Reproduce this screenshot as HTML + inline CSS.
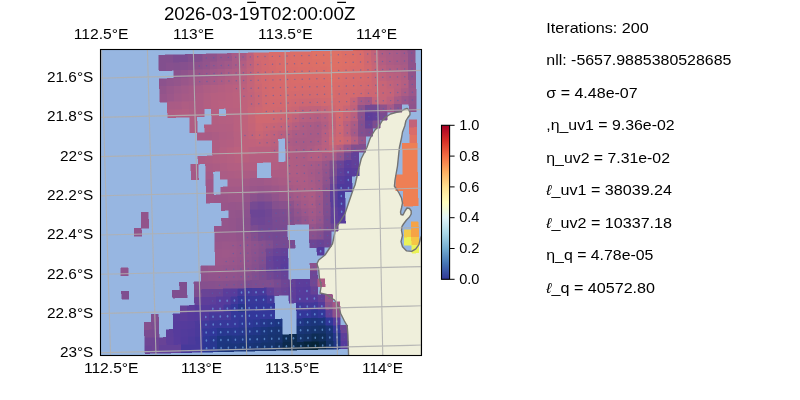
<!DOCTYPE html><html><head><meta charset="utf-8"><style>html,body{margin:0;padding:0;background:#fff;overflow:hidden}svg{display:block}</style></head><body><svg width="800" height="400" viewBox="0 0 800 400">
<defs>
<clipPath id="ax"><rect x="100.5" y="49.5" width="321" height="306"/></clipPath>
<linearGradient id="cb" x1="0" y1="1" x2="0" y2="0"><stop offset="0" stop-color="#313695"/><stop offset="0.05" stop-color="#3a54a4"/><stop offset="0.1" stop-color="#4574b3"/><stop offset="0.15" stop-color="#5c90c2"/><stop offset="0.2" stop-color="#74add1"/><stop offset="0.25" stop-color="#90c3dd"/><stop offset="0.3" stop-color="#aad8e9"/><stop offset="0.35" stop-color="#c5e6f0"/><stop offset="0.4" stop-color="#e0f3f8"/><stop offset="0.45" stop-color="#f0f9db"/><stop offset="0.5" stop-color="#fffebe"/><stop offset="0.55" stop-color="#fff0a8"/><stop offset="0.6" stop-color="#fee090"/><stop offset="0.65" stop-color="#fdc778"/><stop offset="0.7" stop-color="#fdad60"/><stop offset="0.75" stop-color="#f88c51"/><stop offset="0.8" stop-color="#f46d43"/><stop offset="0.85" stop-color="#e54e35"/><stop offset="0.9" stop-color="#d62f27"/><stop offset="0.95" stop-color="#bd1726"/><stop offset="1" stop-color="#a50026"/></linearGradient>
</defs>
<rect width="800" height="400" fill="#fff"/>
<g clip-path="url(#ax)">
<rect x="100" y="49" width="322" height="307" fill="#97b6e1"/>
<path d="M407,108.4 408.5,109.5 410,112.5 410,114.75 407.75,117.75 405.9,120.75 404.75,126 402.5,132 401.5,138 399.4,147.5 397.5,166 395,180 394.4,186.25 396.5,189 399,193 401.5,198 402.5,203 401.5,208 400.5,212 401,214.5 403,215 405,211 407,208 409.5,208.5 411.2,211 411.2,214 409.5,217 406.5,220 403.5,224 402,226.3 401.5,230.4 402.5,235.5 401,241.6 402.5,246.8 406.6,250.9 411.7,251.4 415.8,248.8 418.9,244.7 420.4,238.6 421.5,236 421.5,356 348.6,356 347.9,335 347.2,325.9 344.4,321 340.9,314 338.1,305.6 334.6,300 332.5,298.75 326.25,294.4 320,293 321.25,286 319.4,278 318.75,270 318.1,267.5 316.9,263.75 318.75,260 325,255 332.5,243.75 335,232 337,226 338.75,223.75 345,213.75 348.75,202.5 353,190 355,185 358.75,168.75 361.25,158.75 366.9,147.5 370,138.75 371.9,135 375,130 379,126 380,124.5 382.25,120.75 386,117 390.5,114 395.75,112.5 401.75,111 404,109.5Z" fill="#efefdb"/>
<g shape-rendering="crispEdges"><path d="M158.6,55.15 165.93,54.97 166.15,62.81 158.81,62.99Z" fill="#824f8e" stroke="#824f8e" stroke-width="0.5"/><path d="M165.93,54.97 173.27,54.8 173.48,62.64 166.15,62.81Z" fill="#824f8e" stroke="#824f8e" stroke-width="0.5"/><path d="M173.27,54.8 180.6,54.62 180.81,62.46 173.48,62.64Z" fill="#7b4c90" stroke="#7b4c90" stroke-width="0.5"/><path d="M180.6,54.62 187.93,54.45 188.14,62.29 180.81,62.46Z" fill="#7b4c90" stroke="#7b4c90" stroke-width="0.5"/><path d="M187.93,54.45 195.27,54.27 195.47,62.11 188.14,62.29Z" fill="#824f8e" stroke="#824f8e" stroke-width="0.5"/><path d="M195.27,54.27 202.6,54.1 202.8,61.94 195.47,62.11Z" fill="#824f8e" stroke="#824f8e" stroke-width="0.5"/><path d="M202.6,54.1 209.94,53.92 210.14,61.76 202.8,61.94Z" fill="#8f538c" stroke="#8f538c" stroke-width="0.5"/><path d="M209.94,53.92 217.27,53.75 217.47,61.59 210.14,61.76Z" fill="#8f538c" stroke="#8f538c" stroke-width="0.5"/><path d="M217.27,53.75 224.6,53.57 224.8,61.41 217.47,61.59Z" fill="#99568a" stroke="#99568a" stroke-width="0.5"/><path d="M224.6,53.57 231.94,53.4 232.13,61.24 224.8,61.41Z" fill="#99568a" stroke="#99568a" stroke-width="0.5"/><path d="M231.94,53.4 239.27,53.22 239.46,61.06 232.13,61.24Z" fill="#a85b86" stroke="#a85b86" stroke-width="0.5"/><path d="M239.27,53.22 246.6,53.04 246.79,60.89 239.46,61.06Z" fill="#a85b86" stroke="#a85b86" stroke-width="0.5"/><path d="M246.6,53.04 253.94,52.87 254.13,60.71 246.79,60.89Z" fill="#bc617e" stroke="#bc617e" stroke-width="0.5"/><path d="M253.94,52.87 261.27,52.69 261.46,60.54 254.13,60.71Z" fill="#d16970" stroke="#d16970" stroke-width="0.5"/><path d="M261.27,52.69 268.6,52.52 268.79,60.36 261.46,60.54Z" fill="#d16970" stroke="#d16970" stroke-width="0.5"/><path d="M268.6,52.52 275.94,52.34 276.12,60.19 268.79,60.36Z" fill="#da6c6a" stroke="#da6c6a" stroke-width="0.5"/><path d="M275.94,52.34 283.27,52.17 283.45,60.01 276.12,60.19Z" fill="#da6c6a" stroke="#da6c6a" stroke-width="0.5"/><path d="M283.27,52.17 290.61,51.99 290.78,59.83 283.45,60.01Z" fill="#da6c6a" stroke="#da6c6a" stroke-width="0.5"/><path d="M290.61,51.99 297.94,51.82 298.12,59.66 290.78,59.83Z" fill="#dc6e67" stroke="#dc6e67" stroke-width="0.5"/><path d="M297.94,51.82 305.27,51.64 305.45,59.48 298.12,59.66Z" fill="#dc6e67" stroke="#dc6e67" stroke-width="0.5"/><path d="M305.27,51.64 312.61,51.47 312.78,59.31 305.45,59.48Z" fill="#dc6e67" stroke="#dc6e67" stroke-width="0.5"/><path d="M312.61,51.47 319.94,51.29 320.11,59.13 312.78,59.31Z" fill="#df7165" stroke="#df7165" stroke-width="0.5"/><path d="M319.94,51.29 327.27,51.12 327.44,58.96 320.11,59.13Z" fill="#df7165" stroke="#df7165" stroke-width="0.5"/><path d="M327.27,51.12 334.61,50.94 334.77,58.78 327.44,58.96Z" fill="#df7165" stroke="#df7165" stroke-width="0.5"/><path d="M334.61,50.94 341.94,50.77 342.1,58.61 334.77,58.78Z" fill="#df7165" stroke="#df7165" stroke-width="0.5"/><path d="M341.94,50.77 349.27,50.59 349.44,58.43 342.1,58.61Z" fill="#dc6e67" stroke="#dc6e67" stroke-width="0.5"/><path d="M349.27,50.59 356.61,50.41 356.77,58.26 349.44,58.43Z" fill="#dc6e67" stroke="#dc6e67" stroke-width="0.5"/><path d="M356.61,50.41 363.94,50.24 364.1,58.08 356.77,58.26Z" fill="#da6c6a" stroke="#da6c6a" stroke-width="0.5"/><path d="M363.94,50.24 371.28,50.06 371.43,57.91 364.1,58.08Z" fill="#ce6872" stroke="#ce6872" stroke-width="0.5"/><path d="M371.28,50.06 378.61,49.89 378.76,57.73 371.43,57.91Z" fill="#c2637a" stroke="#c2637a" stroke-width="0.5"/><path d="M378.61,49.89 385.94,49.71 386.09,57.56 378.76,57.73Z" fill="#b05d82" stroke="#b05d82" stroke-width="0.5"/><path d="M385.94,49.71 393.28,49.54 393.43,57.38 386.09,57.56Z" fill="#ab5c85" stroke="#ab5c85" stroke-width="0.5"/><path d="M393.28,49.54 400.61,49.36 400.76,57.21 393.43,57.38Z" fill="#a85b86" stroke="#a85b86" stroke-width="0.5"/><path d="M400.61,49.36 407.94,49.19 408.09,57.03 400.76,57.21Z" fill="#a25988" stroke="#a25988" stroke-width="0.5"/><path d="M407.94,49.19 415.28,49.01 415.42,56.85 408.09,57.03Z" fill="#8f538c" stroke="#8f538c" stroke-width="0.5"/><path d="M158.81,62.99 166.15,62.81 166.36,70.66 159.03,70.83Z" fill="#824f8e" stroke="#824f8e" stroke-width="0.5"/><path d="M166.15,62.81 173.48,62.64 173.69,70.48 166.36,70.66Z" fill="#86508e" stroke="#86508e" stroke-width="0.5"/><path d="M173.48,62.64 180.81,62.46 181.02,70.31 173.69,70.48Z" fill="#84508e" stroke="#84508e" stroke-width="0.5"/><path d="M180.81,62.46 188.14,62.29 188.35,70.13 181.02,70.31Z" fill="#86508e" stroke="#86508e" stroke-width="0.5"/><path d="M188.14,62.29 195.47,62.11 195.68,69.96 188.35,70.13Z" fill="#8a518d" stroke="#8a518d" stroke-width="0.5"/><path d="M195.47,62.11 202.8,61.94 203.01,69.78 195.68,69.96Z" fill="#8d528c" stroke="#8d528c" stroke-width="0.5"/><path d="M202.8,61.94 210.14,61.76 210.34,69.6 203.01,69.78Z" fill="#92548b" stroke="#92548b" stroke-width="0.5"/><path d="M210.14,61.76 217.47,61.59 217.67,69.43 210.34,69.6Z" fill="#98568a" stroke="#98568a" stroke-width="0.5"/><path d="M217.47,61.59 224.8,61.41 225,69.25 217.67,69.43Z" fill="#9d5789" stroke="#9d5789" stroke-width="0.5"/><path d="M224.8,61.41 232.13,61.24 232.33,69.08 225,69.25Z" fill="#a15988" stroke="#a15988" stroke-width="0.5"/><path d="M232.13,61.24 239.46,61.06 239.66,68.9 232.33,69.08Z" fill="#a85b86" stroke="#a85b86" stroke-width="0.5"/><path d="M239.46,61.06 246.79,60.89 246.98,68.73 239.66,68.9Z" fill="#b25e82" stroke="#b25e82" stroke-width="0.5"/><path d="M246.79,60.89 254.13,60.71 254.31,68.55 246.98,68.73Z" fill="#be627c" stroke="#be627c" stroke-width="0.5"/><path d="M254.13,60.71 261.46,60.54 261.64,68.38 254.31,68.55Z" fill="#cd6773" stroke="#cd6773" stroke-width="0.5"/><path d="M261.46,60.54 268.79,60.36 268.97,68.2 261.64,68.38Z" fill="#d3696f" stroke="#d3696f" stroke-width="0.5"/><path d="M268.79,60.36 276.12,60.19 276.3,68.03 268.97,68.2Z" fill="#d66a6d" stroke="#d66a6d" stroke-width="0.5"/><path d="M276.12,60.19 283.45,60.01 283.63,67.85 276.3,68.03Z" fill="#d96c6b" stroke="#d96c6b" stroke-width="0.5"/><path d="M283.45,60.01 290.78,59.83 290.96,67.68 283.63,67.85Z" fill="#da6c6a" stroke="#da6c6a" stroke-width="0.5"/><path d="M290.78,59.83 298.12,59.66 298.29,67.5 290.96,67.68Z" fill="#db6d69" stroke="#db6d69" stroke-width="0.5"/><path d="M298.12,59.66 305.45,59.48 305.62,67.33 298.29,67.5Z" fill="#dc6e68" stroke="#dc6e68" stroke-width="0.5"/><path d="M305.45,59.48 312.78,59.31 312.95,67.15 305.62,67.33Z" fill="#dc6e67" stroke="#dc6e67" stroke-width="0.5"/><path d="M312.78,59.31 320.11,59.13 320.28,66.98 312.95,67.15Z" fill="#dd6f66" stroke="#dd6f66" stroke-width="0.5"/><path d="M320.11,59.13 327.44,58.96 327.61,66.8 320.28,66.98Z" fill="#de7066" stroke="#de7066" stroke-width="0.5"/><path d="M327.44,58.96 334.77,58.78 334.94,66.63 327.61,66.8Z" fill="#de7066" stroke="#de7066" stroke-width="0.5"/><path d="M334.77,58.78 342.1,58.61 342.27,66.45 334.94,66.63Z" fill="#de7066" stroke="#de7066" stroke-width="0.5"/><path d="M342.1,58.61 349.44,58.43 349.6,66.28 342.27,66.45Z" fill="#dd6f67" stroke="#dd6f67" stroke-width="0.5"/><path d="M349.44,58.43 356.77,58.26 356.93,66.1 349.6,66.28Z" fill="#dc6e67" stroke="#dc6e67" stroke-width="0.5"/><path d="M356.77,58.26 364.1,58.08 364.26,65.92 356.93,66.1Z" fill="#da6c6a" stroke="#da6c6a" stroke-width="0.5"/><path d="M364.1,58.08 371.43,57.91 371.59,65.75 364.26,65.92Z" fill="#d06870" stroke="#d06870" stroke-width="0.5"/><path d="M371.43,57.91 378.76,57.73 378.92,65.57 371.59,65.75Z" fill="#c46479" stroke="#c46479" stroke-width="0.5"/><path d="M378.76,57.73 386.09,57.56 386.25,65.4 378.92,65.57Z" fill="#b45e81" stroke="#b45e81" stroke-width="0.5"/><path d="M386.09,57.56 393.43,57.38 393.58,65.22 386.25,65.4Z" fill="#ad5c84" stroke="#ad5c84" stroke-width="0.5"/><path d="M393.43,57.38 400.76,57.21 400.91,65.05 393.58,65.22Z" fill="#a95b85" stroke="#a95b85" stroke-width="0.5"/><path d="M400.76,57.21 408.09,57.03 408.23,64.87 400.91,65.05Z" fill="#a45a87" stroke="#a45a87" stroke-width="0.5"/><path d="M408.09,57.03 415.42,56.85 415.56,64.7 408.23,64.87Z" fill="#8f538c" stroke="#8f538c" stroke-width="0.5"/><path d="M173.69,70.48 181.02,70.31 181.23,78.15 173.9,78.32Z" fill="#8b528d" stroke="#8b528d" stroke-width="0.5"/><path d="M181.02,70.31 188.35,70.13 188.56,77.97 181.23,78.15Z" fill="#8f538c" stroke="#8f538c" stroke-width="0.5"/><path d="M188.35,70.13 195.68,69.96 195.88,77.8 188.56,77.97Z" fill="#95558b" stroke="#95558b" stroke-width="0.5"/><path d="M195.68,69.96 203.01,69.78 203.21,77.62 195.88,77.8Z" fill="#99568a" stroke="#99568a" stroke-width="0.5"/><path d="M203.01,69.78 210.34,69.6 210.54,77.45 203.21,77.62Z" fill="#9c578a" stroke="#9c578a" stroke-width="0.5"/><path d="M210.34,69.6 217.67,69.43 217.87,77.27 210.54,77.45Z" fill="#a15988" stroke="#a15988" stroke-width="0.5"/><path d="M217.67,69.43 225,69.25 225.19,77.1 217.87,77.27Z" fill="#a65a86" stroke="#a65a86" stroke-width="0.5"/><path d="M225,69.25 232.33,69.08 232.52,76.92 225.19,77.1Z" fill="#ab5c85" stroke="#ab5c85" stroke-width="0.5"/><path d="M232.33,69.08 239.66,68.9 239.85,76.75 232.52,76.92Z" fill="#af5d83" stroke="#af5d83" stroke-width="0.5"/><path d="M239.66,68.9 246.98,68.73 247.18,76.57 239.85,76.75Z" fill="#b76080" stroke="#b76080" stroke-width="0.5"/><path d="M246.98,68.73 254.31,68.55 254.5,76.4 247.18,76.57Z" fill="#c1637a" stroke="#c1637a" stroke-width="0.5"/><path d="M254.31,68.55 261.64,68.38 261.83,76.22 254.5,76.4Z" fill="#cd6773" stroke="#cd6773" stroke-width="0.5"/><path d="M261.64,68.38 268.97,68.2 269.16,76.04 261.83,76.22Z" fill="#d3696f" stroke="#d3696f" stroke-width="0.5"/><path d="M268.97,68.2 276.3,68.03 276.49,75.87 269.16,76.04Z" fill="#d56a6d" stroke="#d56a6d" stroke-width="0.5"/><path d="M276.3,68.03 283.63,67.85 283.81,75.69 276.49,75.87Z" fill="#d86b6b" stroke="#d86b6b" stroke-width="0.5"/><path d="M283.63,67.85 290.96,67.68 291.14,75.52 283.81,75.69Z" fill="#d96c6b" stroke="#d96c6b" stroke-width="0.5"/><path d="M290.96,67.68 298.29,67.5 298.47,75.34 291.14,75.52Z" fill="#da6c6a" stroke="#da6c6a" stroke-width="0.5"/><path d="M298.29,67.5 305.62,67.33 305.8,75.17 298.47,75.34Z" fill="#db6d69" stroke="#db6d69" stroke-width="0.5"/><path d="M305.62,67.33 312.95,67.15 313.12,74.99 305.8,75.17Z" fill="#db6d69" stroke="#db6d69" stroke-width="0.5"/><path d="M312.95,67.15 320.28,66.98 320.45,74.82 313.12,74.99Z" fill="#dc6e68" stroke="#dc6e68" stroke-width="0.5"/><path d="M320.28,66.98 327.61,66.8 327.78,74.64 320.45,74.82Z" fill="#dc6e67" stroke="#dc6e67" stroke-width="0.5"/><path d="M327.61,66.8 334.94,66.63 335.11,74.47 327.78,74.64Z" fill="#dd6f67" stroke="#dd6f67" stroke-width="0.5"/><path d="M334.94,66.63 342.27,66.45 342.43,74.29 335.11,74.47Z" fill="#dd6f67" stroke="#dd6f67" stroke-width="0.5"/><path d="M342.27,66.45 349.6,66.28 349.76,74.12 342.43,74.29Z" fill="#dc6e68" stroke="#dc6e68" stroke-width="0.5"/><path d="M349.6,66.28 356.93,66.1 357.09,73.94 349.76,74.12Z" fill="#da6c6a" stroke="#da6c6a" stroke-width="0.5"/><path d="M356.93,66.1 364.26,65.92 364.42,73.77 357.09,73.94Z" fill="#d96c6b" stroke="#d96c6b" stroke-width="0.5"/><path d="M364.26,65.92 371.59,65.75 371.74,73.59 364.42,73.77Z" fill="#d2696f" stroke="#d2696f" stroke-width="0.5"/><path d="M371.59,65.75 378.92,65.57 379.07,73.42 371.74,73.59Z" fill="#c76577" stroke="#c76577" stroke-width="0.5"/><path d="M378.92,65.57 386.25,65.4 386.4,73.24 379.07,73.42Z" fill="#ba607f" stroke="#ba607f" stroke-width="0.5"/><path d="M386.25,65.4 393.58,65.22 393.73,73.07 386.4,73.24Z" fill="#b25e82" stroke="#b25e82" stroke-width="0.5"/><path d="M393.58,65.22 400.91,65.05 401.05,72.89 393.73,73.07Z" fill="#af5d83" stroke="#af5d83" stroke-width="0.5"/><path d="M400.91,65.05 408.23,64.87 408.38,72.72 401.05,72.89Z" fill="#a95b85" stroke="#a95b85" stroke-width="0.5"/><path d="M408.23,64.87 415.56,64.7 415.71,72.54 408.38,72.72Z" fill="#90538c" stroke="#90538c" stroke-width="0.5"/><path d="M159.25,78.67 166.57,78.5 166.79,86.34 159.46,86.51Z" fill="#8c528d" stroke="#8c528d" stroke-width="0.5"/><path d="M166.57,78.5 173.9,78.32 174.11,86.16 166.79,86.34Z" fill="#91548c" stroke="#91548c" stroke-width="0.5"/><path d="M173.9,78.32 181.23,78.15 181.44,85.99 174.11,86.16Z" fill="#94558b" stroke="#94558b" stroke-width="0.5"/><path d="M181.23,78.15 188.56,77.97 188.76,85.81 181.44,85.99Z" fill="#99568a" stroke="#99568a" stroke-width="0.5"/><path d="M188.56,77.97 195.88,77.8 196.09,85.64 188.76,85.81Z" fill="#9e5889" stroke="#9e5889" stroke-width="0.5"/><path d="M195.88,77.8 203.21,77.62 203.41,85.46 196.09,85.64Z" fill="#a15988" stroke="#a15988" stroke-width="0.5"/><path d="M203.21,77.62 210.54,77.45 210.74,85.29 203.41,85.46Z" fill="#a55a87" stroke="#a55a87" stroke-width="0.5"/><path d="M210.54,77.45 217.87,77.27 218.06,85.11 210.74,85.29Z" fill="#a85b86" stroke="#a85b86" stroke-width="0.5"/><path d="M217.87,77.27 225.19,77.1 225.39,84.94 218.06,85.11Z" fill="#ad5c84" stroke="#ad5c84" stroke-width="0.5"/><path d="M225.19,77.1 232.52,76.92 232.72,84.76 225.39,84.94Z" fill="#b15e82" stroke="#b15e82" stroke-width="0.5"/><path d="M232.52,76.92 239.85,76.75 240.04,84.59 232.72,84.76Z" fill="#b55f81" stroke="#b55f81" stroke-width="0.5"/><path d="M239.85,76.75 247.18,76.57 247.37,84.41 240.04,84.59Z" fill="#b9607f" stroke="#b9607f" stroke-width="0.5"/><path d="M247.18,76.57 254.5,76.4 254.69,84.24 247.37,84.41Z" fill="#c36479" stroke="#c36479" stroke-width="0.5"/><path d="M254.5,76.4 261.83,76.22 262.02,84.06 254.69,84.24Z" fill="#ce6872" stroke="#ce6872" stroke-width="0.5"/><path d="M261.83,76.22 269.16,76.04 269.34,83.89 262.02,84.06Z" fill="#d3696f" stroke="#d3696f" stroke-width="0.5"/><path d="M269.16,76.04 276.49,75.87 276.67,83.71 269.34,83.89Z" fill="#d56a6d" stroke="#d56a6d" stroke-width="0.5"/><path d="M276.49,75.87 283.81,75.69 283.99,83.54 276.67,83.71Z" fill="#d76b6c" stroke="#d76b6c" stroke-width="0.5"/><path d="M283.81,75.69 291.14,75.52 291.32,83.36 283.99,83.54Z" fill="#d86b6b" stroke="#d86b6b" stroke-width="0.5"/><path d="M291.14,75.52 298.47,75.34 298.64,83.19 291.32,83.36Z" fill="#d96c6a" stroke="#d96c6a" stroke-width="0.5"/><path d="M298.47,75.34 305.8,75.17 305.97,83.01 298.64,83.19Z" fill="#da6c6a" stroke="#da6c6a" stroke-width="0.5"/><path d="M305.8,75.17 313.12,74.99 313.3,82.84 305.97,83.01Z" fill="#da6c6a" stroke="#da6c6a" stroke-width="0.5"/><path d="M313.12,74.99 320.45,74.82 320.62,82.66 313.3,82.84Z" fill="#da6c6a" stroke="#da6c6a" stroke-width="0.5"/><path d="M320.45,74.82 327.78,74.64 327.95,82.49 320.62,82.66Z" fill="#db6d69" stroke="#db6d69" stroke-width="0.5"/><path d="M327.78,74.64 335.11,74.47 335.27,82.31 327.95,82.49Z" fill="#dc6e68" stroke="#dc6e68" stroke-width="0.5"/><path d="M335.11,74.47 342.43,74.29 342.6,82.14 335.27,82.31Z" fill="#db6d69" stroke="#db6d69" stroke-width="0.5"/><path d="M342.43,74.29 349.76,74.12 349.92,81.96 342.6,82.14Z" fill="#d96c6b" stroke="#d96c6b" stroke-width="0.5"/><path d="M349.76,74.12 357.09,73.94 357.25,81.79 349.92,81.96Z" fill="#d76b6c" stroke="#d76b6c" stroke-width="0.5"/><path d="M357.09,73.94 364.42,73.77 364.57,81.61 357.25,81.79Z" fill="#d76b6c" stroke="#d76b6c" stroke-width="0.5"/><path d="M364.42,73.77 371.74,73.59 371.9,81.43 364.57,81.61Z" fill="#d46a6e" stroke="#d46a6e" stroke-width="0.5"/><path d="M371.74,73.59 379.07,73.42 379.22,81.26 371.9,81.43Z" fill="#ca6675" stroke="#ca6675" stroke-width="0.5"/><path d="M379.07,73.42 386.4,73.24 386.55,81.08 379.22,81.26Z" fill="#c1637b" stroke="#c1637b" stroke-width="0.5"/><path d="M386.4,73.24 393.73,73.07 393.88,80.91 386.55,81.08Z" fill="#bb617e" stroke="#bb617e" stroke-width="0.5"/><path d="M393.73,73.07 401.05,72.89 401.2,80.73 393.88,80.91Z" fill="#b86080" stroke="#b86080" stroke-width="0.5"/><path d="M401.05,72.89 408.38,72.72 408.53,80.56 401.2,80.73Z" fill="#b25e82" stroke="#b25e82" stroke-width="0.5"/><path d="M408.38,72.72 415.71,72.54 415.85,80.38 408.53,80.56Z" fill="#92548b" stroke="#92548b" stroke-width="0.5"/><path d="M159.46,86.51 166.79,86.34 167,94.18 159.68,94.36Z" fill="#92548b" stroke="#92548b" stroke-width="0.5"/><path d="M166.79,86.34 174.11,86.16 174.32,94 167,94.18Z" fill="#99568a" stroke="#99568a" stroke-width="0.5"/><path d="M174.11,86.16 181.44,85.99 181.65,93.83 174.32,94Z" fill="#9e5889" stroke="#9e5889" stroke-width="0.5"/><path d="M181.44,85.99 188.76,85.81 188.97,93.65 181.65,93.83Z" fill="#a25988" stroke="#a25988" stroke-width="0.5"/><path d="M188.76,85.81 196.09,85.64 196.29,93.48 188.97,93.65Z" fill="#a65a86" stroke="#a65a86" stroke-width="0.5"/><path d="M196.09,85.64 203.41,85.46 203.62,93.3 196.29,93.48Z" fill="#aa5b85" stroke="#aa5b85" stroke-width="0.5"/><path d="M203.41,85.46 210.74,85.29 210.94,93.13 203.62,93.3Z" fill="#ae5d83" stroke="#ae5d83" stroke-width="0.5"/><path d="M210.74,85.29 218.06,85.11 218.26,92.95 210.94,93.13Z" fill="#b15e82" stroke="#b15e82" stroke-width="0.5"/><path d="M218.06,85.11 225.39,84.94 225.59,92.78 218.26,92.95Z" fill="#b45e81" stroke="#b45e81" stroke-width="0.5"/><path d="M225.39,84.94 232.72,84.76 232.91,92.6 225.59,92.78Z" fill="#b75f80" stroke="#b75f80" stroke-width="0.5"/><path d="M232.72,84.76 240.04,84.59 240.23,92.43 232.91,92.6Z" fill="#ba607f" stroke="#ba607f" stroke-width="0.5"/><path d="M240.04,84.59 247.37,84.41 247.56,92.25 240.23,92.43Z" fill="#bd617d" stroke="#bd617d" stroke-width="0.5"/><path d="M247.37,84.41 254.69,84.24 254.88,92.08 247.56,92.25Z" fill="#c46479" stroke="#c46479" stroke-width="0.5"/><path d="M254.69,84.24 262.02,84.06 262.2,91.9 254.88,92.08Z" fill="#cc6773" stroke="#cc6773" stroke-width="0.5"/><path d="M262.02,84.06 269.34,83.89 269.53,91.73 262.2,91.9Z" fill="#d3696f" stroke="#d3696f" stroke-width="0.5"/><path d="M269.34,83.89 276.67,83.71 276.85,91.55 269.53,91.73Z" fill="#d56a6d" stroke="#d56a6d" stroke-width="0.5"/><path d="M276.67,83.71 283.99,83.54 284.17,91.38 276.85,91.55Z" fill="#d66a6d" stroke="#d66a6d" stroke-width="0.5"/><path d="M283.99,83.54 291.32,83.36 291.5,91.2 284.17,91.38Z" fill="#d76b6c" stroke="#d76b6c" stroke-width="0.5"/><path d="M291.32,83.36 298.64,83.19 298.82,91.03 291.5,91.2Z" fill="#d86b6c" stroke="#d86b6c" stroke-width="0.5"/><path d="M298.64,83.19 305.97,83.01 306.14,90.85 298.82,91.03Z" fill="#d76b6c" stroke="#d76b6c" stroke-width="0.5"/><path d="M305.97,83.01 313.3,82.84 313.47,90.68 306.14,90.85Z" fill="#d76b6c" stroke="#d76b6c" stroke-width="0.5"/><path d="M313.3,82.84 320.62,82.66 320.79,90.5 313.47,90.68Z" fill="#d76b6c" stroke="#d76b6c" stroke-width="0.5"/><path d="M320.62,82.66 327.95,82.49 328.11,90.33 320.79,90.5Z" fill="#d96c6b" stroke="#d96c6b" stroke-width="0.5"/><path d="M327.95,82.49 335.27,82.31 335.44,90.15 328.11,90.33Z" fill="#da6c6a" stroke="#da6c6a" stroke-width="0.5"/><path d="M335.27,82.31 342.6,82.14 342.76,89.98 335.44,90.15Z" fill="#d96c6a" stroke="#d96c6a" stroke-width="0.5"/><path d="M342.6,82.14 349.92,81.96 350.08,89.8 342.76,89.98Z" fill="#d76b6c" stroke="#d76b6c" stroke-width="0.5"/><path d="M349.92,81.96 357.25,81.79 357.41,89.63 350.08,89.8Z" fill="#d76b6c" stroke="#d76b6c" stroke-width="0.5"/><path d="M357.25,81.79 364.57,81.61 364.73,89.45 357.41,89.63Z" fill="#d46a6e" stroke="#d46a6e" stroke-width="0.5"/><path d="M364.57,81.61 371.9,81.43 372.05,89.28 364.73,89.45Z" fill="#d2696f" stroke="#d2696f" stroke-width="0.5"/><path d="M371.9,81.43 379.22,81.26 379.38,89.1 372.05,89.28Z" fill="#cb6774" stroke="#cb6774" stroke-width="0.5"/><path d="M379.22,81.26 386.55,81.08 386.7,88.93 379.38,89.1Z" fill="#c86576" stroke="#c86576" stroke-width="0.5"/><path d="M386.55,81.08 393.88,80.91 394.02,88.75 386.7,88.93Z" fill="#c1637a" stroke="#c1637a" stroke-width="0.5"/><path d="M393.88,80.91 401.2,80.73 401.35,88.58 394.02,88.75Z" fill="#bc617e" stroke="#bc617e" stroke-width="0.5"/><path d="M401.2,80.73 408.53,80.56 408.67,88.4 401.35,88.58Z" fill="#b55f81" stroke="#b55f81" stroke-width="0.5"/><path d="M408.53,80.56 415.85,80.38 415.99,88.23 408.67,88.4Z" fill="#99568a" stroke="#99568a" stroke-width="0.5"/><path d="M159.68,94.36 167,94.18 167.21,102.02 159.89,102.2Z" fill="#97558b" stroke="#97558b" stroke-width="0.5"/><path d="M167,94.18 174.32,94 174.53,101.85 167.21,102.02Z" fill="#9c578a" stroke="#9c578a" stroke-width="0.5"/><path d="M174.32,94 181.65,93.83 181.86,101.67 174.53,101.85Z" fill="#a25988" stroke="#a25988" stroke-width="0.5"/><path d="M181.65,93.83 188.97,93.65 189.18,101.5 181.86,101.67Z" fill="#a65a86" stroke="#a65a86" stroke-width="0.5"/><path d="M188.97,93.65 196.29,93.48 196.5,101.32 189.18,101.5Z" fill="#a75b86" stroke="#a75b86" stroke-width="0.5"/><path d="M196.29,93.48 203.62,93.3 203.82,101.15 196.5,101.32Z" fill="#ad5c84" stroke="#ad5c84" stroke-width="0.5"/><path d="M203.62,93.3 210.94,93.13 211.14,100.97 203.82,101.15Z" fill="#b25e82" stroke="#b25e82" stroke-width="0.5"/><path d="M210.94,93.13 218.26,92.95 218.46,100.8 211.14,100.97Z" fill="#b65f80" stroke="#b65f80" stroke-width="0.5"/><path d="M218.26,92.95 225.59,92.78 225.78,100.62 218.46,100.8Z" fill="#b75f80" stroke="#b75f80" stroke-width="0.5"/><path d="M225.59,92.78 232.91,92.6 233.11,100.45 225.78,100.62Z" fill="#b9607f" stroke="#b9607f" stroke-width="0.5"/><path d="M232.91,92.6 240.23,92.43 240.43,100.27 233.11,100.45Z" fill="#bb617e" stroke="#bb617e" stroke-width="0.5"/><path d="M240.23,92.43 247.56,92.25 247.75,100.1 240.43,100.27Z" fill="#be627d" stroke="#be627d" stroke-width="0.5"/><path d="M247.56,92.25 254.88,92.08 255.07,99.92 247.75,100.1Z" fill="#c2637a" stroke="#c2637a" stroke-width="0.5"/><path d="M254.88,92.08 262.2,91.9 262.39,99.75 255.07,99.92Z" fill="#c96675" stroke="#c96675" stroke-width="0.5"/><path d="M262.2,91.9 269.53,91.73 269.71,99.57 262.39,99.75Z" fill="#d16970" stroke="#d16970" stroke-width="0.5"/><path d="M269.53,91.73 276.85,91.55 277.03,99.4 269.71,99.57Z" fill="#d56a6e" stroke="#d56a6e" stroke-width="0.5"/><path d="M276.85,91.55 284.17,91.38 284.35,99.22 277.03,99.4Z" fill="#d56a6e" stroke="#d56a6e" stroke-width="0.5"/><path d="M284.17,91.38 291.5,91.2 291.68,99.05 284.35,99.22Z" fill="#d56a6d" stroke="#d56a6d" stroke-width="0.5"/><path d="M291.5,91.2 298.82,91.03 299,98.87 291.68,99.05Z" fill="#d46a6e" stroke="#d46a6e" stroke-width="0.5"/><path d="M298.82,91.03 306.14,90.85 306.32,98.7 299,98.87Z" fill="#d36a6e" stroke="#d36a6e" stroke-width="0.5"/><path d="M306.14,90.85 313.47,90.68 313.64,98.52 306.32,98.7Z" fill="#d36a6e" stroke="#d36a6e" stroke-width="0.5"/><path d="M313.47,90.68 320.79,90.5 320.96,98.35 313.64,98.52Z" fill="#d46a6e" stroke="#d46a6e" stroke-width="0.5"/><path d="M320.79,90.5 328.11,90.33 328.28,98.17 320.96,98.35Z" fill="#d66b6d" stroke="#d66b6d" stroke-width="0.5"/><path d="M328.11,90.33 335.44,90.15 335.6,98 328.28,98.17Z" fill="#d86b6b" stroke="#d86b6b" stroke-width="0.5"/><path d="M335.44,90.15 342.76,89.98 342.93,97.82 335.6,98Z" fill="#d56a6d" stroke="#d56a6d" stroke-width="0.5"/><path d="M342.76,89.98 350.08,89.8 350.25,97.65 342.93,97.82Z" fill="#d46a6e" stroke="#d46a6e" stroke-width="0.5"/><path d="M350.08,89.8 357.41,89.63 357.57,97.47 350.25,97.65Z" fill="#d46a6e" stroke="#d46a6e" stroke-width="0.5"/><path d="M357.41,89.63 364.73,89.45 364.89,97.3 357.57,97.47Z" fill="#d26970" stroke="#d26970" stroke-width="0.5"/><path d="M364.73,89.45 372.05,89.28 372.21,97.12 364.89,97.3Z" fill="#cc6773" stroke="#cc6773" stroke-width="0.5"/><path d="M372.05,89.28 379.38,89.1 379.53,96.95 372.21,97.12Z" fill="#cd6773" stroke="#cd6773" stroke-width="0.5"/><path d="M379.38,89.1 386.7,88.93 386.85,96.77 379.53,96.95Z" fill="#c86576" stroke="#c86576" stroke-width="0.5"/><path d="M386.7,88.93 394.02,88.75 394.17,96.6 386.85,96.77Z" fill="#c56478" stroke="#c56478" stroke-width="0.5"/><path d="M394.02,88.75 401.35,88.58 401.5,96.42 394.17,96.6Z" fill="#b9607f" stroke="#b9607f" stroke-width="0.5"/><path d="M401.35,88.58 408.67,88.4 408.82,96.25 401.5,96.42Z" fill="#ac5c84" stroke="#ac5c84" stroke-width="0.5"/><path d="M408.67,88.4 415.99,88.23 416.14,96.07 408.82,96.25Z" fill="#9c578a" stroke="#9c578a" stroke-width="0.5"/><path d="M167.21,102.02 174.53,101.85 174.75,109.69 167.43,109.86Z" fill="#a95b85" stroke="#a95b85" stroke-width="0.5"/><path d="M174.53,101.85 181.86,101.67 182.07,109.51 174.75,109.69Z" fill="#aa5b85" stroke="#aa5b85" stroke-width="0.5"/><path d="M181.86,101.67 189.18,101.5 189.38,109.34 182.07,109.51Z" fill="#ae5d83" stroke="#ae5d83" stroke-width="0.5"/><path d="M189.18,101.5 196.5,101.32 196.7,109.16 189.38,109.34Z" fill="#ac5c84" stroke="#ac5c84" stroke-width="0.5"/><path d="M196.5,101.32 203.82,101.15 204.02,108.99 196.7,109.16Z" fill="#ad5c84" stroke="#ad5c84" stroke-width="0.5"/><path d="M203.82,101.15 211.14,100.97 211.34,108.81 204.02,108.99Z" fill="#b35e81" stroke="#b35e81" stroke-width="0.5"/><path d="M211.14,100.97 218.46,100.8 218.66,108.64 211.34,108.81Z" fill="#b75f80" stroke="#b75f80" stroke-width="0.5"/><path d="M218.46,100.8 225.78,100.62 225.98,108.46 218.66,108.64Z" fill="#b9607f" stroke="#b9607f" stroke-width="0.5"/><path d="M225.78,100.62 233.11,100.45 233.3,108.29 225.98,108.46Z" fill="#ba607f" stroke="#ba607f" stroke-width="0.5"/><path d="M233.11,100.45 240.43,100.27 240.62,108.11 233.3,108.29Z" fill="#bb617e" stroke="#bb617e" stroke-width="0.5"/><path d="M240.43,100.27 247.75,100.1 247.94,107.94 240.62,108.11Z" fill="#bf627c" stroke="#bf627c" stroke-width="0.5"/><path d="M247.75,100.1 255.07,99.92 255.26,107.76 247.94,107.94Z" fill="#c46478" stroke="#c46478" stroke-width="0.5"/><path d="M255.07,99.92 262.39,99.75 262.58,107.59 255.26,107.76Z" fill="#ca6675" stroke="#ca6675" stroke-width="0.5"/><path d="M262.39,99.75 269.71,99.57 269.9,107.41 262.58,107.59Z" fill="#d16970" stroke="#d16970" stroke-width="0.5"/><path d="M269.71,99.57 277.03,99.4 277.22,107.24 269.9,107.41Z" fill="#d3696f" stroke="#d3696f" stroke-width="0.5"/><path d="M277.03,99.4 284.35,99.22 284.54,107.06 277.22,107.24Z" fill="#d3696f" stroke="#d3696f" stroke-width="0.5"/><path d="M284.35,99.22 291.68,99.05 291.85,106.89 284.54,107.06Z" fill="#d26970" stroke="#d26970" stroke-width="0.5"/><path d="M291.68,99.05 299,98.87 299.17,106.71 291.85,106.89Z" fill="#d06871" stroke="#d06871" stroke-width="0.5"/><path d="M299,98.87 306.32,98.7 306.49,106.54 299.17,106.71Z" fill="#cd6773" stroke="#cd6773" stroke-width="0.5"/><path d="M306.32,98.7 313.64,98.52 313.81,106.36 306.49,106.54Z" fill="#cd6772" stroke="#cd6772" stroke-width="0.5"/><path d="M313.64,98.52 320.96,98.35 321.13,106.19 313.81,106.36Z" fill="#ce6872" stroke="#ce6872" stroke-width="0.5"/><path d="M320.96,98.35 328.28,98.17 328.45,106.01 321.13,106.19Z" fill="#d2696f" stroke="#d2696f" stroke-width="0.5"/><path d="M328.28,98.17 335.6,98 335.77,105.84 328.45,106.01Z" fill="#d3696f" stroke="#d3696f" stroke-width="0.5"/><path d="M335.6,98 342.93,97.82 343.09,105.66 335.77,105.84Z" fill="#d46a6e" stroke="#d46a6e" stroke-width="0.5"/><path d="M342.93,97.82 350.25,97.65 350.41,105.49 343.09,105.66Z" fill="#d46a6e" stroke="#d46a6e" stroke-width="0.5"/><path d="M350.25,97.65 357.57,97.47 357.73,105.31 350.41,105.49Z" fill="#c56478" stroke="#c56478" stroke-width="0.5"/><path d="M357.57,97.47 364.89,97.3 365.05,105.14 357.73,105.31Z" fill="#a95b85" stroke="#a95b85" stroke-width="0.5"/><path d="M364.89,97.3 372.21,97.12 372.37,104.96 365.05,105.14Z" fill="#a35987" stroke="#a35987" stroke-width="0.5"/><path d="M372.21,97.12 379.53,96.95 379.69,104.79 372.37,104.96Z" fill="#c2637a" stroke="#c2637a" stroke-width="0.5"/><path d="M379.53,96.95 386.85,96.77 387,104.61 379.69,104.79Z" fill="#c66578" stroke="#c66578" stroke-width="0.5"/><path d="M386.85,96.77 394.17,96.6 394.32,104.44 387,104.61Z" fill="#bd617d" stroke="#bd617d" stroke-width="0.5"/><path d="M394.17,96.6 401.5,96.42 401.64,104.26 394.32,104.44Z" fill="#a95b85" stroke="#a95b85" stroke-width="0.5"/><path d="M401.5,96.42 408.82,96.25 408.96,104.09 401.64,104.26Z" fill="#9c578a" stroke="#9c578a" stroke-width="0.5"/><path d="M408.82,96.25 416.14,96.07 416.28,103.91 408.96,104.09Z" fill="#92548b" stroke="#92548b" stroke-width="0.5"/><path d="M167.43,109.86 174.75,109.69 174.96,117.53 167.64,117.7Z" fill="#b05d83" stroke="#b05d83" stroke-width="0.5"/><path d="M174.75,109.69 182.07,109.51 182.27,117.35 174.96,117.53Z" fill="#b15e82" stroke="#b15e82" stroke-width="0.5"/><path d="M182.07,109.51 189.38,109.34 189.59,117.18 182.27,117.35Z" fill="#b25e82" stroke="#b25e82" stroke-width="0.5"/><path d="M189.38,109.34 196.7,109.16 196.91,117 189.59,117.18Z" fill="#ae5d83" stroke="#ae5d83" stroke-width="0.5"/><path d="M196.7,109.16 204.02,108.99 204.23,116.83 196.91,117Z" fill="#ad5c84" stroke="#ad5c84" stroke-width="0.5"/><path d="M211.34,108.81 218.66,108.64 218.86,116.48 211.54,116.65Z" fill="#b55f81" stroke="#b55f81" stroke-width="0.5"/><path d="M225.98,108.46 233.3,108.29 233.5,116.13 226.18,116.3Z" fill="#b86080" stroke="#b86080" stroke-width="0.5"/><path d="M233.3,108.29 240.62,108.11 240.81,115.95 233.5,116.13Z" fill="#b9607f" stroke="#b9607f" stroke-width="0.5"/><path d="M240.62,108.11 247.94,107.94 248.13,115.78 240.81,115.95Z" fill="#bf627c" stroke="#bf627c" stroke-width="0.5"/><path d="M247.94,107.94 255.26,107.76 255.45,115.6 248.13,115.78Z" fill="#c76577" stroke="#c76577" stroke-width="0.5"/><path d="M255.26,107.76 262.58,107.59 262.76,115.43 255.45,115.6Z" fill="#cd6773" stroke="#cd6773" stroke-width="0.5"/><path d="M262.58,107.59 269.9,107.41 270.08,115.26 262.76,115.43Z" fill="#d2696f" stroke="#d2696f" stroke-width="0.5"/><path d="M269.9,107.41 277.22,107.24 277.4,115.08 270.08,115.26Z" fill="#d16970" stroke="#d16970" stroke-width="0.5"/><path d="M277.22,107.24 284.54,107.06 284.72,114.91 277.4,115.08Z" fill="#d06871" stroke="#d06871" stroke-width="0.5"/><path d="M284.54,107.06 291.85,106.89 292.03,114.73 284.72,114.91Z" fill="#cd6773" stroke="#cd6773" stroke-width="0.5"/><path d="M291.85,106.89 299.17,106.71 299.35,114.56 292.03,114.73Z" fill="#ca6675" stroke="#ca6675" stroke-width="0.5"/><path d="M299.17,106.71 306.49,106.54 306.67,114.38 299.35,114.56Z" fill="#c2637a" stroke="#c2637a" stroke-width="0.5"/><path d="M306.49,106.54 313.81,106.36 313.98,114.21 306.67,114.38Z" fill="#c2637a" stroke="#c2637a" stroke-width="0.5"/><path d="M313.81,106.36 321.13,106.19 321.3,114.03 313.98,114.21Z" fill="#c0637b" stroke="#c0637b" stroke-width="0.5"/><path d="M321.13,106.19 328.45,106.01 328.62,113.86 321.3,114.03Z" fill="#c66578" stroke="#c66578" stroke-width="0.5"/><path d="M328.45,106.01 335.77,105.84 335.94,113.68 328.62,113.86Z" fill="#cb6774" stroke="#cb6774" stroke-width="0.5"/><path d="M335.77,105.84 343.09,105.66 343.25,113.51 335.94,113.68Z" fill="#d3696f" stroke="#d3696f" stroke-width="0.5"/><path d="M343.09,105.66 350.41,105.49 350.57,113.33 343.25,113.51Z" fill="#ca6675" stroke="#ca6675" stroke-width="0.5"/><path d="M350.41,105.49 357.73,105.31 357.89,113.16 350.57,113.33Z" fill="#c0627b" stroke="#c0627b" stroke-width="0.5"/><path d="M357.73,105.31 365.05,105.14 365.2,112.98 357.89,113.16Z" fill="#8e538c" stroke="#8e538c" stroke-width="0.5"/><path d="M365.05,105.14 372.37,104.96 372.52,112.81 365.2,112.98Z" fill="#744993" stroke="#744993" stroke-width="0.5"/><path d="M372.37,104.96 379.69,104.79 379.84,112.63 372.52,112.81Z" fill="#754992" stroke="#754992" stroke-width="0.5"/><path d="M379.69,104.79 387,104.61 387.16,112.46 379.84,112.63Z" fill="#8f538c" stroke="#8f538c" stroke-width="0.5"/><path d="M387,104.61 394.32,104.44 394.47,112.28 387.16,112.46Z" fill="#a55a87" stroke="#a55a87" stroke-width="0.5"/><path d="M394.32,104.44 401.64,104.26 401.79,112.11 394.47,112.28Z" fill="#8a528d" stroke="#8a528d" stroke-width="0.5"/><path d="M408.96,104.09 416.28,103.91 416.43,111.76 409.11,111.93Z" fill="#8f538c" stroke="#8f538c" stroke-width="0.5"/><path d="M189.59,117.18 196.91,117 197.11,124.85 189.8,125.02Z" fill="#b05d83" stroke="#b05d83" stroke-width="0.5"/><path d="M211.54,116.65 218.86,116.48 219.06,124.32 211.74,124.5Z" fill="#b35e81" stroke="#b35e81" stroke-width="0.5"/><path d="M218.86,116.48 226.18,116.3 226.38,124.15 219.06,124.32Z" fill="#b45f81" stroke="#b45f81" stroke-width="0.5"/><path d="M226.18,116.3 233.5,116.13 233.69,123.97 226.38,124.15Z" fill="#b55f81" stroke="#b55f81" stroke-width="0.5"/><path d="M233.5,116.13 240.81,115.95 241.01,123.8 233.69,123.97Z" fill="#b9607f" stroke="#b9607f" stroke-width="0.5"/><path d="M240.81,115.95 248.13,115.78 248.32,123.62 241.01,123.8Z" fill="#bf627c" stroke="#bf627c" stroke-width="0.5"/><path d="M248.13,115.78 255.45,115.6 255.64,123.45 248.32,123.62Z" fill="#c76576" stroke="#c76576" stroke-width="0.5"/><path d="M255.45,115.6 262.76,115.43 262.95,123.27 255.64,123.45Z" fill="#d06871" stroke="#d06871" stroke-width="0.5"/><path d="M262.76,115.43 270.08,115.26 270.27,123.1 262.95,123.27Z" fill="#d06871" stroke="#d06871" stroke-width="0.5"/><path d="M270.08,115.26 277.4,115.08 277.58,122.92 270.27,123.1Z" fill="#ce6872" stroke="#ce6872" stroke-width="0.5"/><path d="M277.4,115.08 284.72,114.91 284.9,122.75 277.58,122.92Z" fill="#cc6774" stroke="#cc6774" stroke-width="0.5"/><path d="M284.72,114.91 292.03,114.73 292.21,122.57 284.9,122.75Z" fill="#c86576" stroke="#c86576" stroke-width="0.5"/><path d="M292.03,114.73 299.35,114.56 299.53,122.4 292.21,122.57Z" fill="#c0637b" stroke="#c0637b" stroke-width="0.5"/><path d="M299.35,114.56 306.67,114.38 306.84,122.22 299.53,122.4Z" fill="#b76080" stroke="#b76080" stroke-width="0.5"/><path d="M306.67,114.38 313.98,114.21 314.16,122.05 306.84,122.22Z" fill="#b65f80" stroke="#b65f80" stroke-width="0.5"/><path d="M313.98,114.21 321.3,114.03 321.47,121.87 314.16,122.05Z" fill="#b35e81" stroke="#b35e81" stroke-width="0.5"/><path d="M321.3,114.03 328.62,113.86 328.79,121.7 321.47,121.87Z" fill="#b86080" stroke="#b86080" stroke-width="0.5"/><path d="M328.62,113.86 335.94,113.68 336.1,121.52 328.79,121.7Z" fill="#c36379" stroke="#c36379" stroke-width="0.5"/><path d="M335.94,113.68 343.25,113.51 343.42,121.35 336.1,121.52Z" fill="#d3696f" stroke="#d3696f" stroke-width="0.5"/><path d="M343.25,113.51 350.57,113.33 350.73,121.17 343.42,121.35Z" fill="#c76576" stroke="#c76576" stroke-width="0.5"/><path d="M350.57,113.33 357.89,113.16 358.05,121 350.73,121.17Z" fill="#b9607f" stroke="#b9607f" stroke-width="0.5"/><path d="M357.89,113.16 365.2,112.98 365.36,120.82 358.05,121Z" fill="#8b528d" stroke="#8b528d" stroke-width="0.5"/><path d="M365.2,112.98 372.52,112.81 372.68,120.65 365.36,120.82Z" fill="#5d3e9a" stroke="#5d3e9a" stroke-width="0.5"/><path d="M372.52,112.81 379.84,112.63 379.99,120.47 372.68,120.65Z" fill="#624099" stroke="#624099" stroke-width="0.5"/><path d="M379.84,112.63 387.16,112.46 387.31,120.3 379.99,120.47Z" fill="#7b4c90" stroke="#7b4c90" stroke-width="0.5"/><path d="M189.8,125.02 197.11,124.85 197.32,132.69 190.01,132.86Z" fill="#af5d83" stroke="#af5d83" stroke-width="0.5"/><path d="M204.43,124.67 211.74,124.5 211.95,132.34 204.63,132.51Z" fill="#b05d82" stroke="#b05d82" stroke-width="0.5"/><path d="M211.74,124.5 219.06,124.32 219.26,132.16 211.95,132.34Z" fill="#b15e82" stroke="#b15e82" stroke-width="0.5"/><path d="M219.06,124.32 226.38,124.15 226.57,131.99 219.26,132.16Z" fill="#b25e82" stroke="#b25e82" stroke-width="0.5"/><path d="M226.38,124.15 233.69,123.97 233.89,131.81 226.57,131.99Z" fill="#b35e81" stroke="#b35e81" stroke-width="0.5"/><path d="M233.69,123.97 241.01,123.8 241.2,131.64 233.89,131.81Z" fill="#b9607f" stroke="#b9607f" stroke-width="0.5"/><path d="M241.01,123.8 248.32,123.62 248.51,131.46 241.2,131.64Z" fill="#bf627c" stroke="#bf627c" stroke-width="0.5"/><path d="M248.32,123.62 255.64,123.45 255.82,131.29 248.51,131.46Z" fill="#c56478" stroke="#c56478" stroke-width="0.5"/><path d="M255.64,123.45 262.95,123.27 263.14,131.11 255.82,131.29Z" fill="#cd6773" stroke="#cd6773" stroke-width="0.5"/><path d="M262.95,123.27 270.27,123.1 270.45,130.94 263.14,131.11Z" fill="#c96675" stroke="#c96675" stroke-width="0.5"/><path d="M270.27,123.1 277.58,122.92 277.76,130.76 270.45,130.94Z" fill="#c76576" stroke="#c76576" stroke-width="0.5"/><path d="M277.58,122.92 284.9,122.75 285.08,130.59 277.76,130.76Z" fill="#c46479" stroke="#c46479" stroke-width="0.5"/><path d="M284.9,122.75 292.21,122.57 292.39,130.41 285.08,130.59Z" fill="#be627d" stroke="#be627d" stroke-width="0.5"/><path d="M292.21,122.57 299.53,122.4 299.7,130.24 292.39,130.41Z" fill="#b65f80" stroke="#b65f80" stroke-width="0.5"/><path d="M299.53,122.4 306.84,122.22 307.02,130.07 299.7,130.24Z" fill="#ae5d83" stroke="#ae5d83" stroke-width="0.5"/><path d="M306.84,122.22 314.16,122.05 314.33,129.89 307.02,130.07Z" fill="#ab5c84" stroke="#ab5c84" stroke-width="0.5"/><path d="M314.16,122.05 321.47,121.87 321.64,129.72 314.33,129.89Z" fill="#a85b85" stroke="#a85b85" stroke-width="0.5"/><path d="M321.47,121.87 328.79,121.7 328.96,129.54 321.64,129.72Z" fill="#b15e82" stroke="#b15e82" stroke-width="0.5"/><path d="M328.79,121.7 336.1,121.52 336.27,129.37 328.96,129.54Z" fill="#c0627b" stroke="#c0627b" stroke-width="0.5"/><path d="M336.1,121.52 343.42,121.35 343.58,129.19 336.27,129.37Z" fill="#cf6872" stroke="#cf6872" stroke-width="0.5"/><path d="M343.42,121.35 350.73,121.17 350.89,129.02 343.58,129.19Z" fill="#bb617e" stroke="#bb617e" stroke-width="0.5"/><path d="M350.73,121.17 358.05,121 358.21,128.84 350.89,129.02Z" fill="#ab5c84" stroke="#ab5c84" stroke-width="0.5"/><path d="M358.05,121 365.36,120.82 365.52,128.67 358.21,128.84Z" fill="#85508e" stroke="#85508e" stroke-width="0.5"/><path d="M365.36,120.82 372.68,120.65 372.83,128.49 365.52,128.67Z" fill="#684396" stroke="#684396" stroke-width="0.5"/><path d="M372.68,120.65 379.99,120.47 380.15,128.32 372.83,128.49Z" fill="#7e4d8f" stroke="#7e4d8f" stroke-width="0.5"/><path d="M409.25,119.77 416.57,119.6 416.71,127.44 409.4,127.62Z" fill="#c2637a" stroke="#c2637a" stroke-width="0.5"/><path d="M197.32,132.69 204.63,132.51 204.84,140.35 197.52,140.53Z" fill="#aa5b85" stroke="#aa5b85" stroke-width="0.5"/><path d="M204.63,132.51 211.95,132.34 212.15,140.18 204.84,140.35Z" fill="#a95b85" stroke="#a95b85" stroke-width="0.5"/><path d="M211.95,132.34 219.26,132.16 219.46,140 212.15,140.18Z" fill="#ac5c84" stroke="#ac5c84" stroke-width="0.5"/><path d="M219.26,132.16 226.57,131.99 226.77,139.83 219.46,140Z" fill="#b05d83" stroke="#b05d83" stroke-width="0.5"/><path d="M226.57,131.99 233.89,131.81 234.08,139.66 226.77,139.83Z" fill="#b15e82" stroke="#b15e82" stroke-width="0.5"/><path d="M233.89,131.81 241.2,131.64 241.39,139.48 234.08,139.66Z" fill="#b76080" stroke="#b76080" stroke-width="0.5"/><path d="M241.2,131.64 248.51,131.46 248.7,139.31 241.39,139.48Z" fill="#be627d" stroke="#be627d" stroke-width="0.5"/><path d="M248.51,131.46 255.82,131.29 256.01,139.13 248.7,139.31Z" fill="#c36479" stroke="#c36479" stroke-width="0.5"/><path d="M255.82,131.29 263.14,131.11 263.32,138.96 256.01,139.13Z" fill="#c96675" stroke="#c96675" stroke-width="0.5"/><path d="M263.14,131.11 270.45,130.94 270.64,138.78 263.32,138.96Z" fill="#c56478" stroke="#c56478" stroke-width="0.5"/><path d="M270.45,130.94 277.76,130.76 277.95,138.61 270.64,138.78Z" fill="#c0627c" stroke="#c0627c" stroke-width="0.5"/><path d="M277.76,130.76 285.08,130.59 285.26,138.43 277.95,138.61Z" fill="#b9607f" stroke="#b9607f" stroke-width="0.5"/><path d="M285.08,130.59 292.39,130.41 292.57,138.26 285.26,138.43Z" fill="#b35e81" stroke="#b35e81" stroke-width="0.5"/><path d="M292.39,130.41 299.7,130.24 299.88,138.08 292.57,138.26Z" fill="#ac5c84" stroke="#ac5c84" stroke-width="0.5"/><path d="M299.7,130.24 307.02,130.07 307.19,137.91 299.88,138.08Z" fill="#ab5c85" stroke="#ab5c85" stroke-width="0.5"/><path d="M307.02,130.07 314.33,129.89 314.5,137.73 307.19,137.91Z" fill="#a95b85" stroke="#a95b85" stroke-width="0.5"/><path d="M314.33,129.89 321.64,129.72 321.81,137.56 314.5,137.73Z" fill="#a95b85" stroke="#a95b85" stroke-width="0.5"/><path d="M321.64,129.72 328.96,129.54 329.12,137.38 321.81,137.56Z" fill="#b75f80" stroke="#b75f80" stroke-width="0.5"/><path d="M328.96,129.54 336.27,129.37 336.43,137.21 329.12,137.38Z" fill="#c46479" stroke="#c46479" stroke-width="0.5"/><path d="M336.27,129.37 343.58,129.19 343.75,137.03 336.43,137.21Z" fill="#cd6773" stroke="#cd6773" stroke-width="0.5"/><path d="M343.58,129.19 350.89,129.02 351.06,136.86 343.75,137.03Z" fill="#bb617e" stroke="#bb617e" stroke-width="0.5"/><path d="M350.89,129.02 358.21,128.84 358.37,136.68 351.06,136.86Z" fill="#a55a87" stroke="#a55a87" stroke-width="0.5"/><path d="M358.21,128.84 365.52,128.67 365.68,136.51 358.37,136.68Z" fill="#85508e" stroke="#85508e" stroke-width="0.5"/><path d="M365.52,128.67 372.83,128.49 372.99,136.33 365.68,136.51Z" fill="#804e8f" stroke="#804e8f" stroke-width="0.5"/><path d="M409.4,127.62 416.71,127.44 416.86,135.29 409.54,135.46Z" fill="#da6c6a" stroke="#da6c6a" stroke-width="0.5"/><path d="M212.15,140.18 219.46,140 219.66,147.85 212.35,148.02Z" fill="#af5d83" stroke="#af5d83" stroke-width="0.5"/><path d="M219.46,140 226.77,139.83 226.97,147.67 219.66,147.85Z" fill="#b25e82" stroke="#b25e82" stroke-width="0.5"/><path d="M226.77,139.83 234.08,139.66 234.27,147.5 226.97,147.67Z" fill="#b45e81" stroke="#b45e81" stroke-width="0.5"/><path d="M234.08,139.66 241.39,139.48 241.58,147.32 234.27,147.5Z" fill="#b86080" stroke="#b86080" stroke-width="0.5"/><path d="M241.39,139.48 248.7,139.31 248.89,147.15 241.58,147.32Z" fill="#be627d" stroke="#be627d" stroke-width="0.5"/><path d="M248.7,139.31 256.01,139.13 256.2,146.97 248.89,147.15Z" fill="#c0627c" stroke="#c0627c" stroke-width="0.5"/><path d="M256.01,139.13 263.32,138.96 263.51,146.8 256.2,146.97Z" fill="#c2637a" stroke="#c2637a" stroke-width="0.5"/><path d="M263.32,138.96 270.64,138.78 270.82,146.62 263.51,146.8Z" fill="#c0627b" stroke="#c0627b" stroke-width="0.5"/><path d="M270.64,138.78 277.95,138.61 278.13,146.45 270.82,146.62Z" fill="#bb617e" stroke="#bb617e" stroke-width="0.5"/><path d="M285.26,138.43 292.57,138.26 292.75,146.1 285.44,146.27Z" fill="#ad5c84" stroke="#ad5c84" stroke-width="0.5"/><path d="M292.57,138.26 299.88,138.08 300.06,145.92 292.75,146.1Z" fill="#aa5b85" stroke="#aa5b85" stroke-width="0.5"/><path d="M299.88,138.08 307.19,137.91 307.36,145.75 300.06,145.92Z" fill="#a85b85" stroke="#a85b85" stroke-width="0.5"/><path d="M307.19,137.91 314.5,137.73 314.67,145.58 307.36,145.75Z" fill="#a95b85" stroke="#a95b85" stroke-width="0.5"/><path d="M314.5,137.73 321.81,137.56 321.98,145.4 314.67,145.58Z" fill="#ab5c84" stroke="#ab5c84" stroke-width="0.5"/><path d="M321.81,137.56 329.12,137.38 329.29,145.23 321.98,145.4Z" fill="#b86080" stroke="#b86080" stroke-width="0.5"/><path d="M329.12,137.38 336.43,137.21 336.6,145.05 329.29,145.23Z" fill="#ca6675" stroke="#ca6675" stroke-width="0.5"/><path d="M336.43,137.21 343.75,137.03 343.91,144.88 336.6,145.05Z" fill="#d06871" stroke="#d06871" stroke-width="0.5"/><path d="M343.75,137.03 351.06,136.86 351.22,144.7 343.91,144.88Z" fill="#c86576" stroke="#c86576" stroke-width="0.5"/><path d="M351.06,136.86 358.37,136.68 358.53,144.53 351.22,144.7Z" fill="#b55f81" stroke="#b55f81" stroke-width="0.5"/><path d="M358.37,136.68 365.68,136.51 365.84,144.35 358.53,144.53Z" fill="#98568a" stroke="#98568a" stroke-width="0.5"/><path d="M409.54,135.46 416.86,135.29 417,143.13 409.69,143.3Z" fill="#e27362" stroke="#e27362" stroke-width="0.5"/><path d="M212.35,148.02 219.66,147.85 219.86,155.69 212.55,155.86Z" fill="#b05d82" stroke="#b05d82" stroke-width="0.5"/><path d="M219.66,147.85 226.97,147.67 227.16,155.51 219.86,155.69Z" fill="#b55f81" stroke="#b55f81" stroke-width="0.5"/><path d="M226.97,147.67 234.27,147.5 234.47,155.34 227.16,155.51Z" fill="#b9607f" stroke="#b9607f" stroke-width="0.5"/><path d="M234.27,147.5 241.58,147.32 241.78,155.16 234.47,155.34Z" fill="#bc617e" stroke="#bc617e" stroke-width="0.5"/><path d="M241.58,147.32 248.89,147.15 249.08,154.99 241.78,155.16Z" fill="#be627d" stroke="#be627d" stroke-width="0.5"/><path d="M248.89,147.15 256.2,146.97 256.39,154.81 249.08,154.99Z" fill="#ba607f" stroke="#ba607f" stroke-width="0.5"/><path d="M256.2,146.97 263.51,146.8 263.7,154.64 256.39,154.81Z" fill="#b9607f" stroke="#b9607f" stroke-width="0.5"/><path d="M263.51,146.8 270.82,146.62 271,154.47 263.7,154.64Z" fill="#b9607f" stroke="#b9607f" stroke-width="0.5"/><path d="M270.82,146.62 278.13,146.45 278.31,154.29 271,154.47Z" fill="#b75f80" stroke="#b75f80" stroke-width="0.5"/><path d="M285.44,146.27 292.75,146.1 292.93,153.94 285.62,154.12Z" fill="#b15d82" stroke="#b15d82" stroke-width="0.5"/><path d="M292.75,146.1 300.06,145.92 300.23,153.77 292.93,153.94Z" fill="#ad5c84" stroke="#ad5c84" stroke-width="0.5"/><path d="M300.06,145.92 307.36,145.75 307.54,153.59 300.23,153.77Z" fill="#a85b85" stroke="#a85b85" stroke-width="0.5"/><path d="M307.36,145.75 314.67,145.58 314.85,153.42 307.54,153.59Z" fill="#ac5c84" stroke="#ac5c84" stroke-width="0.5"/><path d="M314.67,145.58 321.98,145.4 322.15,153.24 314.85,153.42Z" fill="#b25e82" stroke="#b25e82" stroke-width="0.5"/><path d="M321.98,145.4 329.29,145.23 329.46,153.07 322.15,153.24Z" fill="#ba607f" stroke="#ba607f" stroke-width="0.5"/><path d="M329.29,145.23 336.6,145.05 336.77,152.89 329.46,153.07Z" fill="#c1637b" stroke="#c1637b" stroke-width="0.5"/><path d="M336.6,145.05 343.91,144.88 344.07,152.72 336.77,152.89Z" fill="#b65f80" stroke="#b65f80" stroke-width="0.5"/><path d="M343.91,144.88 351.22,144.7 351.38,152.54 344.07,152.72Z" fill="#9b578a" stroke="#9b578a" stroke-width="0.5"/><path d="M351.22,144.7 358.53,144.53 358.69,152.37 351.38,152.54Z" fill="#834f8e" stroke="#834f8e" stroke-width="0.5"/><path d="M358.53,144.53 365.84,144.35 365.99,152.19 358.69,152.37Z" fill="#814f8f" stroke="#814f8f" stroke-width="0.5"/><path d="M402.38,143.48 409.69,143.3 409.84,151.15 402.53,151.32Z" fill="#ee7f55" stroke="#ee7f55" stroke-width="0.5"/><path d="M409.69,143.3 417,143.13 417.14,150.97 409.84,151.15Z" fill="#ee7f55" stroke="#ee7f55" stroke-width="0.5"/><path d="M197.94,156.21 205.24,156.04 205.45,163.88 198.14,164.05Z" fill="#ab5c85" stroke="#ab5c85" stroke-width="0.5"/><path d="M205.24,156.04 212.55,155.86 212.75,163.7 205.45,163.88Z" fill="#ae5d83" stroke="#ae5d83" stroke-width="0.5"/><path d="M212.55,155.86 219.86,155.69 220.06,163.53 212.75,163.7Z" fill="#b15e82" stroke="#b15e82" stroke-width="0.5"/><path d="M219.86,155.69 227.16,155.51 227.36,163.36 220.06,163.53Z" fill="#b35e81" stroke="#b35e81" stroke-width="0.5"/><path d="M227.16,155.51 234.47,155.34 234.66,163.18 227.36,163.36Z" fill="#b55f81" stroke="#b55f81" stroke-width="0.5"/><path d="M234.47,155.34 241.78,155.16 241.97,163.01 234.66,163.18Z" fill="#b8607f" stroke="#b8607f" stroke-width="0.5"/><path d="M241.78,155.16 249.08,154.99 249.27,162.83 241.97,163.01Z" fill="#b8607f" stroke="#b8607f" stroke-width="0.5"/><path d="M249.08,154.99 256.39,154.81 256.58,162.66 249.27,162.83Z" fill="#b55f81" stroke="#b55f81" stroke-width="0.5"/><path d="M256.39,154.81 263.7,154.64 263.88,162.48 256.58,162.66Z" fill="#b55f81" stroke="#b55f81" stroke-width="0.5"/><path d="M263.7,154.64 271,154.47 271.19,162.31 263.88,162.48Z" fill="#b55f80" stroke="#b55f80" stroke-width="0.5"/><path d="M271,154.47 278.31,154.29 278.49,162.13 271.19,162.31Z" fill="#b45f81" stroke="#b45f81" stroke-width="0.5"/><path d="M285.62,154.12 292.93,153.94 293.1,161.78 285.8,161.96Z" fill="#b05d82" stroke="#b05d82" stroke-width="0.5"/><path d="M292.93,153.94 300.23,153.77 300.41,161.61 293.1,161.78Z" fill="#ae5d83" stroke="#ae5d83" stroke-width="0.5"/><path d="M300.23,153.77 307.54,153.59 307.71,161.43 300.41,161.61Z" fill="#ac5c84" stroke="#ac5c84" stroke-width="0.5"/><path d="M307.54,153.59 314.85,153.42 315.02,161.26 307.71,161.43Z" fill="#b25e82" stroke="#b25e82" stroke-width="0.5"/><path d="M314.85,153.42 322.15,153.24 322.32,161.09 315.02,161.26Z" fill="#b35e81" stroke="#b35e81" stroke-width="0.5"/><path d="M322.15,153.24 329.46,153.07 329.63,160.91 322.32,161.09Z" fill="#a95b85" stroke="#a95b85" stroke-width="0.5"/><path d="M329.46,153.07 336.77,152.89 336.93,160.74 329.63,160.91Z" fill="#a75a86" stroke="#a75a86" stroke-width="0.5"/><path d="M336.77,152.89 344.07,152.72 344.24,160.56 336.93,160.74Z" fill="#92548b" stroke="#92548b" stroke-width="0.5"/><path d="M344.07,152.72 351.38,152.54 351.54,160.39 344.24,160.56Z" fill="#744993" stroke="#744993" stroke-width="0.5"/><path d="M351.38,152.54 358.69,152.37 358.85,160.21 351.54,160.39Z" fill="#634198" stroke="#634198" stroke-width="0.5"/><path d="M402.53,151.32 409.84,151.15 409.98,158.99 402.68,159.16Z" fill="#ee7f55" stroke="#ee7f55" stroke-width="0.5"/><path d="M409.84,151.15 417.14,150.97 417.29,158.82 409.98,158.99Z" fill="#ee7f55" stroke="#ee7f55" stroke-width="0.5"/><path d="M190.84,164.23 198.14,164.05 198.35,171.9 191.04,172.07Z" fill="#a65a86" stroke="#a65a86" stroke-width="0.5"/><path d="M205.45,163.88 212.75,163.7 212.95,171.55 205.65,171.72Z" fill="#aa5b85" stroke="#aa5b85" stroke-width="0.5"/><path d="M212.75,163.7 220.06,163.53 220.25,171.37 212.95,171.55Z" fill="#ac5c84" stroke="#ac5c84" stroke-width="0.5"/><path d="M220.06,163.53 227.36,163.36 227.56,171.2 220.25,171.37Z" fill="#af5d83" stroke="#af5d83" stroke-width="0.5"/><path d="M227.36,163.36 234.66,163.18 234.86,171.02 227.56,171.2Z" fill="#b25e82" stroke="#b25e82" stroke-width="0.5"/><path d="M234.66,163.18 241.97,163.01 242.16,170.85 234.86,171.02Z" fill="#b35e82" stroke="#b35e82" stroke-width="0.5"/><path d="M241.97,163.01 249.27,162.83 249.47,170.67 242.16,170.85Z" fill="#b25e82" stroke="#b25e82" stroke-width="0.5"/><path d="M249.27,162.83 256.58,162.66 256.77,170.5 249.47,170.67Z" fill="#b25e82" stroke="#b25e82" stroke-width="0.5"/><path d="M271.19,162.31 278.49,162.13 278.68,169.98 271.37,170.15Z" fill="#b25e82" stroke="#b25e82" stroke-width="0.5"/><path d="M278.49,162.13 285.8,161.96 285.98,169.8 278.68,169.98Z" fill="#b05d82" stroke="#b05d82" stroke-width="0.5"/><path d="M285.8,161.96 293.1,161.78 293.28,169.63 285.98,169.8Z" fill="#b05d82" stroke="#b05d82" stroke-width="0.5"/><path d="M293.1,161.78 300.41,161.61 300.58,169.45 293.28,169.63Z" fill="#ae5d83" stroke="#ae5d83" stroke-width="0.5"/><path d="M300.41,161.61 307.71,161.43 307.89,169.28 300.58,169.45Z" fill="#ab5c84" stroke="#ab5c84" stroke-width="0.5"/><path d="M307.71,161.43 315.02,161.26 315.19,169.1 307.89,169.28Z" fill="#a85b86" stroke="#a85b86" stroke-width="0.5"/><path d="M315.02,161.26 322.32,161.09 322.49,168.93 315.19,169.1Z" fill="#a55a87" stroke="#a55a87" stroke-width="0.5"/><path d="M322.32,161.09 329.63,160.91 329.8,168.75 322.49,168.93Z" fill="#98568a" stroke="#98568a" stroke-width="0.5"/><path d="M329.63,160.91 336.93,160.74 337.1,168.58 329.8,168.75Z" fill="#824f8e" stroke="#824f8e" stroke-width="0.5"/><path d="M336.93,160.74 344.24,160.56 344.4,168.4 337.1,168.58Z" fill="#6c4595" stroke="#6c4595" stroke-width="0.5"/><path d="M344.24,160.56 351.54,160.39 351.7,168.23 344.4,168.4Z" fill="#5c3d9b" stroke="#5c3d9b" stroke-width="0.5"/><path d="M351.54,160.39 358.85,160.21 359.01,168.06 351.7,168.23Z" fill="#614099" stroke="#614099" stroke-width="0.5"/><path d="M402.68,159.16 409.98,158.99 410.13,166.83 402.82,167.01Z" fill="#ee7f55" stroke="#ee7f55" stroke-width="0.5"/><path d="M409.98,158.99 417.29,158.82 417.43,166.66 410.13,166.83Z" fill="#ee7f55" stroke="#ee7f55" stroke-width="0.5"/><path d="M191.04,172.07 198.35,171.9 198.55,179.74 191.25,179.91Z" fill="#a45987" stroke="#a45987" stroke-width="0.5"/><path d="M205.65,171.72 212.95,171.55 213.15,179.39 205.85,179.56Z" fill="#a55a87" stroke="#a55a87" stroke-width="0.5"/><path d="M220.25,171.37 227.56,171.2 227.75,179.04 220.45,179.21Z" fill="#ab5c85" stroke="#ab5c85" stroke-width="0.5"/><path d="M227.56,171.2 234.86,171.02 235.05,178.86 227.75,179.04Z" fill="#ad5c84" stroke="#ad5c84" stroke-width="0.5"/><path d="M234.86,171.02 242.16,170.85 242.36,178.69 235.05,178.86Z" fill="#ae5d83" stroke="#ae5d83" stroke-width="0.5"/><path d="M242.16,170.85 249.47,170.67 249.66,178.52 242.36,178.69Z" fill="#ab5c84" stroke="#ab5c84" stroke-width="0.5"/><path d="M249.47,170.67 256.77,170.5 256.96,178.34 249.66,178.52Z" fill="#a95b85" stroke="#a95b85" stroke-width="0.5"/><path d="M271.37,170.15 278.68,169.98 278.86,177.82 271.56,177.99Z" fill="#ad5c84" stroke="#ad5c84" stroke-width="0.5"/><path d="M278.68,169.98 285.98,169.8 286.16,177.64 278.86,177.82Z" fill="#ad5c84" stroke="#ad5c84" stroke-width="0.5"/><path d="M285.98,169.8 293.28,169.63 293.46,177.47 286.16,177.64Z" fill="#af5d83" stroke="#af5d83" stroke-width="0.5"/><path d="M293.28,169.63 300.58,169.45 300.76,177.29 293.46,177.47Z" fill="#af5d83" stroke="#af5d83" stroke-width="0.5"/><path d="M300.58,169.45 307.89,169.28 308.06,177.12 300.76,177.29Z" fill="#ac5c84" stroke="#ac5c84" stroke-width="0.5"/><path d="M307.89,169.28 315.19,169.1 315.36,176.94 308.06,177.12Z" fill="#a75a86" stroke="#a75a86" stroke-width="0.5"/><path d="M315.19,169.1 322.49,168.93 322.66,176.77 315.36,176.94Z" fill="#a15988" stroke="#a15988" stroke-width="0.5"/><path d="M322.49,168.93 329.8,168.75 329.96,176.6 322.66,176.77Z" fill="#93548b" stroke="#93548b" stroke-width="0.5"/><path d="M329.8,168.75 337.1,168.58 337.27,176.42 329.96,176.6Z" fill="#7c4d90" stroke="#7c4d90" stroke-width="0.5"/><path d="M337.1,168.58 344.4,168.4 344.57,176.25 337.27,176.42Z" fill="#614099" stroke="#614099" stroke-width="0.5"/><path d="M344.4,168.4 351.7,168.23 351.87,176.07 344.57,176.25Z" fill="#573b9c" stroke="#573b9c" stroke-width="0.5"/><path d="M351.7,168.23 359.01,168.06 359.17,175.9 351.87,176.07Z" fill="#593c9b" stroke="#593c9b" stroke-width="0.5"/><path d="M402.82,167.01 410.13,166.83 410.27,174.68 402.97,174.85Z" fill="#ee7f55" stroke="#ee7f55" stroke-width="0.5"/><path d="M410.13,166.83 417.43,166.66 417.57,174.5 410.27,174.68Z" fill="#ee7f55" stroke="#ee7f55" stroke-width="0.5"/><path d="M205.85,179.56 213.15,179.39 213.35,187.23 206.05,187.4Z" fill="#a05889" stroke="#a05889" stroke-width="0.5"/><path d="M227.75,179.04 235.05,178.86 235.25,186.71 227.95,186.88Z" fill="#a85b86" stroke="#a85b86" stroke-width="0.5"/><path d="M235.05,178.86 242.36,178.69 242.55,186.53 235.25,186.71Z" fill="#a85b86" stroke="#a85b86" stroke-width="0.5"/><path d="M242.36,178.69 249.66,178.52 249.85,186.36 242.55,186.53Z" fill="#a35987" stroke="#a35987" stroke-width="0.5"/><path d="M249.66,178.52 256.96,178.34 257.15,186.18 249.85,186.36Z" fill="#9f5889" stroke="#9f5889" stroke-width="0.5"/><path d="M256.96,178.34 264.26,178.17 264.44,186.01 257.15,186.18Z" fill="#9e5889" stroke="#9e5889" stroke-width="0.5"/><path d="M264.26,178.17 271.56,177.99 271.74,185.83 264.44,186.01Z" fill="#a25988" stroke="#a25988" stroke-width="0.5"/><path d="M271.56,177.99 278.86,177.82 279.04,185.66 271.74,185.83Z" fill="#a65a86" stroke="#a65a86" stroke-width="0.5"/><path d="M278.86,177.82 286.16,177.64 286.34,185.48 279.04,185.66Z" fill="#a95b85" stroke="#a95b85" stroke-width="0.5"/><path d="M286.16,177.64 293.46,177.47 293.64,185.31 286.34,185.48Z" fill="#ab5c85" stroke="#ab5c85" stroke-width="0.5"/><path d="M293.46,177.47 300.76,177.29 300.94,185.14 293.64,185.31Z" fill="#ad5c84" stroke="#ad5c84" stroke-width="0.5"/><path d="M300.76,177.29 308.06,177.12 308.24,184.96 300.94,185.14Z" fill="#ad5c84" stroke="#ad5c84" stroke-width="0.5"/><path d="M308.06,177.12 315.36,176.94 315.54,184.79 308.24,184.96Z" fill="#a85b86" stroke="#a85b86" stroke-width="0.5"/><path d="M315.36,176.94 322.66,176.77 322.83,184.61 315.54,184.79Z" fill="#a15988" stroke="#a15988" stroke-width="0.5"/><path d="M322.66,176.77 329.96,176.6 330.13,184.44 322.83,184.61Z" fill="#8f538c" stroke="#8f538c" stroke-width="0.5"/><path d="M329.96,176.6 337.27,176.42 337.43,184.26 330.13,184.44Z" fill="#714793" stroke="#714793" stroke-width="0.5"/><path d="M337.27,176.42 344.57,176.25 344.73,184.09 337.43,184.26Z" fill="#573b9c" stroke="#573b9c" stroke-width="0.5"/><path d="M344.57,176.25 351.87,176.07 352.03,183.91 344.73,184.09Z" fill="#4f3a9c" stroke="#4f3a9c" stroke-width="0.5"/><path d="M395.67,175.03 402.97,174.85 403.12,182.69 395.82,182.87Z" fill="#ee7f55" stroke="#ee7f55" stroke-width="0.5"/><path d="M402.97,174.85 410.27,174.68 410.42,182.52 403.12,182.69Z" fill="#ee7f55" stroke="#ee7f55" stroke-width="0.5"/><path d="M410.27,174.68 417.57,174.5 417.72,182.34 410.42,182.52Z" fill="#ee7f55" stroke="#ee7f55" stroke-width="0.5"/><path d="M206.05,187.4 213.35,187.23 213.55,195.07 206.26,195.25Z" fill="#9f5889" stroke="#9f5889" stroke-width="0.5"/><path d="M220.65,187.05 227.95,186.88 228.15,194.72 220.85,194.9Z" fill="#a15988" stroke="#a15988" stroke-width="0.5"/><path d="M227.95,186.88 235.25,186.71 235.44,194.55 228.15,194.72Z" fill="#a35987" stroke="#a35987" stroke-width="0.5"/><path d="M235.25,186.71 242.55,186.53 242.74,194.37 235.44,194.55Z" fill="#a35988" stroke="#a35988" stroke-width="0.5"/><path d="M242.55,186.53 249.85,186.36 250.04,194.2 242.74,194.37Z" fill="#9e5889" stroke="#9e5889" stroke-width="0.5"/><path d="M249.85,186.36 257.15,186.18 257.33,194.02 250.04,194.2Z" fill="#99568a" stroke="#99568a" stroke-width="0.5"/><path d="M257.15,186.18 264.44,186.01 264.63,193.85 257.33,194.02Z" fill="#97558b" stroke="#97558b" stroke-width="0.5"/><path d="M264.44,186.01 271.74,185.83 271.93,193.68 264.63,193.85Z" fill="#99568a" stroke="#99568a" stroke-width="0.5"/><path d="M271.74,185.83 279.04,185.66 279.22,193.5 271.93,193.68Z" fill="#9d5789" stroke="#9d5789" stroke-width="0.5"/><path d="M279.04,185.66 286.34,185.48 286.52,193.33 279.22,193.5Z" fill="#a25988" stroke="#a25988" stroke-width="0.5"/><path d="M286.34,185.48 293.64,185.31 293.82,193.15 286.52,193.33Z" fill="#a65a86" stroke="#a65a86" stroke-width="0.5"/><path d="M293.64,185.31 300.94,185.14 301.11,192.98 293.82,193.15Z" fill="#aa5b85" stroke="#aa5b85" stroke-width="0.5"/><path d="M300.94,185.14 308.24,184.96 308.41,192.8 301.11,192.98Z" fill="#ac5c84" stroke="#ac5c84" stroke-width="0.5"/><path d="M308.24,184.96 315.54,184.79 315.71,192.63 308.41,192.8Z" fill="#aa5b85" stroke="#aa5b85" stroke-width="0.5"/><path d="M315.54,184.79 322.83,184.61 323,192.46 315.71,192.63Z" fill="#a25988" stroke="#a25988" stroke-width="0.5"/><path d="M322.83,184.61 330.13,184.44 330.3,192.28 323,192.46Z" fill="#8a518d" stroke="#8a518d" stroke-width="0.5"/><path d="M330.13,184.44 337.43,184.26 337.6,192.11 330.3,192.28Z" fill="#664297" stroke="#664297" stroke-width="0.5"/><path d="M337.43,184.26 344.73,184.09 344.89,191.93 337.6,192.11Z" fill="#4e3a9c" stroke="#4e3a9c" stroke-width="0.5"/><path d="M344.73,184.09 352.03,183.91 352.19,191.76 344.89,191.93Z" fill="#4f3a9c" stroke="#4f3a9c" stroke-width="0.5"/><path d="M395.82,182.87 403.12,182.69 403.27,190.54 395.97,190.71Z" fill="#ee7f55" stroke="#ee7f55" stroke-width="0.5"/><path d="M403.12,182.69 410.42,182.52 410.56,190.36 403.27,190.54Z" fill="#ee7f55" stroke="#ee7f55" stroke-width="0.5"/><path d="M410.42,182.52 417.72,182.34 417.86,190.19 410.56,190.36Z" fill="#ee7f55" stroke="#ee7f55" stroke-width="0.5"/><path d="M206.26,195.25 213.55,195.07 213.76,202.91 206.46,203.09Z" fill="#9e5889" stroke="#9e5889" stroke-width="0.5"/><path d="M213.55,195.07 220.85,194.9 221.05,202.74 213.76,202.91Z" fill="#9d5789" stroke="#9d5789" stroke-width="0.5"/><path d="M220.85,194.9 228.15,194.72 228.34,202.56 221.05,202.74Z" fill="#9c5789" stroke="#9c5789" stroke-width="0.5"/><path d="M228.15,194.72 235.44,194.55 235.64,202.39 228.34,202.56Z" fill="#9e5889" stroke="#9e5889" stroke-width="0.5"/><path d="M235.44,194.55 242.74,194.37 242.93,202.22 235.64,202.39Z" fill="#9f5889" stroke="#9f5889" stroke-width="0.5"/><path d="M242.74,194.37 250.04,194.2 250.23,202.04 242.93,202.22Z" fill="#95558b" stroke="#95558b" stroke-width="0.5"/><path d="M250.04,194.2 257.33,194.02 257.52,201.87 250.23,202.04Z" fill="#8b528d" stroke="#8b528d" stroke-width="0.5"/><path d="M257.33,194.02 264.63,193.85 264.82,201.69 257.52,201.87Z" fill="#85508e" stroke="#85508e" stroke-width="0.5"/><path d="M264.63,193.85 271.93,193.68 272.11,201.52 264.82,201.69Z" fill="#89518d" stroke="#89518d" stroke-width="0.5"/><path d="M271.93,193.68 279.22,193.5 279.41,201.34 272.11,201.52Z" fill="#91548c" stroke="#91548c" stroke-width="0.5"/><path d="M279.22,193.5 286.52,193.33 286.7,201.17 279.41,201.34Z" fill="#99568a" stroke="#99568a" stroke-width="0.5"/><path d="M286.52,193.33 293.82,193.15 294,200.99 286.7,201.17Z" fill="#9e5889" stroke="#9e5889" stroke-width="0.5"/><path d="M293.82,193.15 301.11,192.98 301.29,200.82 294,200.99Z" fill="#a45a87" stroke="#a45a87" stroke-width="0.5"/><path d="M301.11,192.98 308.41,192.8 308.59,200.65 301.29,200.82Z" fill="#a95b85" stroke="#a95b85" stroke-width="0.5"/><path d="M308.41,192.8 315.71,192.63 315.88,200.47 308.59,200.65Z" fill="#ac5c84" stroke="#ac5c84" stroke-width="0.5"/><path d="M315.71,192.63 323,192.46 323.17,200.3 315.88,200.47Z" fill="#a05888" stroke="#a05888" stroke-width="0.5"/><path d="M323,192.46 330.3,192.28 330.47,200.12 323.17,200.3Z" fill="#834f8e" stroke="#834f8e" stroke-width="0.5"/><path d="M330.3,192.28 337.6,192.11 337.76,199.95 330.47,200.12Z" fill="#5e3e9a" stroke="#5e3e9a" stroke-width="0.5"/><path d="M337.6,192.11 344.89,191.93 345.06,199.77 337.76,199.95Z" fill="#47399b" stroke="#47399b" stroke-width="0.5"/><path d="M403.27,190.54 410.56,190.36 410.71,198.21 403.41,198.38Z" fill="#ef8054" stroke="#ef8054" stroke-width="0.5"/><path d="M410.56,190.36 417.86,190.19 418,198.03 410.71,198.21Z" fill="#ef8054" stroke="#ef8054" stroke-width="0.5"/><path d="M221.05,202.74 228.34,202.56 228.54,210.41 221.25,210.58Z" fill="#99568a" stroke="#99568a" stroke-width="0.5"/><path d="M228.34,202.56 235.64,202.39 235.83,210.23 228.54,210.41Z" fill="#97558b" stroke="#97558b" stroke-width="0.5"/><path d="M235.64,202.39 242.93,202.22 243.13,210.06 235.83,210.23Z" fill="#97568a" stroke="#97568a" stroke-width="0.5"/><path d="M242.93,202.22 250.23,202.04 250.42,209.88 243.13,210.06Z" fill="#8f538c" stroke="#8f538c" stroke-width="0.5"/><path d="M250.23,202.04 257.52,201.87 257.71,209.71 250.42,209.88Z" fill="#764a92" stroke="#764a92" stroke-width="0.5"/><path d="M257.52,201.87 264.82,201.69 265,209.53 257.71,209.71Z" fill="#714794" stroke="#714794" stroke-width="0.5"/><path d="M264.82,201.69 272.11,201.52 272.3,209.36 265,209.53Z" fill="#764a92" stroke="#764a92" stroke-width="0.5"/><path d="M272.11,201.52 279.41,201.34 279.59,209.19 272.3,209.36Z" fill="#85508e" stroke="#85508e" stroke-width="0.5"/><path d="M279.41,201.34 286.7,201.17 286.88,209.01 279.59,209.19Z" fill="#89518d" stroke="#89518d" stroke-width="0.5"/><path d="M286.7,201.17 294,200.99 294.17,208.84 286.88,209.01Z" fill="#8e538c" stroke="#8e538c" stroke-width="0.5"/><path d="M294,200.99 301.29,200.82 301.47,208.66 294.17,208.84Z" fill="#9b578a" stroke="#9b578a" stroke-width="0.5"/><path d="M301.29,200.82 308.59,200.65 308.76,208.49 301.47,208.66Z" fill="#a45987" stroke="#a45987" stroke-width="0.5"/><path d="M308.59,200.65 315.88,200.47 316.05,208.31 308.76,208.49Z" fill="#a95b85" stroke="#a95b85" stroke-width="0.5"/><path d="M315.88,200.47 323.17,200.3 323.34,208.14 316.05,208.31Z" fill="#9c5789" stroke="#9c5789" stroke-width="0.5"/><path d="M323.17,200.3 330.47,200.12 330.64,207.97 323.34,208.14Z" fill="#814f8f" stroke="#814f8f" stroke-width="0.5"/><path d="M330.47,200.12 337.76,199.95 337.93,207.79 330.64,207.97Z" fill="#5a3d9b" stroke="#5a3d9b" stroke-width="0.5"/><path d="M337.76,199.95 345.06,199.77 345.22,207.62 337.93,207.79Z" fill="#4d3a9b" stroke="#4d3a9b" stroke-width="0.5"/><path d="M403.41,198.38 410.71,198.21 410.85,206.05 403.56,206.22Z" fill="#ef8054" stroke="#ef8054" stroke-width="0.5"/><path d="M410.71,198.21 418,198.03 418.15,205.87 410.85,206.05Z" fill="#ef8054" stroke="#ef8054" stroke-width="0.5"/><path d="M141.03,212.5 148.32,212.32 148.54,220.16 141.25,220.34Z" fill="#92548b" stroke="#92548b" stroke-width="0.5"/><path d="M228.54,210.41 235.83,210.23 236.03,218.07 228.74,218.25Z" fill="#94558b" stroke="#94558b" stroke-width="0.5"/><path d="M235.83,210.23 243.13,210.06 243.32,217.9 236.03,218.07Z" fill="#92548b" stroke="#92548b" stroke-width="0.5"/><path d="M243.13,210.06 250.42,209.88 250.61,217.72 243.32,217.9Z" fill="#8b528d" stroke="#8b528d" stroke-width="0.5"/><path d="M250.42,209.88 257.71,209.71 257.9,217.55 250.61,217.72Z" fill="#6c4595" stroke="#6c4595" stroke-width="0.5"/><path d="M257.71,209.71 265,209.53 265.19,217.38 257.9,217.55Z" fill="#6b4595" stroke="#6b4595" stroke-width="0.5"/><path d="M265,209.53 272.3,209.36 272.48,217.2 265.19,217.38Z" fill="#704794" stroke="#704794" stroke-width="0.5"/><path d="M272.3,209.36 279.59,209.19 279.77,217.03 272.48,217.2Z" fill="#7b4c90" stroke="#7b4c90" stroke-width="0.5"/><path d="M279.59,209.19 286.88,209.01 287.06,216.85 279.77,217.03Z" fill="#7d4d90" stroke="#7d4d90" stroke-width="0.5"/><path d="M286.88,209.01 294.17,208.84 294.35,216.68 287.06,216.85Z" fill="#86508e" stroke="#86508e" stroke-width="0.5"/><path d="M294.17,208.84 301.47,208.66 301.64,216.51 294.35,216.68Z" fill="#92548b" stroke="#92548b" stroke-width="0.5"/><path d="M301.47,208.66 308.76,208.49 308.93,216.33 301.64,216.51Z" fill="#9c578a" stroke="#9c578a" stroke-width="0.5"/><path d="M308.76,208.49 316.05,208.31 316.22,216.16 308.93,216.33Z" fill="#a35987" stroke="#a35987" stroke-width="0.5"/><path d="M316.05,208.31 323.34,208.14 323.51,215.98 316.22,216.16Z" fill="#9b578a" stroke="#9b578a" stroke-width="0.5"/><path d="M323.34,208.14 330.64,207.97 330.81,215.81 323.51,215.98Z" fill="#804e8f" stroke="#804e8f" stroke-width="0.5"/><path d="M330.64,207.97 337.93,207.79 338.1,215.63 330.81,215.81Z" fill="#614099" stroke="#614099" stroke-width="0.5"/><path d="M337.93,207.79 345.22,207.62 345.39,215.46 338.1,215.63Z" fill="#543b9c" stroke="#543b9c" stroke-width="0.5"/><path d="M141.25,220.34 148.54,220.16 148.76,228.01 141.47,228.18Z" fill="#92548b" stroke="#92548b" stroke-width="0.5"/><path d="M221.45,218.42 228.74,218.25 228.94,226.09 221.65,226.26Z" fill="#95558b" stroke="#95558b" stroke-width="0.5"/><path d="M228.74,218.25 236.03,218.07 236.22,225.91 228.94,226.09Z" fill="#93548b" stroke="#93548b" stroke-width="0.5"/><path d="M236.03,218.07 243.32,217.9 243.51,225.74 236.22,225.91Z" fill="#8f538c" stroke="#8f538c" stroke-width="0.5"/><path d="M243.32,217.9 250.61,217.72 250.8,225.57 243.51,225.74Z" fill="#88518d" stroke="#88518d" stroke-width="0.5"/><path d="M250.61,217.72 257.9,217.55 258.09,225.39 250.8,225.57Z" fill="#704794" stroke="#704794" stroke-width="0.5"/><path d="M257.9,217.55 265.19,217.38 265.38,225.22 258.09,225.39Z" fill="#6e4695" stroke="#6e4695" stroke-width="0.5"/><path d="M265.19,217.38 272.48,217.2 272.67,225.04 265.38,225.22Z" fill="#724893" stroke="#724893" stroke-width="0.5"/><path d="M272.48,217.2 279.77,217.03 279.95,224.87 272.67,225.04Z" fill="#794b91" stroke="#794b91" stroke-width="0.5"/><path d="M279.77,217.03 287.06,216.85 287.24,224.7 279.95,224.87Z" fill="#7b4c90" stroke="#7b4c90" stroke-width="0.5"/><path d="M287.06,216.85 294.35,216.68 294.53,224.52 287.24,224.7Z" fill="#834f8e" stroke="#834f8e" stroke-width="0.5"/><path d="M294.35,216.68 301.64,216.51 301.82,224.35 294.53,224.52Z" fill="#8b528d" stroke="#8b528d" stroke-width="0.5"/><path d="M301.64,216.51 308.93,216.33 309.11,224.17 301.82,224.35Z" fill="#95558b" stroke="#95558b" stroke-width="0.5"/><path d="M308.93,216.33 316.22,216.16 316.4,224 309.11,224.17Z" fill="#9f5889" stroke="#9f5889" stroke-width="0.5"/><path d="M316.22,216.16 323.51,215.98 323.68,223.82 316.4,224Z" fill="#96558b" stroke="#96558b" stroke-width="0.5"/><path d="M323.51,215.98 330.81,215.81 330.97,223.65 323.68,223.82Z" fill="#7c4d90" stroke="#7c4d90" stroke-width="0.5"/><path d="M330.81,215.81 338.1,215.63 338.26,223.48 330.97,223.65Z" fill="#603f99" stroke="#603f99" stroke-width="0.5"/><path d="M338.1,215.63 345.39,215.46 345.55,223.3 338.26,223.48Z" fill="#583c9c" stroke="#583c9c" stroke-width="0.5"/><path d="M134.19,228.35 141.47,228.18 141.7,236.02 134.41,236.19Z" fill="#92548b" stroke="#92548b" stroke-width="0.5"/><path d="M214.36,226.44 221.65,226.26 221.85,234.1 214.56,234.28Z" fill="#97558b" stroke="#97558b" stroke-width="0.5"/><path d="M221.65,226.26 228.94,226.09 229.13,233.93 221.85,234.1Z" fill="#94558b" stroke="#94558b" stroke-width="0.5"/><path d="M228.94,226.09 236.22,225.91 236.42,233.76 229.13,233.93Z" fill="#93548b" stroke="#93548b" stroke-width="0.5"/><path d="M236.22,225.91 243.51,225.74 243.71,233.58 236.42,233.76Z" fill="#8e538c" stroke="#8e538c" stroke-width="0.5"/><path d="M243.51,225.74 250.8,225.57 250.99,233.41 243.71,233.58Z" fill="#89518d" stroke="#89518d" stroke-width="0.5"/><path d="M250.8,225.57 258.09,225.39 258.28,233.23 250.99,233.41Z" fill="#7b4c90" stroke="#7b4c90" stroke-width="0.5"/><path d="M258.09,225.39 265.38,225.22 265.56,233.06 258.28,233.23Z" fill="#744993" stroke="#744993" stroke-width="0.5"/><path d="M265.38,225.22 272.67,225.04 272.85,232.89 265.56,233.06Z" fill="#744993" stroke="#744993" stroke-width="0.5"/><path d="M272.67,225.04 279.95,224.87 280.14,232.71 272.85,232.89Z" fill="#784b91" stroke="#784b91" stroke-width="0.5"/><path d="M279.95,224.87 287.24,224.7 287.42,232.54 280.14,232.71Z" fill="#794b91" stroke="#794b91" stroke-width="0.5"/><path d="M309.11,224.17 316.4,224 316.57,231.84 309.28,232.02Z" fill="#96558b" stroke="#96558b" stroke-width="0.5"/><path d="M316.4,224 323.68,223.82 323.86,231.67 316.57,231.84Z" fill="#8e538c" stroke="#8e538c" stroke-width="0.5"/><path d="M323.68,223.82 330.97,223.65 331.14,231.49 323.86,231.67Z" fill="#7c4c90" stroke="#7c4c90" stroke-width="0.5"/><path d="M330.97,223.65 338.26,223.48 338.43,231.32 331.14,231.49Z" fill="#6e4694" stroke="#6e4694" stroke-width="0.5"/><path d="M411.15,221.73 418.43,221.56 418.58,229.4 411.29,229.58Z" fill="#f6a346" stroke="#f6a346" stroke-width="0.5"/><path d="M214.56,234.28 221.85,234.1 222.05,241.95 214.76,242.12Z" fill="#96558b" stroke="#96558b" stroke-width="0.5"/><path d="M221.85,234.1 229.13,233.93 229.33,241.77 222.05,241.95Z" fill="#96558b" stroke="#96558b" stroke-width="0.5"/><path d="M229.13,233.93 236.42,233.76 236.61,241.6 229.33,241.77Z" fill="#97558b" stroke="#97558b" stroke-width="0.5"/><path d="M236.42,233.76 243.71,233.58 243.9,241.42 236.61,241.6Z" fill="#93548b" stroke="#93548b" stroke-width="0.5"/><path d="M243.71,233.58 250.99,233.41 251.18,241.25 243.9,241.42Z" fill="#8f538c" stroke="#8f538c" stroke-width="0.5"/><path d="M250.99,233.41 258.28,233.23 258.47,241.08 251.18,241.25Z" fill="#84508e" stroke="#84508e" stroke-width="0.5"/><path d="M258.28,233.23 265.56,233.06 265.75,240.9 258.47,241.08Z" fill="#7a4c91" stroke="#7a4c91" stroke-width="0.5"/><path d="M265.56,233.06 272.85,232.89 273.04,240.73 265.75,240.9Z" fill="#774a92" stroke="#774a92" stroke-width="0.5"/><path d="M272.85,232.89 280.14,232.71 280.32,240.55 273.04,240.73Z" fill="#744992" stroke="#744992" stroke-width="0.5"/><path d="M280.14,232.71 287.42,232.54 287.6,240.38 280.32,240.55Z" fill="#774a92" stroke="#774a92" stroke-width="0.5"/><path d="M309.28,232.02 316.57,231.84 316.74,239.68 309.46,239.86Z" fill="#8a518d" stroke="#8a518d" stroke-width="0.5"/><path d="M316.57,231.84 323.86,231.67 324.03,239.51 316.74,239.68Z" fill="#844f8e" stroke="#844f8e" stroke-width="0.5"/><path d="M323.86,231.67 331.14,231.49 331.31,239.34 324.03,239.51Z" fill="#724893" stroke="#724893" stroke-width="0.5"/><path d="M404,229.75 411.29,229.58 411.44,237.42 404.15,237.59Z" fill="#f3cb48" stroke="#f3cb48" stroke-width="0.5"/><path d="M411.29,229.58 418.58,229.4 418.72,237.25 411.44,237.42Z" fill="#f6a346" stroke="#f6a346" stroke-width="0.5"/><path d="M214.76,242.12 222.05,241.95 222.24,249.79 214.96,249.96Z" fill="#99568a" stroke="#99568a" stroke-width="0.5"/><path d="M222.05,241.95 229.33,241.77 229.53,249.61 222.24,249.79Z" fill="#9b578a" stroke="#9b578a" stroke-width="0.5"/><path d="M229.33,241.77 236.61,241.6 236.81,249.44 229.53,249.61Z" fill="#9a578a" stroke="#9a578a" stroke-width="0.5"/><path d="M236.61,241.6 243.9,241.42 244.09,249.27 236.81,249.44Z" fill="#97558b" stroke="#97558b" stroke-width="0.5"/><path d="M243.9,241.42 251.18,241.25 251.37,249.09 244.09,249.27Z" fill="#93548b" stroke="#93548b" stroke-width="0.5"/><path d="M251.18,241.25 258.47,241.08 258.66,248.92 251.37,249.09Z" fill="#8e538c" stroke="#8e538c" stroke-width="0.5"/><path d="M258.47,241.08 265.75,240.9 265.94,248.74 258.66,248.92Z" fill="#88518d" stroke="#88518d" stroke-width="0.5"/><path d="M265.75,240.9 273.04,240.73 273.22,248.57 265.94,248.74Z" fill="#814f8f" stroke="#814f8f" stroke-width="0.5"/><path d="M273.04,240.73 280.32,240.55 280.5,248.4 273.22,248.57Z" fill="#774a92" stroke="#774a92" stroke-width="0.5"/><path d="M280.32,240.55 287.6,240.38 287.78,248.22 280.5,248.4Z" fill="#764a92" stroke="#764a92" stroke-width="0.5"/><path d="M287.6,240.38 294.89,240.21 295.07,248.05 287.78,248.22Z" fill="#7a4c91" stroke="#7a4c91" stroke-width="0.5"/><path d="M309.46,239.86 316.74,239.68 316.91,247.53 309.63,247.7Z" fill="#6e4694" stroke="#6e4694" stroke-width="0.5"/><path d="M316.74,239.68 324.03,239.51 324.2,247.35 316.91,247.53Z" fill="#694496" stroke="#694496" stroke-width="0.5"/><path d="M324.03,239.51 331.31,239.34 331.48,247.18 324.2,247.35Z" fill="#6f4694" stroke="#6f4694" stroke-width="0.5"/><path d="M404.15,237.59 411.44,237.42 411.58,245.26 404.3,245.44Z" fill="#eaf257" stroke="#eaf257" stroke-width="0.5"/><path d="M411.44,237.42 418.72,237.25 418.86,245.09 411.58,245.26Z" fill="#f5c545" stroke="#f5c545" stroke-width="0.5"/><path d="M214.96,249.96 222.24,249.79 222.44,257.63 215.16,257.8Z" fill="#9d5789" stroke="#9d5789" stroke-width="0.5"/><path d="M222.24,249.79 229.53,249.61 229.72,257.46 222.44,257.63Z" fill="#9e5889" stroke="#9e5889" stroke-width="0.5"/><path d="M229.53,249.61 236.81,249.44 237,257.28 229.72,257.46Z" fill="#9c578a" stroke="#9c578a" stroke-width="0.5"/><path d="M236.81,249.44 244.09,249.27 244.28,257.11 237,257.28Z" fill="#98568a" stroke="#98568a" stroke-width="0.5"/><path d="M244.09,249.27 251.37,249.09 251.56,256.93 244.28,257.11Z" fill="#92548b" stroke="#92548b" stroke-width="0.5"/><path d="M251.37,249.09 258.66,248.92 258.84,256.76 251.56,256.93Z" fill="#8c528d" stroke="#8c528d" stroke-width="0.5"/><path d="M258.66,248.92 265.94,248.74 266.12,256.59 258.84,256.76Z" fill="#85508e" stroke="#85508e" stroke-width="0.5"/><path d="M265.94,248.74 273.22,248.57 273.4,256.41 266.12,256.59Z" fill="#704794" stroke="#704794" stroke-width="0.5"/><path d="M273.22,248.57 280.5,248.4 280.68,256.24 273.4,256.41Z" fill="#684397" stroke="#684397" stroke-width="0.5"/><path d="M280.5,248.4 287.78,248.22 287.96,256.06 280.68,256.24Z" fill="#644198" stroke="#644198" stroke-width="0.5"/><path d="M316.91,247.53 324.2,247.35 324.37,255.19 317.09,255.37Z" fill="#553b9c" stroke="#553b9c" stroke-width="0.5"/><path d="M411.58,245.26 418.86,245.09 419.01,252.93 411.73,253.11Z" fill="#eaf257" stroke="#eaf257" stroke-width="0.5"/><path d="M215.16,257.8 222.44,257.63 222.64,265.47 215.36,265.65Z" fill="#9c578a" stroke="#9c578a" stroke-width="0.5"/><path d="M222.44,257.63 229.72,257.46 229.92,265.3 222.64,265.47Z" fill="#9b578a" stroke="#9b578a" stroke-width="0.5"/><path d="M229.72,257.46 237,257.28 237.2,265.12 229.92,265.3Z" fill="#99568a" stroke="#99568a" stroke-width="0.5"/><path d="M237,257.28 244.28,257.11 244.48,264.95 237.2,265.12Z" fill="#96558b" stroke="#96558b" stroke-width="0.5"/><path d="M244.28,257.11 251.56,256.93 251.75,264.78 244.48,264.95Z" fill="#90538c" stroke="#90538c" stroke-width="0.5"/><path d="M251.56,256.93 258.84,256.76 259.03,264.6 251.75,264.78Z" fill="#89518d" stroke="#89518d" stroke-width="0.5"/><path d="M258.84,256.76 266.12,256.59 266.31,264.43 259.03,264.6Z" fill="#814f8f" stroke="#814f8f" stroke-width="0.5"/><path d="M266.12,256.59 273.4,256.41 273.59,264.25 266.31,264.43Z" fill="#684397" stroke="#684397" stroke-width="0.5"/><path d="M273.4,256.41 280.68,256.24 280.87,264.08 273.59,264.25Z" fill="#603f99" stroke="#603f99" stroke-width="0.5"/><path d="M280.68,256.24 287.96,256.06 288.15,263.91 280.87,264.08Z" fill="#5c3d9a" stroke="#5c3d9a" stroke-width="0.5"/><path d="M120.75,267.91 128.03,267.73 128.25,275.57 120.98,275.75Z" fill="#8f538c" stroke="#8f538c" stroke-width="0.5"/><path d="M200.81,265.99 208.09,265.82 208.29,273.66 201.01,273.84Z" fill="#92548b" stroke="#92548b" stroke-width="0.5"/><path d="M208.09,265.82 215.36,265.65 215.57,273.49 208.29,273.66Z" fill="#96558b" stroke="#96558b" stroke-width="0.5"/><path d="M215.36,265.65 222.64,265.47 222.84,273.31 215.57,273.49Z" fill="#98568a" stroke="#98568a" stroke-width="0.5"/><path d="M222.64,265.47 229.92,265.3 230.12,273.14 222.84,273.31Z" fill="#97558b" stroke="#97558b" stroke-width="0.5"/><path d="M229.92,265.3 237.2,265.12 237.39,272.97 230.12,273.14Z" fill="#96558b" stroke="#96558b" stroke-width="0.5"/><path d="M237.2,265.12 244.48,264.95 244.67,272.79 237.39,272.97Z" fill="#93548b" stroke="#93548b" stroke-width="0.5"/><path d="M244.48,264.95 251.75,264.78 251.95,272.62 244.67,272.79Z" fill="#8d528c" stroke="#8d528c" stroke-width="0.5"/><path d="M251.75,264.78 259.03,264.6 259.22,272.44 251.95,272.62Z" fill="#86508e" stroke="#86508e" stroke-width="0.5"/><path d="M259.03,264.6 266.31,264.43 266.5,272.27 259.22,272.44Z" fill="#7d4d90" stroke="#7d4d90" stroke-width="0.5"/><path d="M266.31,264.43 273.59,264.25 273.77,272.1 266.5,272.27Z" fill="#674397" stroke="#674397" stroke-width="0.5"/><path d="M273.59,264.25 280.87,264.08 281.05,271.92 273.77,272.1Z" fill="#603f99" stroke="#603f99" stroke-width="0.5"/><path d="M280.87,264.08 288.15,263.91 288.33,271.75 281.05,271.92Z" fill="#583c9c" stroke="#583c9c" stroke-width="0.5"/><path d="M309.98,263.38 317.26,263.21 317.43,271.05 310.15,271.23Z" fill="#8c528d" stroke="#8c528d" stroke-width="0.5"/><path d="M201.01,273.84 208.29,273.66 208.49,281.5 201.22,281.68Z" fill="#8f538c" stroke="#8f538c" stroke-width="0.5"/><path d="M208.29,273.66 215.57,273.49 215.77,281.33 208.49,281.5Z" fill="#91548c" stroke="#91548c" stroke-width="0.5"/><path d="M215.57,273.49 222.84,273.31 223.04,281.16 215.77,281.33Z" fill="#93548b" stroke="#93548b" stroke-width="0.5"/><path d="M222.84,273.31 230.12,273.14 230.31,280.98 223.04,281.16Z" fill="#92548b" stroke="#92548b" stroke-width="0.5"/><path d="M230.12,273.14 237.39,272.97 237.59,280.81 230.31,280.98Z" fill="#91548c" stroke="#91548c" stroke-width="0.5"/><path d="M237.39,272.97 244.67,272.79 244.86,280.63 237.59,280.81Z" fill="#8f538c" stroke="#8f538c" stroke-width="0.5"/><path d="M244.67,272.79 251.95,272.62 252.14,280.46 244.86,280.63Z" fill="#88518d" stroke="#88518d" stroke-width="0.5"/><path d="M251.95,272.62 259.22,272.44 259.41,280.29 252.14,280.46Z" fill="#814f8f" stroke="#814f8f" stroke-width="0.5"/><path d="M259.22,272.44 266.5,272.27 266.68,280.11 259.41,280.29Z" fill="#7b4c90" stroke="#7b4c90" stroke-width="0.5"/><path d="M266.5,272.27 273.77,272.1 273.96,279.94 266.68,280.11Z" fill="#734893" stroke="#734893" stroke-width="0.5"/><path d="M273.77,272.1 281.05,271.92 281.23,279.76 273.96,279.94Z" fill="#6c4595" stroke="#6c4595" stroke-width="0.5"/><path d="M281.05,271.92 288.33,271.75 288.51,279.59 281.23,279.76Z" fill="#674397" stroke="#674397" stroke-width="0.5"/><path d="M310.15,271.23 317.43,271.05 317.6,278.9 310.33,279.07Z" fill="#6e4695" stroke="#6e4695" stroke-width="0.5"/><path d="M179.4,282.2 186.67,282.02 186.88,289.87 179.61,290.04Z" fill="#7f4e8f" stroke="#7f4e8f" stroke-width="0.5"/><path d="M193.94,281.85 201.22,281.68 201.42,289.52 194.15,289.69Z" fill="#85508e" stroke="#85508e" stroke-width="0.5"/><path d="M201.22,281.68 208.49,281.5 208.7,289.34 201.42,289.52Z" fill="#86508e" stroke="#86508e" stroke-width="0.5"/><path d="M208.49,281.5 215.77,281.33 215.97,289.17 208.7,289.34Z" fill="#87508e" stroke="#87508e" stroke-width="0.5"/><path d="M215.77,281.33 223.04,281.16 223.24,289 215.97,289.17Z" fill="#88518d" stroke="#88518d" stroke-width="0.5"/><path d="M223.04,281.16 230.31,280.98 230.51,288.82 223.24,289Z" fill="#87508e" stroke="#87508e" stroke-width="0.5"/><path d="M230.31,280.98 237.59,280.81 237.78,288.65 230.51,288.82Z" fill="#87518d" stroke="#87518d" stroke-width="0.5"/><path d="M237.59,280.81 244.86,280.63 245.06,288.48 237.78,288.65Z" fill="#84508e" stroke="#84508e" stroke-width="0.5"/><path d="M244.86,280.63 252.14,280.46 252.33,288.3 245.06,288.48Z" fill="#7b4c90" stroke="#7b4c90" stroke-width="0.5"/><path d="M252.14,280.46 259.41,280.29 259.6,288.13 252.33,288.3Z" fill="#7d4d90" stroke="#7d4d90" stroke-width="0.5"/><path d="M259.41,280.29 266.68,280.11 266.87,287.95 259.6,288.13Z" fill="#7e4e8f" stroke="#7e4e8f" stroke-width="0.5"/><path d="M266.68,280.11 273.96,279.94 274.14,287.78 266.87,287.95Z" fill="#7f4e8f" stroke="#7f4e8f" stroke-width="0.5"/><path d="M273.96,279.94 281.23,279.76 281.42,287.61 274.14,287.78Z" fill="#784b91" stroke="#784b91" stroke-width="0.5"/><path d="M281.23,279.76 288.51,279.59 288.69,287.43 281.42,287.61Z" fill="#6f4694" stroke="#6f4694" stroke-width="0.5"/><path d="M288.51,279.59 295.78,279.42 295.96,287.26 288.69,287.43Z" fill="#654297" stroke="#654297" stroke-width="0.5"/><path d="M295.78,279.42 303.05,279.24 303.23,287.09 295.96,287.26Z" fill="#5c3d9b" stroke="#5c3d9b" stroke-width="0.5"/><path d="M303.05,279.24 310.33,279.07 310.5,286.91 303.23,287.09Z" fill="#5b3d9b" stroke="#5b3d9b" stroke-width="0.5"/><path d="M310.33,279.07 317.6,278.9 317.77,286.74 310.5,286.91Z" fill="#714794" stroke="#714794" stroke-width="0.5"/><path d="M317.6,278.9 324.88,278.72 325.05,286.56 317.77,286.74Z" fill="#ac5c84" stroke="#ac5c84" stroke-width="0.5"/><path d="M121.43,291.43 128.7,291.26 128.93,299.1 121.66,299.27Z" fill="#7f4e8f" stroke="#7f4e8f" stroke-width="0.5"/><path d="M172.34,290.21 179.61,290.04 179.82,297.88 172.55,298.05Z" fill="#7f4e8f" stroke="#7f4e8f" stroke-width="0.5"/><path d="M179.61,290.04 186.88,289.87 187.09,297.71 179.82,297.88Z" fill="#7f4e8f" stroke="#7f4e8f" stroke-width="0.5"/><path d="M194.15,289.69 201.42,289.52 201.63,297.36 194.36,297.53Z" fill="#7d4d90" stroke="#7d4d90" stroke-width="0.5"/><path d="M201.42,289.52 208.7,289.34 208.9,297.19 201.63,297.36Z" fill="#694496" stroke="#694496" stroke-width="0.5"/><path d="M208.7,289.34 215.97,289.17 216.17,297.01 208.9,297.19Z" fill="#694396" stroke="#694396" stroke-width="0.5"/><path d="M215.97,289.17 223.24,289 223.44,296.84 216.17,297.01Z" fill="#684396" stroke="#684396" stroke-width="0.5"/><path d="M223.24,289 230.51,288.82 230.71,296.66 223.44,296.84Z" fill="#5b3d9b" stroke="#5b3d9b" stroke-width="0.5"/><path d="M230.51,288.82 237.78,288.65 237.98,296.49 230.71,296.66Z" fill="#583c9c" stroke="#583c9c" stroke-width="0.5"/><path d="M237.78,288.65 245.06,288.48 245.25,296.32 237.98,296.49Z" fill="#44399b" stroke="#44399b" stroke-width="0.5"/><path d="M245.06,288.48 252.33,288.3 252.52,296.14 245.25,296.32Z" fill="#43399b" stroke="#43399b" stroke-width="0.5"/><path d="M252.33,288.3 259.6,288.13 259.79,295.97 252.52,296.14Z" fill="#47399b" stroke="#47399b" stroke-width="0.5"/><path d="M259.6,288.13 266.87,287.95 267.06,295.8 259.79,295.97Z" fill="#48399b" stroke="#48399b" stroke-width="0.5"/><path d="M266.87,287.95 274.14,287.78 274.33,295.62 267.06,295.8Z" fill="#5f3f99" stroke="#5f3f99" stroke-width="0.5"/><path d="M274.14,287.78 281.42,287.61 281.6,295.45 274.33,295.62Z" fill="#6d4695" stroke="#6d4695" stroke-width="0.5"/><path d="M281.42,287.61 288.69,287.43 288.87,295.28 281.6,295.45Z" fill="#694396" stroke="#694396" stroke-width="0.5"/><path d="M288.69,287.43 295.96,287.26 296.14,295.1 288.87,295.28Z" fill="#603f99" stroke="#603f99" stroke-width="0.5"/><path d="M295.96,287.26 303.23,287.09 303.41,294.93 296.14,295.1Z" fill="#583b9c" stroke="#583b9c" stroke-width="0.5"/><path d="M303.23,287.09 310.5,286.91 310.68,294.75 303.41,294.93Z" fill="#563b9c" stroke="#563b9c" stroke-width="0.5"/><path d="M310.5,286.91 317.77,286.74 317.95,294.58 310.68,294.75Z" fill="#664297" stroke="#664297" stroke-width="0.5"/><path d="M194.36,297.53 201.63,297.36 201.83,305.2 194.57,305.37Z" fill="#684397" stroke="#684397" stroke-width="0.5"/><path d="M201.63,297.36 208.9,297.19 209.1,305.03 201.83,305.2Z" fill="#5e3e9a" stroke="#5e3e9a" stroke-width="0.5"/><path d="M208.9,297.19 216.17,297.01 216.37,304.85 209.1,305.03Z" fill="#5d3e9a" stroke="#5d3e9a" stroke-width="0.5"/><path d="M216.17,297.01 223.44,296.84 223.64,304.68 216.37,304.85Z" fill="#573b9c" stroke="#573b9c" stroke-width="0.5"/><path d="M223.44,296.84 230.71,296.66 230.91,304.51 223.64,304.68Z" fill="#553b9c" stroke="#553b9c" stroke-width="0.5"/><path d="M230.71,296.66 237.98,296.49 238.17,304.33 230.91,304.51Z" fill="#42399b" stroke="#42399b" stroke-width="0.5"/><path d="M237.98,296.49 245.25,296.32 245.44,304.16 238.17,304.33Z" fill="#34379a" stroke="#34379a" stroke-width="0.5"/><path d="M245.25,296.32 252.52,296.14 252.71,303.99 245.44,304.16Z" fill="#38389a" stroke="#38389a" stroke-width="0.5"/><path d="M252.52,296.14 259.79,295.97 259.98,303.81 252.71,303.99Z" fill="#38389a" stroke="#38389a" stroke-width="0.5"/><path d="M259.79,295.97 267.06,295.8 267.24,303.64 259.98,303.81Z" fill="#38389a" stroke="#38389a" stroke-width="0.5"/><path d="M267.06,295.8 274.33,295.62 274.51,303.46 267.24,303.64Z" fill="#44399b" stroke="#44399b" stroke-width="0.5"/><path d="M288.87,295.28 296.14,295.1 296.32,302.94 289.05,303.12Z" fill="#5e3e9a" stroke="#5e3e9a" stroke-width="0.5"/><path d="M296.14,295.1 303.41,294.93 303.58,302.77 296.32,302.94Z" fill="#553b9c" stroke="#553b9c" stroke-width="0.5"/><path d="M303.41,294.93 310.68,294.75 310.85,302.6 303.58,302.77Z" fill="#553b9c" stroke="#553b9c" stroke-width="0.5"/><path d="M310.68,294.75 317.95,294.58 318.12,302.42 310.85,302.6Z" fill="#563b9c" stroke="#563b9c" stroke-width="0.5"/><path d="M317.95,294.58 325.22,294.41 325.39,302.25 318.12,302.42Z" fill="#644198" stroke="#644198" stroke-width="0.5"/><path d="M325.22,294.41 332.49,294.23 332.66,302.08 325.39,302.25Z" fill="#97568a" stroke="#97568a" stroke-width="0.5"/><path d="M180.03,305.72 187.3,305.55 187.51,313.39 180.24,313.56Z" fill="#674397" stroke="#674397" stroke-width="0.5"/><path d="M187.3,305.55 194.57,305.37 194.77,313.22 187.51,313.39Z" fill="#5e3e9a" stroke="#5e3e9a" stroke-width="0.5"/><path d="M194.57,305.37 201.83,305.2 202.04,313.04 194.77,313.22Z" fill="#573b9c" stroke="#573b9c" stroke-width="0.5"/><path d="M201.83,305.2 209.1,305.03 209.31,312.87 202.04,313.04Z" fill="#563b9c" stroke="#563b9c" stroke-width="0.5"/><path d="M209.1,305.03 216.37,304.85 216.57,312.7 209.31,312.87Z" fill="#543b9c" stroke="#543b9c" stroke-width="0.5"/><path d="M216.37,304.85 223.64,304.68 223.84,312.52 216.57,312.7Z" fill="#553b9c" stroke="#553b9c" stroke-width="0.5"/><path d="M223.64,304.68 230.91,304.51 231.1,312.35 223.84,312.52Z" fill="#43399b" stroke="#43399b" stroke-width="0.5"/><path d="M230.91,304.51 238.17,304.33 238.37,312.17 231.1,312.35Z" fill="#34379a" stroke="#34379a" stroke-width="0.5"/><path d="M238.17,304.33 245.44,304.16 245.63,312 238.37,312.17Z" fill="#26368c" stroke="#26368c" stroke-width="0.5"/><path d="M245.44,304.16 252.71,303.99 252.9,311.83 245.63,312Z" fill="#34379a" stroke="#34379a" stroke-width="0.5"/><path d="M252.71,303.99 259.98,303.81 260.17,311.65 252.9,311.83Z" fill="#34379a" stroke="#34379a" stroke-width="0.5"/><path d="M259.98,303.81 267.24,303.64 267.43,311.48 260.17,311.65Z" fill="#34379a" stroke="#34379a" stroke-width="0.5"/><path d="M267.24,303.64 274.51,303.46 274.7,311.31 267.43,311.48Z" fill="#34379a" stroke="#34379a" stroke-width="0.5"/><path d="M296.32,302.94 303.58,302.77 303.76,310.61 296.49,310.79Z" fill="#42399b" stroke="#42399b" stroke-width="0.5"/><path d="M303.58,302.77 310.85,302.6 311.03,310.44 303.76,310.61Z" fill="#46399b" stroke="#46399b" stroke-width="0.5"/><path d="M310.85,302.6 318.12,302.42 318.29,310.27 311.03,310.44Z" fill="#43399b" stroke="#43399b" stroke-width="0.5"/><path d="M318.12,302.42 325.39,302.25 325.56,310.09 318.29,310.27Z" fill="#543b9c" stroke="#543b9c" stroke-width="0.5"/><path d="M325.39,302.25 332.66,302.08 332.82,309.92 325.56,310.09Z" fill="#89518d" stroke="#89518d" stroke-width="0.5"/><path d="M332.66,302.08 339.92,301.9 340.09,309.74 332.82,309.92Z" fill="#a35987" stroke="#a35987" stroke-width="0.5"/><path d="M151.18,314.26 158.44,314.08 158.66,321.93 151.4,322.1Z" fill="#824f8e" stroke="#824f8e" stroke-width="0.5"/><path d="M172.98,313.74 180.24,313.56 180.45,321.4 173.19,321.58Z" fill="#583c9c" stroke="#583c9c" stroke-width="0.5"/><path d="M180.24,313.56 187.51,313.39 187.72,321.23 180.45,321.4Z" fill="#5b3d9b" stroke="#5b3d9b" stroke-width="0.5"/><path d="M187.51,313.39 194.77,313.22 194.98,321.06 187.72,321.23Z" fill="#573b9c" stroke="#573b9c" stroke-width="0.5"/><path d="M194.77,313.22 202.04,313.04 202.24,320.88 194.98,321.06Z" fill="#543b9c" stroke="#543b9c" stroke-width="0.5"/><path d="M202.04,313.04 209.31,312.87 209.51,320.71 202.24,320.88Z" fill="#523a9c" stroke="#523a9c" stroke-width="0.5"/><path d="M209.31,312.87 216.57,312.7 216.77,320.54 209.51,320.71Z" fill="#45399b" stroke="#45399b" stroke-width="0.5"/><path d="M216.57,312.7 223.84,312.52 224.04,320.36 216.77,320.54Z" fill="#45399b" stroke="#45399b" stroke-width="0.5"/><path d="M223.84,312.52 231.1,312.35 231.3,320.19 224.04,320.36Z" fill="#45399b" stroke="#45399b" stroke-width="0.5"/><path d="M231.1,312.35 238.37,312.17 238.56,320.02 231.3,320.19Z" fill="#34379a" stroke="#34379a" stroke-width="0.5"/><path d="M238.37,312.17 245.63,312 245.83,319.84 238.56,320.02Z" fill="#33379a" stroke="#33379a" stroke-width="0.5"/><path d="M245.63,312 252.9,311.83 253.09,319.67 245.83,319.84Z" fill="#33379a" stroke="#33379a" stroke-width="0.5"/><path d="M252.9,311.83 260.17,311.65 260.35,319.5 253.09,319.67Z" fill="#33379a" stroke="#33379a" stroke-width="0.5"/><path d="M260.17,311.65 267.43,311.48 267.62,319.32 260.35,319.5Z" fill="#33379a" stroke="#33379a" stroke-width="0.5"/><path d="M267.43,311.48 274.7,311.31 274.88,319.15 267.62,319.32Z" fill="#33379a" stroke="#33379a" stroke-width="0.5"/><path d="M296.49,310.79 303.76,310.61 303.94,318.45 296.67,318.63Z" fill="#33379a" stroke="#33379a" stroke-width="0.5"/><path d="M303.76,310.61 311.03,310.44 311.2,318.28 303.94,318.45Z" fill="#33379a" stroke="#33379a" stroke-width="0.5"/><path d="M311.03,310.44 318.29,310.27 318.46,318.11 311.2,318.28Z" fill="#2c3794" stroke="#2c3794" stroke-width="0.5"/><path d="M318.29,310.27 325.56,310.09 325.73,317.93 318.46,318.11Z" fill="#33379a" stroke="#33379a" stroke-width="0.5"/><path d="M325.56,310.09 332.82,309.92 332.99,317.76 325.73,317.93Z" fill="#624098" stroke="#624098" stroke-width="0.5"/><path d="M332.82,309.92 340.09,309.74 340.26,317.59 332.99,317.76Z" fill="#8d528c" stroke="#8d528c" stroke-width="0.5"/><path d="M144.13,322.27 151.4,322.1 151.62,329.94 144.36,330.11Z" fill="#85508e" stroke="#85508e" stroke-width="0.5"/><path d="M151.4,322.1 158.66,321.93 158.88,329.77 151.62,329.94Z" fill="#7d4d90" stroke="#7d4d90" stroke-width="0.5"/><path d="M173.19,321.58 180.45,321.4 180.66,329.25 173.4,329.42Z" fill="#563b9c" stroke="#563b9c" stroke-width="0.5"/><path d="M180.45,321.4 187.72,321.23 187.93,329.07 180.66,329.25Z" fill="#553b9c" stroke="#553b9c" stroke-width="0.5"/><path d="M187.72,321.23 194.98,321.06 195.19,328.9 187.93,329.07Z" fill="#533b9c" stroke="#533b9c" stroke-width="0.5"/><path d="M194.98,321.06 202.24,320.88 202.45,328.73 195.19,328.9Z" fill="#4c3a9b" stroke="#4c3a9b" stroke-width="0.5"/><path d="M202.24,320.88 209.51,320.71 209.71,328.55 202.45,328.73Z" fill="#40399b" stroke="#40399b" stroke-width="0.5"/><path d="M209.51,320.71 216.77,320.54 216.97,328.38 209.71,328.55Z" fill="#38389a" stroke="#38389a" stroke-width="0.5"/><path d="M216.77,320.54 224.04,320.36 224.23,328.21 216.97,328.38Z" fill="#37389a" stroke="#37389a" stroke-width="0.5"/><path d="M224.04,320.36 231.3,320.19 231.5,328.03 224.23,328.21Z" fill="#37389a" stroke="#37389a" stroke-width="0.5"/><path d="M231.3,320.19 238.56,320.02 238.76,327.86 231.5,328.03Z" fill="#36389a" stroke="#36389a" stroke-width="0.5"/><path d="M238.56,320.02 245.83,319.84 246.02,327.68 238.76,327.86Z" fill="#2e3797" stroke="#2e3797" stroke-width="0.5"/><path d="M245.83,319.84 253.09,319.67 253.28,327.51 246.02,327.68Z" fill="#2d3796" stroke="#2d3796" stroke-width="0.5"/><path d="M253.09,319.67 260.35,319.5 260.54,327.34 253.28,327.51Z" fill="#2a3792" stroke="#2a3792" stroke-width="0.5"/><path d="M260.35,319.5 267.62,319.32 267.8,327.16 260.54,327.34Z" fill="#25368b" stroke="#25368b" stroke-width="0.5"/><path d="M267.62,319.32 274.88,319.15 275.07,326.99 267.8,327.16Z" fill="#213687" stroke="#213687" stroke-width="0.5"/><path d="M274.88,319.15 282.15,318.98 282.33,326.82 275.07,326.99Z" fill="#1d3682" stroke="#1d3682" stroke-width="0.5"/><path d="M296.67,318.63 303.94,318.45 304.11,326.3 296.85,326.47Z" fill="#223687" stroke="#223687" stroke-width="0.5"/><path d="M303.94,318.45 311.2,318.28 311.37,326.12 304.11,326.3Z" fill="#1c367f" stroke="#1c367f" stroke-width="0.5"/><path d="M311.2,318.28 318.46,318.11 318.64,325.95 311.37,326.12Z" fill="#1b357b" stroke="#1b357b" stroke-width="0.5"/><path d="M318.46,318.11 325.73,317.93 325.9,325.78 318.64,325.95Z" fill="#1c367f" stroke="#1c367f" stroke-width="0.5"/><path d="M325.73,317.93 332.99,317.76 333.16,325.6 325.9,325.78Z" fill="#31379a" stroke="#31379a" stroke-width="0.5"/><path d="M332.99,317.76 340.26,317.59 340.42,325.43 333.16,325.6Z" fill="#553b9c" stroke="#553b9c" stroke-width="0.5"/><path d="M144.36,330.11 151.62,329.94 151.84,337.78 144.58,337.95Z" fill="#7a4c91" stroke="#7a4c91" stroke-width="0.5"/><path d="M151.62,329.94 158.88,329.77 159.1,337.61 151.84,337.78Z" fill="#784b91" stroke="#784b91" stroke-width="0.5"/><path d="M166.14,329.59 173.4,329.42 173.62,337.26 166.36,337.43Z" fill="#5d3e9a" stroke="#5d3e9a" stroke-width="0.5"/><path d="M173.4,329.42 180.66,329.25 180.88,337.09 173.62,337.26Z" fill="#563b9c" stroke="#563b9c" stroke-width="0.5"/><path d="M180.66,329.25 187.93,329.07 188.14,336.91 180.88,337.09Z" fill="#523b9c" stroke="#523b9c" stroke-width="0.5"/><path d="M187.93,329.07 195.19,328.9 195.4,336.74 188.14,336.91Z" fill="#503a9c" stroke="#503a9c" stroke-width="0.5"/><path d="M195.19,328.9 202.45,328.73 202.65,336.57 195.4,336.74Z" fill="#4a3a9b" stroke="#4a3a9b" stroke-width="0.5"/><path d="M202.45,328.73 209.71,328.55 209.91,336.39 202.65,336.57Z" fill="#34379a" stroke="#34379a" stroke-width="0.5"/><path d="M209.71,328.55 216.97,328.38 217.17,336.22 209.91,336.39Z" fill="#30379a" stroke="#30379a" stroke-width="0.5"/><path d="M216.97,328.38 224.23,328.21 224.43,336.05 217.17,336.22Z" fill="#27378f" stroke="#27378f" stroke-width="0.5"/><path d="M224.23,328.21 231.5,328.03 231.69,335.87 224.43,336.05Z" fill="#293790" stroke="#293790" stroke-width="0.5"/><path d="M231.5,328.03 238.76,327.86 238.95,335.7 231.69,335.87Z" fill="#2a3792" stroke="#2a3792" stroke-width="0.5"/><path d="M238.76,327.86 246.02,327.68 246.21,335.53 238.95,335.7Z" fill="#27378e" stroke="#27378e" stroke-width="0.5"/><path d="M246.02,327.68 253.28,327.51 253.47,335.35 246.21,335.53Z" fill="#233689" stroke="#233689" stroke-width="0.5"/><path d="M253.28,327.51 260.54,327.34 260.73,335.18 253.47,335.35Z" fill="#213687" stroke="#213687" stroke-width="0.5"/><path d="M260.54,327.34 267.8,327.16 267.99,335.01 260.73,335.18Z" fill="#1b367d" stroke="#1b367d" stroke-width="0.5"/><path d="M267.8,327.16 275.07,326.99 275.25,334.83 267.99,335.01Z" fill="#193577" stroke="#193577" stroke-width="0.5"/><path d="M275.07,326.99 282.33,326.82 282.51,334.66 275.25,334.83Z" fill="#193475" stroke="#193475" stroke-width="0.5"/><path d="M296.85,326.47 304.11,326.3 304.29,334.14 297.03,334.31Z" fill="#193576" stroke="#193576" stroke-width="0.5"/><path d="M304.11,326.3 311.37,326.12 311.55,333.97 304.29,334.14Z" fill="#183472" stroke="#183472" stroke-width="0.5"/><path d="M311.37,326.12 318.64,325.95 318.81,333.79 311.55,333.97Z" fill="#16336e" stroke="#16336e" stroke-width="0.5"/><path d="M318.64,325.95 325.9,325.78 326.07,333.62 318.81,333.79Z" fill="#15336a" stroke="#15336a" stroke-width="0.5"/><path d="M325.9,325.78 333.16,325.6 333.33,333.45 326.07,333.62Z" fill="#1a357a" stroke="#1a357a" stroke-width="0.5"/><path d="M333.16,325.6 340.42,325.43 340.59,333.27 333.33,333.45Z" fill="#33379a" stroke="#33379a" stroke-width="0.5"/><path d="M340.42,325.43 347.68,325.26 347.85,333.1 340.59,333.27Z" fill="#6e4695" stroke="#6e4695" stroke-width="0.5"/><path d="M144.58,337.95 151.84,337.78 152.06,345.62 144.8,345.8Z" fill="#6f4694" stroke="#6f4694" stroke-width="0.5"/><path d="M151.84,337.78 159.1,337.61 159.31,345.45 152.06,345.62Z" fill="#6e4694" stroke="#6e4694" stroke-width="0.5"/><path d="M159.1,337.61 166.36,337.43 166.57,345.28 159.31,345.45Z" fill="#684396" stroke="#684396" stroke-width="0.5"/><path d="M166.36,337.43 173.62,337.26 173.83,345.1 166.57,345.28Z" fill="#5e3e9a" stroke="#5e3e9a" stroke-width="0.5"/><path d="M173.62,337.26 180.88,337.09 181.09,344.93 173.83,345.1Z" fill="#573b9c" stroke="#573b9c" stroke-width="0.5"/><path d="M180.88,337.09 188.14,336.91 188.35,344.76 181.09,344.93Z" fill="#513a9c" stroke="#513a9c" stroke-width="0.5"/><path d="M188.14,336.91 195.4,336.74 195.6,344.58 188.35,344.76Z" fill="#4c3a9b" stroke="#4c3a9b" stroke-width="0.5"/><path d="M195.4,336.74 202.65,336.57 202.86,344.41 195.6,344.58Z" fill="#45399b" stroke="#45399b" stroke-width="0.5"/><path d="M202.65,336.57 209.91,336.39 210.12,344.24 202.86,344.41Z" fill="#2e3797" stroke="#2e3797" stroke-width="0.5"/><path d="M209.91,336.39 217.17,336.22 217.38,344.06 210.12,344.24Z" fill="#28378f" stroke="#28378f" stroke-width="0.5"/><path d="M217.17,336.22 224.43,336.05 224.63,343.89 217.38,344.06Z" fill="#1d3681" stroke="#1d3681" stroke-width="0.5"/><path d="M224.43,336.05 231.69,335.87 231.89,343.72 224.63,343.89Z" fill="#1d3681" stroke="#1d3681" stroke-width="0.5"/><path d="M231.69,335.87 238.95,335.7 239.15,343.54 231.89,343.72Z" fill="#203685" stroke="#203685" stroke-width="0.5"/><path d="M238.95,335.7 246.21,335.53 246.41,343.37 239.15,343.54Z" fill="#1f3683" stroke="#1f3683" stroke-width="0.5"/><path d="M246.21,335.53 253.47,335.35 253.66,343.2 246.41,343.37Z" fill="#1c3680" stroke="#1c3680" stroke-width="0.5"/><path d="M253.47,335.35 260.73,335.18 260.92,343.02 253.66,343.2Z" fill="#1b357c" stroke="#1b357c" stroke-width="0.5"/><path d="M260.73,335.18 267.99,335.01 268.18,342.85 260.92,343.02Z" fill="#193577" stroke="#193577" stroke-width="0.5"/><path d="M267.99,335.01 275.25,334.83 275.44,342.68 268.18,342.85Z" fill="#183472" stroke="#183472" stroke-width="0.5"/><path d="M275.25,334.83 282.51,334.66 282.69,342.5 275.44,342.68Z" fill="#17336f" stroke="#17336f" stroke-width="0.5"/><path d="M282.51,334.66 289.77,334.49 289.95,342.33 282.69,342.5Z" fill="#0e2d56" stroke="#0e2d56" stroke-width="0.5"/><path d="M289.77,334.49 297.03,334.31 297.21,342.15 289.95,342.33Z" fill="#0d2c51" stroke="#0d2c51" stroke-width="0.5"/><path d="M297.03,334.31 304.29,334.14 304.47,341.98 297.21,342.15Z" fill="#15336a" stroke="#15336a" stroke-width="0.5"/><path d="M304.29,334.14 311.55,333.97 311.72,341.81 304.47,341.98Z" fill="#143165" stroke="#143165" stroke-width="0.5"/><path d="M311.55,333.97 318.81,333.79 318.98,341.63 311.72,341.81Z" fill="#0e2d55" stroke="#0e2d55" stroke-width="0.5"/><path d="M318.81,333.79 326.07,333.62 326.24,341.46 318.98,341.63Z" fill="#102e5b" stroke="#102e5b" stroke-width="0.5"/><path d="M326.07,333.62 333.33,333.45 333.5,341.29 326.24,341.46Z" fill="#17336f" stroke="#17336f" stroke-width="0.5"/><path d="M333.33,333.45 340.59,333.27 340.75,341.11 333.5,341.29Z" fill="#24368b" stroke="#24368b" stroke-width="0.5"/><path d="M340.59,333.27 347.85,333.1 348.01,340.94 340.75,341.11Z" fill="#5e3e9a" stroke="#5e3e9a" stroke-width="0.5"/><path d="M144.8,345.8 152.06,345.62 152.28,353.46 145.02,353.64Z" fill="#6b4496" stroke="#6b4496" stroke-width="0.5"/><path d="M152.06,345.62 159.31,345.45 159.53,353.29 152.28,353.46Z" fill="#6f4694" stroke="#6f4694" stroke-width="0.5"/><path d="M159.31,345.45 166.57,345.28 166.79,353.12 159.53,353.29Z" fill="#634198" stroke="#634198" stroke-width="0.5"/><path d="M166.57,345.28 173.83,345.1 174.04,352.94 166.79,353.12Z" fill="#634198" stroke="#634198" stroke-width="0.5"/><path d="M173.83,345.1 181.09,344.93 181.3,352.77 174.04,352.94Z" fill="#634198" stroke="#634198" stroke-width="0.5"/><path d="M181.09,344.93 188.35,344.76 188.55,352.6 181.3,352.77Z" fill="#47399b" stroke="#47399b" stroke-width="0.5"/><path d="M188.35,344.76 195.6,344.58 195.81,352.42 188.55,352.6Z" fill="#47399b" stroke="#47399b" stroke-width="0.5"/><path d="M195.6,344.58 202.86,344.41 203.07,352.25 195.81,352.42Z" fill="#47399b" stroke="#47399b" stroke-width="0.5"/><path d="M202.86,344.41 210.12,344.24 210.32,352.08 203.07,352.25Z" fill="#2c3795" stroke="#2c3795" stroke-width="0.5"/><path d="M210.12,344.24 217.38,344.06 217.58,351.9 210.32,352.08Z" fill="#283790" stroke="#283790" stroke-width="0.5"/><path d="M217.38,344.06 224.63,343.89 224.83,351.73 217.58,351.9Z" fill="#1c3680" stroke="#1c3680" stroke-width="0.5"/><path d="M224.63,343.89 231.89,343.72 232.09,351.56 224.83,351.73Z" fill="#1b357c" stroke="#1b357c" stroke-width="0.5"/><path d="M231.89,343.72 239.15,343.54 239.34,351.38 232.09,351.56Z" fill="#1b357c" stroke="#1b357c" stroke-width="0.5"/><path d="M239.15,343.54 246.41,343.37 246.6,351.21 239.34,351.38Z" fill="#1a3578" stroke="#1a3578" stroke-width="0.5"/><path d="M246.41,343.37 253.66,343.2 253.85,351.04 246.6,351.21Z" fill="#1a3578" stroke="#1a3578" stroke-width="0.5"/><path d="M253.66,343.2 260.92,343.02 261.11,350.86 253.85,351.04Z" fill="#183474" stroke="#183474" stroke-width="0.5"/><path d="M260.92,343.02 268.18,342.85 268.36,350.69 261.11,350.86Z" fill="#16336c" stroke="#16336c" stroke-width="0.5"/><path d="M268.18,342.85 275.44,342.68 275.62,350.52 268.36,350.69Z" fill="#16336c" stroke="#16336c" stroke-width="0.5"/><path d="M275.44,342.68 282.69,342.5 282.88,350.34 275.62,350.52Z" fill="#123062" stroke="#123062" stroke-width="0.5"/><path d="M282.69,342.5 289.95,342.33 290.13,350.17 282.88,350.34Z" fill="#0c2a4c" stroke="#0c2a4c" stroke-width="0.5"/><path d="M289.95,342.33 297.21,342.15 297.39,350 290.13,350.17Z" fill="#0c2a4c" stroke="#0c2a4c" stroke-width="0.5"/><path d="M297.21,342.15 304.47,341.98 304.64,349.82 297.39,350Z" fill="#0a2847" stroke="#0a2847" stroke-width="0.5"/><path d="M304.47,341.98 311.72,341.81 311.9,349.65 304.64,349.82Z" fill="#07253c" stroke="#07253c" stroke-width="0.5"/><path d="M311.72,341.81 318.98,341.63 319.15,349.48 311.9,349.65Z" fill="#062336" stroke="#062336" stroke-width="0.5"/><path d="M318.98,341.63 326.24,341.46 326.41,349.3 319.15,349.48Z" fill="#0a2847" stroke="#0a2847" stroke-width="0.5"/><path d="M326.24,341.46 333.5,341.29 333.66,349.13 326.41,349.3Z" fill="#143267" stroke="#143267" stroke-width="0.5"/><path d="M333.5,341.29 340.75,341.11 340.92,348.96 333.66,349.13Z" fill="#203685" stroke="#203685" stroke-width="0.5"/><path d="M340.75,341.11 348.01,340.94 348.18,348.78 340.92,348.96Z" fill="#573b9c" stroke="#573b9c" stroke-width="0.5"/></g>
<g><circle cx="206.37" cy="57.93" r="0.72" fill="#5060b0" fill-opacity="0.62"/><circle cx="213.7" cy="57.75" r="0.72" fill="#5060b0" fill-opacity="0.62"/><circle cx="221.03" cy="57.58" r="0.72" fill="#5060b0" fill-opacity="0.62"/><circle cx="228.37" cy="57.4" r="0.72" fill="#5060b0" fill-opacity="0.62"/><circle cx="235.7" cy="57.23" r="0.72" fill="#5060b0" fill-opacity="0.62"/><circle cx="243.03" cy="57.05" r="0.72" fill="#5060b0" fill-opacity="0.62"/><circle cx="250.37" cy="56.88" r="0.72" fill="#5060b0" fill-opacity="0.62"/><circle cx="257.7" cy="56.7" r="0.72" fill="#5060b0" fill-opacity="0.62"/><circle cx="265.03" cy="56.53" r="0.72" fill="#5060b0" fill-opacity="0.62"/><circle cx="272.36" cy="56.35" r="0.72" fill="#5060b0" fill-opacity="0.62"/><circle cx="279.7" cy="56.18" r="0.72" fill="#5060b0" fill-opacity="0.62"/><circle cx="287.03" cy="56" r="0.72" fill="#5060b0" fill-opacity="0.62"/><circle cx="294.36" cy="55.83" r="0.72" fill="#5060b0" fill-opacity="0.62"/><circle cx="301.69" cy="55.65" r="0.72" fill="#5060b0" fill-opacity="0.62"/><circle cx="309.03" cy="55.48" r="0.72" fill="#5060b0" fill-opacity="0.62"/><circle cx="316.36" cy="55.3" r="0.72" fill="#5060b0" fill-opacity="0.62"/><circle cx="323.69" cy="55.12" r="0.72" fill="#5060b0" fill-opacity="0.62"/><circle cx="331.02" cy="54.95" r="0.72" fill="#5060b0" fill-opacity="0.62"/><circle cx="338.36" cy="54.77" r="0.72" fill="#5060b0" fill-opacity="0.62"/><circle cx="345.69" cy="54.6" r="0.72" fill="#5060b0" fill-opacity="0.62"/><circle cx="353.02" cy="54.42" r="0.72" fill="#5060b0" fill-opacity="0.62"/><circle cx="360.35" cy="54.25" r="0.72" fill="#5060b0" fill-opacity="0.62"/><circle cx="367.69" cy="54.07" r="0.72" fill="#5060b0" fill-opacity="0.62"/><circle cx="375.02" cy="53.9" r="0.72" fill="#5060b0" fill-opacity="0.62"/><circle cx="382.35" cy="53.72" r="0.72" fill="#5060b0" fill-opacity="0.62"/><circle cx="389.68" cy="53.55" r="0.72" fill="#5060b0" fill-opacity="0.62"/><circle cx="397.02" cy="53.37" r="0.72" fill="#5060b0" fill-opacity="0.62"/><circle cx="404.35" cy="53.2" r="0.72" fill="#5060b0" fill-opacity="0.62"/><circle cx="411.68" cy="53.02" r="0.72" fill="#5060b0" fill-opacity="0.62"/><circle cx="199.24" cy="65.95" r="0.72" fill="#5060b0" fill-opacity="0.62"/><circle cx="206.57" cy="65.77" r="0.72" fill="#5060b0" fill-opacity="0.62"/><circle cx="213.9" cy="65.6" r="0.72" fill="#5060b0" fill-opacity="0.62"/><circle cx="221.23" cy="65.42" r="0.72" fill="#5060b0" fill-opacity="0.62"/><circle cx="228.56" cy="65.25" r="0.72" fill="#5060b0" fill-opacity="0.62"/><circle cx="235.89" cy="65.07" r="0.72" fill="#5060b0" fill-opacity="0.62"/><circle cx="243.22" cy="64.9" r="0.72" fill="#5060b0" fill-opacity="0.62"/><circle cx="250.55" cy="64.72" r="0.72" fill="#5060b0" fill-opacity="0.62"/><circle cx="257.89" cy="64.54" r="0.72" fill="#5060b0" fill-opacity="0.62"/><circle cx="265.22" cy="64.37" r="0.72" fill="#5060b0" fill-opacity="0.62"/><circle cx="272.55" cy="64.19" r="0.72" fill="#5060b0" fill-opacity="0.62"/><circle cx="279.88" cy="64.02" r="0.72" fill="#5060b0" fill-opacity="0.62"/><circle cx="287.21" cy="63.84" r="0.72" fill="#5060b0" fill-opacity="0.62"/><circle cx="294.54" cy="63.67" r="0.72" fill="#5060b0" fill-opacity="0.62"/><circle cx="301.87" cy="63.49" r="0.72" fill="#5060b0" fill-opacity="0.62"/><circle cx="309.2" cy="63.32" r="0.72" fill="#5060b0" fill-opacity="0.62"/><circle cx="316.53" cy="63.14" r="0.72" fill="#5060b0" fill-opacity="0.62"/><circle cx="323.86" cy="62.97" r="0.72" fill="#5060b0" fill-opacity="0.62"/><circle cx="331.19" cy="62.79" r="0.72" fill="#5060b0" fill-opacity="0.62"/><circle cx="338.52" cy="62.62" r="0.72" fill="#5060b0" fill-opacity="0.62"/><circle cx="345.85" cy="62.44" r="0.72" fill="#5060b0" fill-opacity="0.62"/><circle cx="353.18" cy="62.27" r="0.72" fill="#5060b0" fill-opacity="0.62"/><circle cx="360.51" cy="62.09" r="0.72" fill="#5060b0" fill-opacity="0.62"/><circle cx="367.84" cy="61.92" r="0.72" fill="#5060b0" fill-opacity="0.62"/><circle cx="375.17" cy="61.74" r="0.72" fill="#5060b0" fill-opacity="0.62"/><circle cx="382.51" cy="61.56" r="0.72" fill="#5060b0" fill-opacity="0.62"/><circle cx="389.84" cy="61.39" r="0.72" fill="#5060b0" fill-opacity="0.62"/><circle cx="397.17" cy="61.21" r="0.72" fill="#5060b0" fill-opacity="0.62"/><circle cx="404.5" cy="61.04" r="0.72" fill="#5060b0" fill-opacity="0.62"/><circle cx="411.83" cy="60.86" r="0.72" fill="#5060b0" fill-opacity="0.62"/><circle cx="199.44" cy="73.79" r="0.72" fill="#5060b0" fill-opacity="0.62"/><circle cx="206.77" cy="73.61" r="0.72" fill="#5060b0" fill-opacity="0.62"/><circle cx="214.1" cy="73.44" r="0.72" fill="#5060b0" fill-opacity="0.62"/><circle cx="221.43" cy="73.26" r="0.72" fill="#5060b0" fill-opacity="0.62"/><circle cx="228.76" cy="73.09" r="0.72" fill="#5060b0" fill-opacity="0.62"/><circle cx="236.09" cy="72.91" r="0.72" fill="#5060b0" fill-opacity="0.62"/><circle cx="243.42" cy="72.74" r="0.72" fill="#5060b0" fill-opacity="0.62"/><circle cx="250.74" cy="72.56" r="0.72" fill="#5060b0" fill-opacity="0.62"/><circle cx="258.07" cy="72.39" r="0.72" fill="#5060b0" fill-opacity="0.62"/><circle cx="265.4" cy="72.21" r="0.72" fill="#5060b0" fill-opacity="0.62"/><circle cx="272.73" cy="72.04" r="0.72" fill="#5060b0" fill-opacity="0.62"/><circle cx="280.06" cy="71.86" r="0.72" fill="#5060b0" fill-opacity="0.62"/><circle cx="287.39" cy="71.69" r="0.72" fill="#5060b0" fill-opacity="0.62"/><circle cx="294.72" cy="71.51" r="0.72" fill="#5060b0" fill-opacity="0.62"/><circle cx="302.04" cy="71.34" r="0.72" fill="#5060b0" fill-opacity="0.62"/><circle cx="309.37" cy="71.16" r="0.72" fill="#5060b0" fill-opacity="0.62"/><circle cx="316.7" cy="70.98" r="0.72" fill="#5060b0" fill-opacity="0.62"/><circle cx="324.03" cy="70.81" r="0.72" fill="#5060b0" fill-opacity="0.62"/><circle cx="331.36" cy="70.63" r="0.72" fill="#5060b0" fill-opacity="0.62"/><circle cx="338.69" cy="70.46" r="0.72" fill="#5060b0" fill-opacity="0.62"/><circle cx="346.02" cy="70.28" r="0.72" fill="#5060b0" fill-opacity="0.62"/><circle cx="353.34" cy="70.11" r="0.72" fill="#5060b0" fill-opacity="0.62"/><circle cx="360.67" cy="69.93" r="0.72" fill="#5060b0" fill-opacity="0.62"/><circle cx="368" cy="69.76" r="0.72" fill="#5060b0" fill-opacity="0.62"/><circle cx="375.33" cy="69.58" r="0.72" fill="#5060b0" fill-opacity="0.62"/><circle cx="382.66" cy="69.41" r="0.72" fill="#5060b0" fill-opacity="0.62"/><circle cx="389.99" cy="69.23" r="0.72" fill="#5060b0" fill-opacity="0.62"/><circle cx="397.31" cy="69.06" r="0.72" fill="#5060b0" fill-opacity="0.62"/><circle cx="404.64" cy="68.88" r="0.72" fill="#5060b0" fill-opacity="0.62"/><circle cx="411.97" cy="68.71" r="0.72" fill="#5060b0" fill-opacity="0.62"/><circle cx="199.65" cy="81.63" r="0.72" fill="#5060b0" fill-opacity="0.62"/><circle cx="206.98" cy="81.45" r="0.72" fill="#5060b0" fill-opacity="0.62"/><circle cx="214.3" cy="81.28" r="0.72" fill="#5060b0" fill-opacity="0.62"/><circle cx="221.63" cy="81.1" r="0.72" fill="#5060b0" fill-opacity="0.62"/><circle cx="228.95" cy="80.93" r="0.72" fill="#5060b0" fill-opacity="0.62"/><circle cx="236.28" cy="80.75" r="0.72" fill="#5060b0" fill-opacity="0.62"/><circle cx="243.61" cy="80.58" r="0.72" fill="#5060b0" fill-opacity="0.62"/><circle cx="250.93" cy="80.4" r="0.72" fill="#5060b0" fill-opacity="0.62"/><circle cx="258.26" cy="80.23" r="0.72" fill="#5060b0" fill-opacity="0.62"/><circle cx="265.59" cy="80.05" r="0.72" fill="#5060b0" fill-opacity="0.62"/><circle cx="272.91" cy="79.88" r="0.72" fill="#5060b0" fill-opacity="0.62"/><circle cx="280.24" cy="79.7" r="0.72" fill="#5060b0" fill-opacity="0.62"/><circle cx="287.57" cy="79.53" r="0.72" fill="#5060b0" fill-opacity="0.62"/><circle cx="294.89" cy="79.35" r="0.72" fill="#5060b0" fill-opacity="0.62"/><circle cx="302.22" cy="79.18" r="0.72" fill="#5060b0" fill-opacity="0.62"/><circle cx="309.55" cy="79" r="0.72" fill="#5060b0" fill-opacity="0.62"/><circle cx="316.87" cy="78.83" r="0.72" fill="#5060b0" fill-opacity="0.62"/><circle cx="324.2" cy="78.65" r="0.72" fill="#5060b0" fill-opacity="0.62"/><circle cx="331.53" cy="78.48" r="0.72" fill="#5060b0" fill-opacity="0.62"/><circle cx="338.85" cy="78.3" r="0.72" fill="#5060b0" fill-opacity="0.62"/><circle cx="346.18" cy="78.13" r="0.72" fill="#5060b0" fill-opacity="0.62"/><circle cx="353.5" cy="77.95" r="0.72" fill="#5060b0" fill-opacity="0.62"/><circle cx="360.83" cy="77.78" r="0.72" fill="#5060b0" fill-opacity="0.62"/><circle cx="368.16" cy="77.6" r="0.72" fill="#5060b0" fill-opacity="0.62"/><circle cx="375.48" cy="77.43" r="0.72" fill="#5060b0" fill-opacity="0.62"/><circle cx="382.81" cy="77.25" r="0.72" fill="#5060b0" fill-opacity="0.62"/><circle cx="390.14" cy="77.08" r="0.72" fill="#5060b0" fill-opacity="0.62"/><circle cx="397.46" cy="76.9" r="0.72" fill="#5060b0" fill-opacity="0.62"/><circle cx="404.79" cy="76.73" r="0.72" fill="#5060b0" fill-opacity="0.62"/><circle cx="412.12" cy="76.55" r="0.72" fill="#5060b0" fill-opacity="0.62"/><circle cx="236.48" cy="88.6" r="0.72" fill="#5060b0" fill-opacity="0.62"/><circle cx="243.8" cy="88.42" r="0.72" fill="#5060b0" fill-opacity="0.62"/><circle cx="251.12" cy="88.25" r="0.72" fill="#5060b0" fill-opacity="0.62"/><circle cx="258.45" cy="88.07" r="0.72" fill="#5060b0" fill-opacity="0.62"/><circle cx="265.77" cy="87.9" r="0.72" fill="#5060b0" fill-opacity="0.62"/><circle cx="273.1" cy="87.72" r="0.72" fill="#5060b0" fill-opacity="0.62"/><circle cx="280.42" cy="87.55" r="0.72" fill="#5060b0" fill-opacity="0.62"/><circle cx="287.75" cy="87.37" r="0.72" fill="#5060b0" fill-opacity="0.62"/><circle cx="295.07" cy="87.19" r="0.72" fill="#5060b0" fill-opacity="0.62"/><circle cx="302.39" cy="87.02" r="0.72" fill="#5060b0" fill-opacity="0.62"/><circle cx="309.72" cy="86.84" r="0.72" fill="#5060b0" fill-opacity="0.62"/><circle cx="317.04" cy="86.67" r="0.72" fill="#5060b0" fill-opacity="0.62"/><circle cx="324.37" cy="86.49" r="0.72" fill="#5060b0" fill-opacity="0.62"/><circle cx="331.69" cy="86.32" r="0.72" fill="#5060b0" fill-opacity="0.62"/><circle cx="339.02" cy="86.14" r="0.72" fill="#5060b0" fill-opacity="0.62"/><circle cx="346.34" cy="85.97" r="0.72" fill="#5060b0" fill-opacity="0.62"/><circle cx="353.67" cy="85.79" r="0.72" fill="#5060b0" fill-opacity="0.62"/><circle cx="360.99" cy="85.62" r="0.72" fill="#5060b0" fill-opacity="0.62"/><circle cx="368.31" cy="85.44" r="0.72" fill="#5060b0" fill-opacity="0.62"/><circle cx="375.64" cy="85.27" r="0.72" fill="#5060b0" fill-opacity="0.62"/><circle cx="382.96" cy="85.09" r="0.72" fill="#5060b0" fill-opacity="0.62"/><circle cx="390.29" cy="84.92" r="0.72" fill="#5060b0" fill-opacity="0.62"/><circle cx="397.61" cy="84.74" r="0.72" fill="#5060b0" fill-opacity="0.62"/><circle cx="404.94" cy="84.57" r="0.72" fill="#5060b0" fill-opacity="0.62"/><circle cx="412.26" cy="84.39" r="0.72" fill="#5060b0" fill-opacity="0.62"/><circle cx="243.99" cy="96.26" r="0.72" fill="#5060b0" fill-opacity="0.62"/><circle cx="251.31" cy="96.09" r="0.72" fill="#5060b0" fill-opacity="0.62"/><circle cx="258.64" cy="95.91" r="0.72" fill="#5060b0" fill-opacity="0.62"/><circle cx="265.96" cy="95.74" r="0.72" fill="#5060b0" fill-opacity="0.62"/><circle cx="273.28" cy="95.56" r="0.72" fill="#5060b0" fill-opacity="0.62"/><circle cx="280.6" cy="95.39" r="0.72" fill="#5060b0" fill-opacity="0.62"/><circle cx="287.93" cy="95.21" r="0.72" fill="#5060b0" fill-opacity="0.62"/><circle cx="295.25" cy="95.04" r="0.72" fill="#5060b0" fill-opacity="0.62"/><circle cx="302.57" cy="94.86" r="0.72" fill="#5060b0" fill-opacity="0.62"/><circle cx="309.89" cy="94.69" r="0.72" fill="#5060b0" fill-opacity="0.62"/><circle cx="317.21" cy="94.51" r="0.72" fill="#5060b0" fill-opacity="0.62"/><circle cx="324.54" cy="94.34" r="0.72" fill="#5060b0" fill-opacity="0.62"/><circle cx="331.86" cy="94.16" r="0.72" fill="#5060b0" fill-opacity="0.62"/><circle cx="339.18" cy="93.99" r="0.72" fill="#5060b0" fill-opacity="0.62"/><circle cx="346.5" cy="93.81" r="0.72" fill="#5060b0" fill-opacity="0.62"/><circle cx="353.83" cy="93.64" r="0.72" fill="#5060b0" fill-opacity="0.62"/><circle cx="361.15" cy="93.46" r="0.72" fill="#5060b0" fill-opacity="0.62"/><circle cx="368.47" cy="93.29" r="0.72" fill="#5060b0" fill-opacity="0.62"/><circle cx="375.79" cy="93.11" r="0.72" fill="#5060b0" fill-opacity="0.62"/><circle cx="383.12" cy="92.94" r="0.72" fill="#5060b0" fill-opacity="0.62"/><circle cx="390.44" cy="92.76" r="0.72" fill="#5060b0" fill-opacity="0.62"/><circle cx="397.76" cy="92.59" r="0.72" fill="#5060b0" fill-opacity="0.62"/><circle cx="405.08" cy="92.41" r="0.72" fill="#5060b0" fill-opacity="0.62"/><circle cx="412.41" cy="92.24" r="0.72" fill="#5060b0" fill-opacity="0.62"/><circle cx="251.5" cy="103.93" r="0.72" fill="#5060b0" fill-opacity="0.62"/><circle cx="258.82" cy="103.75" r="0.72" fill="#5060b0" fill-opacity="0.62"/><circle cx="266.14" cy="103.58" r="0.72" fill="#5060b0" fill-opacity="0.62"/><circle cx="273.46" cy="103.4" r="0.72" fill="#5060b0" fill-opacity="0.62"/><circle cx="280.78" cy="103.23" r="0.72" fill="#5060b0" fill-opacity="0.62"/><circle cx="288.11" cy="103.05" r="0.72" fill="#5060b0" fill-opacity="0.62"/><circle cx="295.43" cy="102.88" r="0.72" fill="#5060b0" fill-opacity="0.62"/><circle cx="302.75" cy="102.7" r="0.72" fill="#5060b0" fill-opacity="0.62"/><circle cx="310.07" cy="102.53" r="0.72" fill="#5060b0" fill-opacity="0.62"/><circle cx="317.39" cy="102.35" r="0.72" fill="#5060b0" fill-opacity="0.62"/><circle cx="324.71" cy="102.18" r="0.72" fill="#5060b0" fill-opacity="0.62"/><circle cx="332.03" cy="102" r="0.72" fill="#5060b0" fill-opacity="0.62"/><circle cx="339.35" cy="101.83" r="0.72" fill="#5060b0" fill-opacity="0.62"/><circle cx="346.67" cy="101.65" r="0.72" fill="#5060b0" fill-opacity="0.62"/><circle cx="353.99" cy="101.48" r="0.72" fill="#5060b0" fill-opacity="0.62"/><circle cx="361.31" cy="101.3" r="0.72" fill="#5060b0" fill-opacity="0.62"/><circle cx="368.63" cy="101.13" r="0.72" fill="#5060b0" fill-opacity="0.62"/><circle cx="375.95" cy="100.95" r="0.72" fill="#5060b0" fill-opacity="0.62"/><circle cx="383.27" cy="100.78" r="0.72" fill="#5060b0" fill-opacity="0.62"/><circle cx="390.59" cy="100.6" r="0.72" fill="#5060b0" fill-opacity="0.62"/><circle cx="397.91" cy="100.43" r="0.72" fill="#5060b0" fill-opacity="0.62"/><circle cx="405.23" cy="100.25" r="0.72" fill="#5060b0" fill-opacity="0.62"/><circle cx="412.55" cy="100.08" r="0.72" fill="#5060b0" fill-opacity="0.62"/><circle cx="266.33" cy="111.42" r="0.72" fill="#5060b0" fill-opacity="0.62"/><circle cx="273.65" cy="111.25" r="0.72" fill="#5060b0" fill-opacity="0.62"/><circle cx="280.97" cy="111.07" r="0.72" fill="#5060b0" fill-opacity="0.62"/><circle cx="288.28" cy="110.9" r="0.72" fill="#5060b0" fill-opacity="0.62"/><circle cx="295.6" cy="110.72" r="0.72" fill="#5060b0" fill-opacity="0.62"/><circle cx="302.92" cy="110.55" r="0.72" fill="#5060b0" fill-opacity="0.62"/><circle cx="310.24" cy="110.37" r="0.72" fill="#5060b0" fill-opacity="0.62"/><circle cx="317.56" cy="110.2" r="0.72" fill="#5060b0" fill-opacity="0.62"/><circle cx="324.88" cy="110.02" r="0.72" fill="#5060b0" fill-opacity="0.62"/><circle cx="332.19" cy="109.85" r="0.72" fill="#5060b0" fill-opacity="0.62"/><circle cx="339.51" cy="109.67" r="0.72" fill="#5060b0" fill-opacity="0.62"/><circle cx="346.83" cy="109.5" r="0.72" fill="#5060b0" fill-opacity="0.62"/><circle cx="354.15" cy="109.32" r="0.72" fill="#5060b0" fill-opacity="0.62"/><circle cx="361.47" cy="109.15" r="0.72" fill="#5060b0" fill-opacity="0.62"/><circle cx="368.79" cy="108.97" r="0.72" fill="#5060b0" fill-opacity="0.62"/><circle cx="376.1" cy="108.8" r="0.72" fill="#5060b0" fill-opacity="0.62"/><circle cx="383.42" cy="108.62" r="0.72" fill="#5060b0" fill-opacity="0.62"/><circle cx="390.74" cy="108.45" r="0.72" fill="#5060b0" fill-opacity="0.62"/><circle cx="398.06" cy="108.27" r="0.72" fill="#5060b0" fill-opacity="0.62"/><circle cx="273.83" cy="119.09" r="0.72" fill="#5060b0" fill-opacity="0.62"/><circle cx="281.15" cy="118.91" r="0.72" fill="#5060b0" fill-opacity="0.62"/><circle cx="288.46" cy="118.74" r="0.72" fill="#5060b0" fill-opacity="0.62"/><circle cx="295.78" cy="118.56" r="0.72" fill="#5060b0" fill-opacity="0.62"/><circle cx="303.1" cy="118.39" r="0.72" fill="#5060b0" fill-opacity="0.62"/><circle cx="310.41" cy="118.21" r="0.72" fill="#5060b0" fill-opacity="0.62"/><circle cx="317.73" cy="118.04" r="0.72" fill="#5060b0" fill-opacity="0.62"/><circle cx="325.04" cy="117.86" r="0.72" fill="#5060b0" fill-opacity="0.62"/><circle cx="332.36" cy="117.69" r="0.72" fill="#5060b0" fill-opacity="0.62"/><circle cx="339.68" cy="117.51" r="0.72" fill="#5060b0" fill-opacity="0.62"/><circle cx="346.99" cy="117.34" r="0.72" fill="#5060b0" fill-opacity="0.62"/><circle cx="354.31" cy="117.16" r="0.72" fill="#5060b0" fill-opacity="0.62"/><circle cx="361.63" cy="116.99" r="0.72" fill="#5060b0" fill-opacity="0.62"/><circle cx="368.94" cy="116.82" r="0.72" fill="#5060b0" fill-opacity="0.62"/><circle cx="376.26" cy="116.64" r="0.72" fill="#5060b0" fill-opacity="0.62"/><circle cx="383.57" cy="116.47" r="0.72" fill="#5060b0" fill-opacity="0.62"/><circle cx="266.7" cy="127.11" r="0.72" fill="#5060b0" fill-opacity="0.62"/><circle cx="274.02" cy="126.93" r="0.72" fill="#5060b0" fill-opacity="0.62"/><circle cx="281.33" cy="126.76" r="0.72" fill="#5060b0" fill-opacity="0.62"/><circle cx="288.64" cy="126.58" r="0.72" fill="#5060b0" fill-opacity="0.62"/><circle cx="295.96" cy="126.41" r="0.72" fill="#5060b0" fill-opacity="0.62"/><circle cx="303.27" cy="126.23" r="0.72" fill="#5060b0" fill-opacity="0.62"/><circle cx="310.59" cy="126.06" r="0.72" fill="#5060b0" fill-opacity="0.62"/><circle cx="317.9" cy="125.88" r="0.72" fill="#5060b0" fill-opacity="0.62"/><circle cx="325.21" cy="125.71" r="0.72" fill="#5060b0" fill-opacity="0.62"/><circle cx="332.53" cy="125.53" r="0.72" fill="#5060b0" fill-opacity="0.62"/><circle cx="339.84" cy="125.36" r="0.72" fill="#5060b0" fill-opacity="0.62"/><circle cx="347.16" cy="125.18" r="0.72" fill="#5060b0" fill-opacity="0.62"/><circle cx="354.47" cy="125.01" r="0.72" fill="#5060b0" fill-opacity="0.62"/><circle cx="361.78" cy="124.83" r="0.72" fill="#5060b0" fill-opacity="0.62"/><circle cx="369.1" cy="124.66" r="0.72" fill="#5060b0" fill-opacity="0.62"/><circle cx="376.41" cy="124.48" r="0.72" fill="#5060b0" fill-opacity="0.62"/><circle cx="244.95" cy="135.47" r="0.72" fill="#5060b0" fill-opacity="0.62"/><circle cx="252.26" cy="135.3" r="0.72" fill="#5060b0" fill-opacity="0.62"/><circle cx="259.57" cy="135.12" r="0.72" fill="#5060b0" fill-opacity="0.62"/><circle cx="266.89" cy="134.95" r="0.72" fill="#5060b0" fill-opacity="0.62"/><circle cx="274.2" cy="134.77" r="0.72" fill="#5060b0" fill-opacity="0.62"/><circle cx="281.51" cy="134.6" r="0.72" fill="#5060b0" fill-opacity="0.62"/><circle cx="288.82" cy="134.42" r="0.72" fill="#5060b0" fill-opacity="0.62"/><circle cx="296.14" cy="134.25" r="0.72" fill="#5060b0" fill-opacity="0.62"/><circle cx="303.45" cy="134.07" r="0.72" fill="#5060b0" fill-opacity="0.62"/><circle cx="310.76" cy="133.9" r="0.72" fill="#5060b0" fill-opacity="0.62"/><circle cx="318.07" cy="133.72" r="0.72" fill="#5060b0" fill-opacity="0.62"/><circle cx="325.38" cy="133.55" r="0.72" fill="#5060b0" fill-opacity="0.62"/><circle cx="332.7" cy="133.37" r="0.72" fill="#5060b0" fill-opacity="0.62"/><circle cx="340.01" cy="133.2" r="0.72" fill="#5060b0" fill-opacity="0.62"/><circle cx="347.32" cy="133.02" r="0.72" fill="#5060b0" fill-opacity="0.62"/><circle cx="354.63" cy="132.85" r="0.72" fill="#5060b0" fill-opacity="0.62"/><circle cx="361.94" cy="132.68" r="0.72" fill="#5060b0" fill-opacity="0.62"/><circle cx="369.26" cy="132.5" r="0.72" fill="#5060b0" fill-opacity="0.62"/><circle cx="259.76" cy="142.96" r="0.72" fill="#5060b0" fill-opacity="0.62"/><circle cx="267.07" cy="142.79" r="0.72" fill="#5060b0" fill-opacity="0.62"/><circle cx="274.38" cy="142.61" r="0.72" fill="#5060b0" fill-opacity="0.62"/><circle cx="289" cy="142.27" r="0.72" fill="#5060b0" fill-opacity="0.62"/><circle cx="296.31" cy="142.09" r="0.72" fill="#5060b0" fill-opacity="0.62"/><circle cx="303.62" cy="141.92" r="0.72" fill="#5060b0" fill-opacity="0.62"/><circle cx="310.93" cy="141.74" r="0.72" fill="#5060b0" fill-opacity="0.62"/><circle cx="318.24" cy="141.57" r="0.72" fill="#5060b0" fill-opacity="0.62"/><circle cx="325.55" cy="141.39" r="0.72" fill="#5060b0" fill-opacity="0.62"/><circle cx="332.86" cy="141.22" r="0.72" fill="#5060b0" fill-opacity="0.62"/><circle cx="340.17" cy="141.04" r="0.72" fill="#5060b0" fill-opacity="0.62"/><circle cx="347.48" cy="140.87" r="0.72" fill="#5060b0" fill-opacity="0.62"/><circle cx="354.79" cy="140.69" r="0.72" fill="#5060b0" fill-opacity="0.62"/><circle cx="362.1" cy="140.52" r="0.72" fill="#5060b0" fill-opacity="0.62"/><circle cx="274.57" cy="150.46" r="0.72" fill="#5060b0" fill-opacity="0.62"/><circle cx="289.18" cy="150.11" r="0.72" fill="#5060b0" fill-opacity="0.62"/><circle cx="296.49" cy="149.93" r="0.72" fill="#5060b0" fill-opacity="0.62"/><circle cx="303.8" cy="149.76" r="0.72" fill="#5060b0" fill-opacity="0.62"/><circle cx="311.11" cy="149.58" r="0.72" fill="#5060b0" fill-opacity="0.62"/><circle cx="318.41" cy="149.41" r="0.72" fill="#5060b0" fill-opacity="0.62"/><circle cx="325.72" cy="149.23" r="0.72" fill="#5060b0" fill-opacity="0.62"/><circle cx="333.03" cy="149.06" r="0.72" fill="#5060b0" fill-opacity="0.62"/><circle cx="340.34" cy="148.88" r="0.72" fill="#5060b0" fill-opacity="0.62"/><circle cx="347.65" cy="148.71" r="0.72" fill="#5060b0" fill-opacity="0.62"/><circle cx="354.95" cy="148.54" r="0.72" fill="#5060b0" fill-opacity="0.62"/><circle cx="362.26" cy="148.36" r="0.72" fill="#5060b0" fill-opacity="0.62"/><circle cx="289.36" cy="157.95" r="0.72" fill="#5060b0" fill-opacity="0.62"/><circle cx="296.67" cy="157.78" r="0.72" fill="#5060b0" fill-opacity="0.62"/><circle cx="303.97" cy="157.6" r="0.72" fill="#5060b0" fill-opacity="0.62"/><circle cx="311.28" cy="157.43" r="0.72" fill="#5060b0" fill-opacity="0.62"/><circle cx="318.59" cy="157.25" r="0.72" fill="#5060b0" fill-opacity="0.62"/><circle cx="325.89" cy="157.08" r="0.72" fill="#5060b0" fill-opacity="0.62"/><circle cx="333.2" cy="156.9" r="0.72" fill="#5060b0" fill-opacity="0.62"/><circle cx="340.5" cy="156.73" r="0.72" fill="#5060b0" fill-opacity="0.62"/><circle cx="347.81" cy="156.55" r="0.72" fill="#5060b0" fill-opacity="0.62"/><circle cx="355.11" cy="156.38" r="0.72" fill="#5060b0" fill-opacity="0.62"/><circle cx="289.54" cy="165.79" r="0.72" fill="#5060b0" fill-opacity="0.62"/><circle cx="296.84" cy="165.62" r="0.72" fill="#5060b0" fill-opacity="0.62"/><circle cx="304.15" cy="165.44" r="0.72" fill="#5060b0" fill-opacity="0.62"/><circle cx="311.45" cy="165.27" r="0.72" fill="#5060b0" fill-opacity="0.62"/><circle cx="318.76" cy="165.09" r="0.72" fill="#5060b0" fill-opacity="0.62"/><circle cx="326.06" cy="164.92" r="0.72" fill="#5060b0" fill-opacity="0.62"/><circle cx="333.36" cy="164.74" r="0.72" fill="#5060b0" fill-opacity="0.62"/><circle cx="340.67" cy="164.57" r="0.72" fill="#5060b0" fill-opacity="0.62"/><circle cx="347.97" cy="164.4" r="0.72" fill="#5060b0" fill-opacity="0.62"/><circle cx="355.28" cy="164.22" r="0.72" fill="#5060b0" fill-opacity="0.62"/><circle cx="289.72" cy="173.63" r="0.72" fill="#5060b0" fill-opacity="0.62"/><circle cx="297.02" cy="173.46" r="0.72" fill="#5060b0" fill-opacity="0.62"/><circle cx="304.32" cy="173.29" r="0.72" fill="#5060b0" fill-opacity="0.62"/><circle cx="311.63" cy="173.11" r="0.72" fill="#5060b0" fill-opacity="0.62"/><circle cx="318.93" cy="172.94" r="0.72" fill="#5060b0" fill-opacity="0.62"/><circle cx="326.23" cy="172.76" r="0.72" fill="#5060b0" fill-opacity="0.62"/><circle cx="333.53" cy="172.59" r="0.72" fill="#5060b0" fill-opacity="0.62"/><circle cx="340.83" cy="172.41" r="0.72" fill="#5060b0" fill-opacity="0.62"/><ellipse cx="348.13" cy="172.24" rx="0.8" ry="1.25" fill="#6ea2e2" fill-opacity="0.7"/><circle cx="355.44" cy="172.06" r="0.72" fill="#5060b0" fill-opacity="0.62"/><circle cx="289.9" cy="181.48" r="0.72" fill="#5060b0" fill-opacity="0.62"/><circle cx="297.2" cy="181.3" r="0.72" fill="#5060b0" fill-opacity="0.62"/><circle cx="304.5" cy="181.13" r="0.72" fill="#5060b0" fill-opacity="0.62"/><circle cx="311.8" cy="180.95" r="0.72" fill="#5060b0" fill-opacity="0.62"/><circle cx="319.1" cy="180.78" r="0.72" fill="#5060b0" fill-opacity="0.62"/><circle cx="326.4" cy="180.6" r="0.72" fill="#5060b0" fill-opacity="0.62"/><circle cx="333.7" cy="180.43" r="0.72" fill="#5060b0" fill-opacity="0.62"/><circle cx="341" cy="180.26" r="0.72" fill="#5060b0" fill-opacity="0.62"/><ellipse cx="348.3" cy="180.08" rx="0.8" ry="1.25" fill="#6ea2e2" fill-opacity="0.7"/><circle cx="290.08" cy="189.32" r="0.72" fill="#5060b0" fill-opacity="0.62"/><circle cx="297.38" cy="189.14" r="0.72" fill="#5060b0" fill-opacity="0.62"/><circle cx="304.67" cy="188.97" r="0.72" fill="#5060b0" fill-opacity="0.62"/><circle cx="311.97" cy="188.8" r="0.72" fill="#5060b0" fill-opacity="0.62"/><circle cx="319.27" cy="188.62" r="0.72" fill="#5060b0" fill-opacity="0.62"/><circle cx="326.57" cy="188.45" r="0.72" fill="#5060b0" fill-opacity="0.62"/><circle cx="333.87" cy="188.27" r="0.72" fill="#5060b0" fill-opacity="0.62"/><ellipse cx="341.16" cy="188.1" rx="0.8" ry="1.25" fill="#6ea2e2" fill-opacity="0.7"/><ellipse cx="348.46" cy="187.92" rx="0.8" ry="1.25" fill="#6ea2e2" fill-opacity="0.7"/><circle cx="290.26" cy="197.16" r="0.72" fill="#5060b0" fill-opacity="0.62"/><circle cx="297.55" cy="196.99" r="0.72" fill="#5060b0" fill-opacity="0.62"/><circle cx="304.85" cy="196.81" r="0.72" fill="#5060b0" fill-opacity="0.62"/><circle cx="312.15" cy="196.64" r="0.72" fill="#5060b0" fill-opacity="0.62"/><circle cx="319.44" cy="196.46" r="0.72" fill="#5060b0" fill-opacity="0.62"/><circle cx="326.74" cy="196.29" r="0.72" fill="#5060b0" fill-opacity="0.62"/><circle cx="334.03" cy="196.11" r="0.72" fill="#5060b0" fill-opacity="0.62"/><ellipse cx="341.33" cy="195.94" rx="0.8" ry="1.25" fill="#6ea2e2" fill-opacity="0.7"/><circle cx="290.44" cy="205" r="0.72" fill="#5060b0" fill-opacity="0.62"/><circle cx="297.73" cy="204.83" r="0.72" fill="#5060b0" fill-opacity="0.62"/><circle cx="305.03" cy="204.65" r="0.72" fill="#5060b0" fill-opacity="0.62"/><circle cx="312.32" cy="204.48" r="0.72" fill="#5060b0" fill-opacity="0.62"/><circle cx="319.61" cy="204.31" r="0.72" fill="#5060b0" fill-opacity="0.62"/><circle cx="326.91" cy="204.13" r="0.72" fill="#5060b0" fill-opacity="0.62"/><circle cx="334.2" cy="203.96" r="0.72" fill="#5060b0" fill-opacity="0.62"/><ellipse cx="341.49" cy="203.78" rx="0.8" ry="1.25" fill="#6ea2e2" fill-opacity="0.7"/><circle cx="276.03" cy="213.19" r="0.72" fill="#5060b0" fill-opacity="0.62"/><circle cx="283.33" cy="213.02" r="0.72" fill="#5060b0" fill-opacity="0.62"/><circle cx="290.62" cy="212.85" r="0.72" fill="#5060b0" fill-opacity="0.62"/><circle cx="297.91" cy="212.67" r="0.72" fill="#5060b0" fill-opacity="0.62"/><circle cx="305.2" cy="212.5" r="0.72" fill="#5060b0" fill-opacity="0.62"/><circle cx="312.49" cy="212.32" r="0.72" fill="#5060b0" fill-opacity="0.62"/><circle cx="319.78" cy="212.15" r="0.72" fill="#5060b0" fill-opacity="0.62"/><circle cx="327.08" cy="211.97" r="0.72" fill="#5060b0" fill-opacity="0.62"/><circle cx="334.37" cy="211.8" r="0.72" fill="#5060b0" fill-opacity="0.62"/><ellipse cx="341.66" cy="211.63" rx="0.8" ry="1.25" fill="#6ea2e2" fill-opacity="0.7"/><circle cx="268.93" cy="221.21" r="0.72" fill="#5060b0" fill-opacity="0.62"/><circle cx="276.22" cy="221.04" r="0.72" fill="#5060b0" fill-opacity="0.62"/><circle cx="283.51" cy="220.86" r="0.72" fill="#5060b0" fill-opacity="0.62"/><circle cx="290.8" cy="220.69" r="0.72" fill="#5060b0" fill-opacity="0.62"/><circle cx="298.09" cy="220.51" r="0.72" fill="#5060b0" fill-opacity="0.62"/><circle cx="305.38" cy="220.34" r="0.72" fill="#5060b0" fill-opacity="0.62"/><circle cx="312.67" cy="220.16" r="0.72" fill="#5060b0" fill-opacity="0.62"/><circle cx="319.96" cy="219.99" r="0.72" fill="#5060b0" fill-opacity="0.62"/><circle cx="327.24" cy="219.82" r="0.72" fill="#5060b0" fill-opacity="0.62"/><circle cx="334.53" cy="219.64" r="0.72" fill="#5060b0" fill-opacity="0.62"/><circle cx="341.82" cy="219.47" r="0.72" fill="#5060b0" fill-opacity="0.62"/><circle cx="261.83" cy="229.23" r="0.72" fill="#5060b0" fill-opacity="0.62"/><circle cx="269.11" cy="229.05" r="0.72" fill="#5060b0" fill-opacity="0.62"/><circle cx="276.4" cy="228.88" r="0.72" fill="#5060b0" fill-opacity="0.62"/><circle cx="283.69" cy="228.7" r="0.72" fill="#5060b0" fill-opacity="0.62"/><circle cx="312.84" cy="228.01" r="0.72" fill="#5060b0" fill-opacity="0.62"/><circle cx="320.13" cy="227.83" r="0.72" fill="#5060b0" fill-opacity="0.62"/><circle cx="327.41" cy="227.66" r="0.72" fill="#5060b0" fill-opacity="0.62"/><circle cx="334.7" cy="227.48" r="0.72" fill="#5060b0" fill-opacity="0.62"/><circle cx="247.44" cy="237.42" r="0.72" fill="#5060b0" fill-opacity="0.62"/><circle cx="254.73" cy="237.24" r="0.72" fill="#5060b0" fill-opacity="0.62"/><circle cx="262.02" cy="237.07" r="0.72" fill="#5060b0" fill-opacity="0.62"/><circle cx="269.3" cy="236.89" r="0.72" fill="#5060b0" fill-opacity="0.62"/><circle cx="276.59" cy="236.72" r="0.72" fill="#5060b0" fill-opacity="0.62"/><circle cx="283.87" cy="236.55" r="0.72" fill="#5060b0" fill-opacity="0.62"/><circle cx="313.01" cy="235.85" r="0.72" fill="#5060b0" fill-opacity="0.62"/><circle cx="320.3" cy="235.68" r="0.72" fill="#5060b0" fill-opacity="0.62"/><circle cx="327.58" cy="235.5" r="0.72" fill="#5060b0" fill-opacity="0.62"/><circle cx="233.07" cy="245.61" r="0.72" fill="#5060b0" fill-opacity="0.62"/><circle cx="240.35" cy="245.43" r="0.72" fill="#5060b0" fill-opacity="0.62"/><circle cx="247.64" cy="245.26" r="0.72" fill="#5060b0" fill-opacity="0.62"/><circle cx="254.92" cy="245.08" r="0.72" fill="#5060b0" fill-opacity="0.62"/><circle cx="262.2" cy="244.91" r="0.72" fill="#5060b0" fill-opacity="0.62"/><circle cx="269.49" cy="244.74" r="0.72" fill="#5060b0" fill-opacity="0.62"/><circle cx="276.77" cy="244.56" r="0.72" fill="#5060b0" fill-opacity="0.62"/><circle cx="284.05" cy="244.39" r="0.72" fill="#5060b0" fill-opacity="0.62"/><circle cx="291.34" cy="244.21" r="0.72" fill="#5060b0" fill-opacity="0.62"/><circle cx="313.19" cy="243.69" r="0.72" fill="#5060b0" fill-opacity="0.62"/><circle cx="320.47" cy="243.52" r="0.72" fill="#5060b0" fill-opacity="0.62"/><circle cx="327.75" cy="243.34" r="0.72" fill="#5060b0" fill-opacity="0.62"/><circle cx="233.27" cy="253.45" r="0.72" fill="#5060b0" fill-opacity="0.62"/><circle cx="240.55" cy="253.27" r="0.72" fill="#5060b0" fill-opacity="0.62"/><circle cx="247.83" cy="253.1" r="0.72" fill="#5060b0" fill-opacity="0.62"/><circle cx="255.11" cy="252.93" r="0.72" fill="#5060b0" fill-opacity="0.62"/><circle cx="262.39" cy="252.75" r="0.72" fill="#5060b0" fill-opacity="0.62"/><circle cx="269.67" cy="252.58" r="0.72" fill="#5060b0" fill-opacity="0.62"/><circle cx="276.95" cy="252.4" r="0.72" fill="#5060b0" fill-opacity="0.62"/><circle cx="284.23" cy="252.23" r="0.72" fill="#5060b0" fill-opacity="0.62"/><ellipse cx="320.64" cy="251.36" rx="0.8" ry="1.25" fill="#6ea2e2" fill-opacity="0.7"/><circle cx="226.18" cy="261.46" r="0.72" fill="#5060b0" fill-opacity="0.62"/><circle cx="233.46" cy="261.29" r="0.72" fill="#5060b0" fill-opacity="0.62"/><circle cx="240.74" cy="261.12" r="0.72" fill="#5060b0" fill-opacity="0.62"/><circle cx="248.02" cy="260.94" r="0.72" fill="#5060b0" fill-opacity="0.62"/><circle cx="255.3" cy="260.77" r="0.72" fill="#5060b0" fill-opacity="0.62"/><circle cx="262.58" cy="260.59" r="0.72" fill="#5060b0" fill-opacity="0.62"/><circle cx="269.86" cy="260.42" r="0.72" fill="#5060b0" fill-opacity="0.62"/><circle cx="277.14" cy="260.25" r="0.72" fill="#5060b0" fill-opacity="0.62"/><circle cx="284.42" cy="260.07" r="0.72" fill="#5060b0" fill-opacity="0.62"/><circle cx="226.38" cy="269.31" r="0.72" fill="#5060b0" fill-opacity="0.62"/><circle cx="233.66" cy="269.13" r="0.72" fill="#5060b0" fill-opacity="0.62"/><circle cx="240.93" cy="268.96" r="0.72" fill="#5060b0" fill-opacity="0.62"/><circle cx="248.21" cy="268.78" r="0.72" fill="#5060b0" fill-opacity="0.62"/><circle cx="255.49" cy="268.61" r="0.72" fill="#5060b0" fill-opacity="0.62"/><circle cx="262.77" cy="268.44" r="0.72" fill="#5060b0" fill-opacity="0.62"/><circle cx="270.04" cy="268.26" r="0.72" fill="#5060b0" fill-opacity="0.62"/><circle cx="277.32" cy="268.09" r="0.72" fill="#5060b0" fill-opacity="0.62"/><circle cx="284.6" cy="267.91" r="0.72" fill="#5060b0" fill-opacity="0.62"/><circle cx="313.71" cy="267.22" r="0.72" fill="#5060b0" fill-opacity="0.62"/><circle cx="219.3" cy="277.32" r="0.72" fill="#5060b0" fill-opacity="0.62"/><circle cx="226.58" cy="277.15" r="0.72" fill="#5060b0" fill-opacity="0.62"/><circle cx="233.85" cy="276.97" r="0.72" fill="#5060b0" fill-opacity="0.62"/><circle cx="241.13" cy="276.8" r="0.72" fill="#5060b0" fill-opacity="0.62"/><circle cx="248.4" cy="276.63" r="0.72" fill="#5060b0" fill-opacity="0.62"/><circle cx="255.68" cy="276.45" r="0.72" fill="#5060b0" fill-opacity="0.62"/><circle cx="262.95" cy="276.28" r="0.72" fill="#5060b0" fill-opacity="0.62"/><circle cx="270.23" cy="276.1" r="0.72" fill="#5060b0" fill-opacity="0.62"/><circle cx="277.5" cy="275.93" r="0.72" fill="#5060b0" fill-opacity="0.62"/><circle cx="284.78" cy="275.76" r="0.72" fill="#5060b0" fill-opacity="0.62"/><circle cx="313.88" cy="275.06" r="0.72" fill="#5060b0" fill-opacity="0.62"/><circle cx="219.5" cy="285.16" r="0.72" fill="#5060b0" fill-opacity="0.62"/><circle cx="226.78" cy="284.99" r="0.72" fill="#5060b0" fill-opacity="0.62"/><circle cx="234.05" cy="284.82" r="0.72" fill="#5060b0" fill-opacity="0.62"/><circle cx="241.32" cy="284.64" r="0.72" fill="#5060b0" fill-opacity="0.62"/><circle cx="248.6" cy="284.47" r="0.72" fill="#5060b0" fill-opacity="0.62"/><circle cx="255.87" cy="284.29" r="0.72" fill="#5060b0" fill-opacity="0.62"/><circle cx="263.14" cy="284.12" r="0.72" fill="#5060b0" fill-opacity="0.62"/><circle cx="270.41" cy="283.95" r="0.72" fill="#5060b0" fill-opacity="0.62"/><circle cx="277.69" cy="283.77" r="0.72" fill="#5060b0" fill-opacity="0.62"/><circle cx="284.96" cy="283.6" r="0.72" fill="#5060b0" fill-opacity="0.62"/><circle cx="292.23" cy="283.43" r="0.72" fill="#5060b0" fill-opacity="0.62"/><circle cx="299.51" cy="283.25" r="0.72" fill="#5060b0" fill-opacity="0.62"/><circle cx="306.78" cy="283.08" r="0.72" fill="#5060b0" fill-opacity="0.62"/><circle cx="314.05" cy="282.9" r="0.72" fill="#5060b0" fill-opacity="0.62"/><circle cx="321.33" cy="282.73" r="0.72" fill="#5060b0" fill-opacity="0.62"/><circle cx="212.43" cy="293.18" r="0.72" fill="#5060b0" fill-opacity="0.62"/><circle cx="219.7" cy="293" r="0.72" fill="#5060b0" fill-opacity="0.62"/><circle cx="226.97" cy="292.83" r="0.72" fill="#5060b0" fill-opacity="0.62"/><circle cx="234.25" cy="292.66" r="0.72" fill="#5060b0" fill-opacity="0.62"/><ellipse cx="241.52" cy="292.48" rx="0.8" ry="1.25" fill="#6ea2e2" fill-opacity="0.7"/><ellipse cx="248.79" cy="292.31" rx="0.8" ry="1.25" fill="#6ea2e2" fill-opacity="0.7"/><ellipse cx="256.06" cy="292.14" rx="0.8" ry="1.25" fill="#6ea2e2" fill-opacity="0.7"/><ellipse cx="263.33" cy="291.96" rx="0.8" ry="1.25" fill="#6ea2e2" fill-opacity="0.7"/><circle cx="270.6" cy="291.79" r="0.72" fill="#5060b0" fill-opacity="0.62"/><circle cx="277.87" cy="291.61" r="0.72" fill="#5060b0" fill-opacity="0.62"/><circle cx="285.14" cy="291.44" r="0.72" fill="#5060b0" fill-opacity="0.62"/><circle cx="292.41" cy="291.27" r="0.72" fill="#5060b0" fill-opacity="0.62"/><circle cx="299.68" cy="291.09" r="0.72" fill="#5060b0" fill-opacity="0.62"/><ellipse cx="306.95" cy="290.92" rx="0.8" ry="1.25" fill="#6ea2e2" fill-opacity="0.7"/><circle cx="314.23" cy="290.75" r="0.72" fill="#5060b0" fill-opacity="0.62"/><circle cx="212.63" cy="301.02" r="0.72" fill="#5060b0" fill-opacity="0.62"/><ellipse cx="219.9" cy="300.85" rx="0.8" ry="1.25" fill="#6ea2e2" fill-opacity="0.7"/><ellipse cx="227.17" cy="300.67" rx="0.8" ry="1.25" fill="#6ea2e2" fill-opacity="0.7"/><ellipse cx="234.44" cy="300.5" rx="0.8" ry="1.25" fill="#6ea2e2" fill-opacity="0.7"/><ellipse cx="241.71" cy="300.33" rx="0.8" ry="1.25" fill="#6ea2e2" fill-opacity="0.7"/><ellipse cx="248.98" cy="300.15" rx="0.8" ry="1.25" fill="#6ea2e2" fill-opacity="0.7"/><ellipse cx="256.25" cy="299.98" rx="0.8" ry="1.25" fill="#6ea2e2" fill-opacity="0.7"/><ellipse cx="263.52" cy="299.8" rx="0.8" ry="1.25" fill="#6ea2e2" fill-opacity="0.7"/><ellipse cx="270.79" cy="299.63" rx="0.8" ry="1.25" fill="#6ea2e2" fill-opacity="0.7"/><circle cx="292.59" cy="299.11" r="0.72" fill="#5060b0" fill-opacity="0.62"/><ellipse cx="299.86" cy="298.94" rx="0.8" ry="1.25" fill="#6ea2e2" fill-opacity="0.7"/><ellipse cx="307.13" cy="298.76" rx="0.8" ry="1.25" fill="#6ea2e2" fill-opacity="0.7"/><ellipse cx="314.4" cy="298.59" rx="0.8" ry="1.25" fill="#6ea2e2" fill-opacity="0.7"/><circle cx="321.67" cy="298.41" r="0.72" fill="#5060b0" fill-opacity="0.62"/><circle cx="328.94" cy="298.24" r="0.72" fill="#5060b0" fill-opacity="0.62"/><ellipse cx="212.84" cy="308.86" rx="0.8" ry="1.25" fill="#6ea2e2" fill-opacity="0.7"/><ellipse cx="220.1" cy="308.69" rx="0.8" ry="1.25" fill="#6ea2e2" fill-opacity="0.7"/><ellipse cx="227.37" cy="308.51" rx="0.8" ry="1.25" fill="#6ea2e2" fill-opacity="0.7"/><ellipse cx="234.64" cy="308.34" rx="0.8" ry="1.25" fill="#6ea2e2" fill-opacity="0.7"/><ellipse cx="241.9" cy="308.17" rx="0.8" ry="1.25" fill="#6ea2e2" fill-opacity="0.7"/><ellipse cx="249.17" cy="307.99" rx="0.8" ry="1.25" fill="#6ea2e2" fill-opacity="0.7"/><ellipse cx="256.44" cy="307.82" rx="0.8" ry="1.25" fill="#6ea2e2" fill-opacity="0.7"/><ellipse cx="263.7" cy="307.65" rx="0.8" ry="1.25" fill="#6ea2e2" fill-opacity="0.7"/><ellipse cx="270.97" cy="307.47" rx="0.8" ry="1.25" fill="#6ea2e2" fill-opacity="0.7"/><ellipse cx="300.04" cy="306.78" rx="0.8" ry="1.25" fill="#6ea2e2" fill-opacity="0.7"/><ellipse cx="307.31" cy="306.6" rx="0.8" ry="1.25" fill="#6ea2e2" fill-opacity="0.7"/><ellipse cx="314.57" cy="306.43" rx="0.8" ry="1.25" fill="#6ea2e2" fill-opacity="0.7"/><ellipse cx="321.84" cy="306.26" rx="0.8" ry="1.25" fill="#6ea2e2" fill-opacity="0.7"/><circle cx="329.11" cy="306.08" r="0.72" fill="#5060b0" fill-opacity="0.62"/><circle cx="336.37" cy="305.91" r="0.72" fill="#5060b0" fill-opacity="0.62"/><ellipse cx="205.77" cy="316.88" rx="0.8" ry="1.25" fill="#6ea2e2" fill-opacity="0.7"/><ellipse cx="213.04" cy="316.7" rx="0.8" ry="1.25" fill="#6ea2e2" fill-opacity="0.7"/><ellipse cx="220.3" cy="316.53" rx="0.8" ry="1.25" fill="#6ea2e2" fill-opacity="0.7"/><ellipse cx="227.57" cy="316.36" rx="0.8" ry="1.25" fill="#6ea2e2" fill-opacity="0.7"/><ellipse cx="234.83" cy="316.18" rx="0.8" ry="1.25" fill="#6ea2e2" fill-opacity="0.7"/><ellipse cx="242.1" cy="316.01" rx="0.8" ry="1.25" fill="#6ea2e2" fill-opacity="0.7"/><ellipse cx="249.36" cy="315.84" rx="0.8" ry="1.25" fill="#6ea2e2" fill-opacity="0.7"/><ellipse cx="256.63" cy="315.66" rx="0.8" ry="1.25" fill="#6ea2e2" fill-opacity="0.7"/><ellipse cx="263.89" cy="315.49" rx="0.8" ry="1.25" fill="#6ea2e2" fill-opacity="0.7"/><ellipse cx="271.16" cy="315.31" rx="0.8" ry="1.25" fill="#6ea2e2" fill-opacity="0.7"/><ellipse cx="300.22" cy="314.62" rx="0.8" ry="1.25" fill="#6ea2e2" fill-opacity="0.7"/><ellipse cx="307.48" cy="314.45" rx="0.8" ry="1.25" fill="#6ea2e2" fill-opacity="0.7"/><ellipse cx="314.75" cy="314.27" rx="0.8" ry="1.25" fill="#6ea2e2" fill-opacity="0.7"/><ellipse cx="322.01" cy="314.1" rx="0.8" ry="1.25" fill="#6ea2e2" fill-opacity="0.7"/><circle cx="329.27" cy="313.93" r="0.72" fill="#5060b0" fill-opacity="0.62"/><circle cx="336.54" cy="313.75" r="0.72" fill="#5060b0" fill-opacity="0.62"/><ellipse cx="205.98" cy="324.72" rx="0.8" ry="1.25" fill="#6ea2e2" fill-opacity="0.7"/><ellipse cx="213.24" cy="324.54" rx="0.8" ry="1.25" fill="#6ea2e2" fill-opacity="0.7"/><ellipse cx="220.5" cy="324.37" rx="0.8" ry="1.25" fill="#6ea2e2" fill-opacity="0.7"/><ellipse cx="227.77" cy="324.2" rx="0.8" ry="1.25" fill="#6ea2e2" fill-opacity="0.7"/><ellipse cx="235.03" cy="324.02" rx="0.8" ry="1.25" fill="#6ea2e2" fill-opacity="0.7"/><ellipse cx="242.29" cy="323.85" rx="0.8" ry="1.25" fill="#6ea2e2" fill-opacity="0.7"/><ellipse cx="249.55" cy="323.68" rx="0.8" ry="1.25" fill="#6ea2e2" fill-opacity="0.7"/><ellipse cx="256.82" cy="323.5" rx="0.8" ry="1.25" fill="#6ea2e2" fill-opacity="0.7"/><ellipse cx="264.08" cy="323.33" rx="0.8" ry="1.25" fill="#6ea2e2" fill-opacity="0.7"/><ellipse cx="271.34" cy="323.16" rx="0.8" ry="1.25" fill="#6ea2e2" fill-opacity="0.7"/><ellipse cx="278.61" cy="322.98" rx="0.8" ry="1.25" fill="#6ea2e2" fill-opacity="0.7"/><ellipse cx="300.39" cy="322.46" rx="0.8" ry="1.25" fill="#6ea2e2" fill-opacity="0.7"/><ellipse cx="307.66" cy="322.29" rx="0.8" ry="1.25" fill="#6ea2e2" fill-opacity="0.7"/><ellipse cx="314.92" cy="322.12" rx="0.8" ry="1.25" fill="#6ea2e2" fill-opacity="0.7"/><ellipse cx="322.18" cy="321.94" rx="0.8" ry="1.25" fill="#6ea2e2" fill-opacity="0.7"/><ellipse cx="329.44" cy="321.77" rx="0.8" ry="1.25" fill="#6ea2e2" fill-opacity="0.7"/><ellipse cx="336.71" cy="321.6" rx="0.8" ry="1.25" fill="#6ea2e2" fill-opacity="0.7"/><ellipse cx="206.18" cy="332.56" rx="0.8" ry="1.25" fill="#6ea2e2" fill-opacity="0.7"/><ellipse cx="213.44" cy="332.39" rx="0.8" ry="1.25" fill="#6ea2e2" fill-opacity="0.7"/><ellipse cx="220.7" cy="332.21" rx="0.8" ry="1.25" fill="#6ea2e2" fill-opacity="0.7"/><ellipse cx="227.96" cy="332.04" rx="0.8" ry="1.25" fill="#6ea2e2" fill-opacity="0.7"/><ellipse cx="235.23" cy="331.87" rx="0.8" ry="1.25" fill="#6ea2e2" fill-opacity="0.7"/><ellipse cx="242.49" cy="331.69" rx="0.8" ry="1.25" fill="#6ea2e2" fill-opacity="0.7"/><ellipse cx="249.75" cy="331.52" rx="0.8" ry="1.25" fill="#6ea2e2" fill-opacity="0.7"/><ellipse cx="257.01" cy="331.35" rx="0.8" ry="1.25" fill="#6ea2e2" fill-opacity="0.7"/><ellipse cx="264.27" cy="331.17" rx="0.8" ry="1.25" fill="#6ea2e2" fill-opacity="0.7"/><ellipse cx="271.53" cy="331" rx="0.8" ry="1.25" fill="#6ea2e2" fill-opacity="0.7"/><ellipse cx="278.79" cy="330.83" rx="0.8" ry="1.25" fill="#6ea2e2" fill-opacity="0.7"/><ellipse cx="300.57" cy="330.3" rx="0.8" ry="1.25" fill="#6ea2e2" fill-opacity="0.7"/><ellipse cx="307.83" cy="330.13" rx="0.8" ry="1.25" fill="#6ea2e2" fill-opacity="0.7"/><ellipse cx="315.09" cy="329.96" rx="0.8" ry="1.25" fill="#6ea2e2" fill-opacity="0.7"/><ellipse cx="322.35" cy="329.78" rx="0.8" ry="1.25" fill="#6ea2e2" fill-opacity="0.7"/><ellipse cx="329.61" cy="329.61" rx="0.8" ry="1.25" fill="#6ea2e2" fill-opacity="0.7"/><ellipse cx="336.87" cy="329.44" rx="0.8" ry="1.25" fill="#6ea2e2" fill-opacity="0.7"/><circle cx="344.13" cy="329.26" r="0.72" fill="#5060b0" fill-opacity="0.62"/><ellipse cx="206.39" cy="340.4" rx="0.8" ry="1.25" fill="#6ea2e2" fill-opacity="0.7"/><ellipse cx="213.65" cy="340.23" rx="0.8" ry="1.25" fill="#6ea2e2" fill-opacity="0.7"/><ellipse cx="220.9" cy="340.05" rx="0.8" ry="1.25" fill="#6ea2e2" fill-opacity="0.7"/><ellipse cx="228.16" cy="339.88" rx="0.8" ry="1.25" fill="#6ea2e2" fill-opacity="0.7"/><ellipse cx="235.42" cy="339.71" rx="0.8" ry="1.25" fill="#6ea2e2" fill-opacity="0.7"/><ellipse cx="242.68" cy="339.53" rx="0.8" ry="1.25" fill="#6ea2e2" fill-opacity="0.7"/><ellipse cx="249.94" cy="339.36" rx="0.8" ry="1.25" fill="#6ea2e2" fill-opacity="0.7"/><ellipse cx="257.2" cy="339.19" rx="0.8" ry="1.25" fill="#6ea2e2" fill-opacity="0.7"/><ellipse cx="264.46" cy="339.01" rx="0.8" ry="1.25" fill="#6ea2e2" fill-opacity="0.7"/><ellipse cx="271.71" cy="338.84" rx="0.8" ry="1.25" fill="#6ea2e2" fill-opacity="0.7"/><ellipse cx="278.97" cy="338.67" rx="0.8" ry="1.25" fill="#6ea2e2" fill-opacity="0.7"/><ellipse cx="286.23" cy="338.49" rx="0.8" ry="1.25" fill="#6ea2e2" fill-opacity="0.7"/><ellipse cx="293.49" cy="338.32" rx="0.8" ry="1.25" fill="#6ea2e2" fill-opacity="0.7"/><ellipse cx="300.75" cy="338.15" rx="0.8" ry="1.25" fill="#6ea2e2" fill-opacity="0.7"/><ellipse cx="308.01" cy="337.97" rx="0.8" ry="1.25" fill="#6ea2e2" fill-opacity="0.7"/><ellipse cx="315.27" cy="337.8" rx="0.8" ry="1.25" fill="#6ea2e2" fill-opacity="0.7"/><ellipse cx="322.52" cy="337.63" rx="0.8" ry="1.25" fill="#6ea2e2" fill-opacity="0.7"/><ellipse cx="329.78" cy="337.45" rx="0.8" ry="1.25" fill="#6ea2e2" fill-opacity="0.7"/><ellipse cx="337.04" cy="337.28" rx="0.8" ry="1.25" fill="#6ea2e2" fill-opacity="0.7"/><circle cx="344.3" cy="337.11" r="0.72" fill="#5060b0" fill-opacity="0.62"/><ellipse cx="206.59" cy="348.24" rx="0.8" ry="1.25" fill="#6ea2e2" fill-opacity="0.7"/><ellipse cx="213.85" cy="348.07" rx="0.8" ry="1.25" fill="#6ea2e2" fill-opacity="0.7"/><ellipse cx="221.1" cy="347.9" rx="0.8" ry="1.25" fill="#6ea2e2" fill-opacity="0.7"/><ellipse cx="228.36" cy="347.72" rx="0.8" ry="1.25" fill="#6ea2e2" fill-opacity="0.7"/><ellipse cx="235.62" cy="347.55" rx="0.8" ry="1.25" fill="#6ea2e2" fill-opacity="0.7"/><ellipse cx="242.87" cy="347.38" rx="0.8" ry="1.25" fill="#6ea2e2" fill-opacity="0.7"/><ellipse cx="250.13" cy="347.2" rx="0.8" ry="1.25" fill="#6ea2e2" fill-opacity="0.7"/><ellipse cx="257.39" cy="347.03" rx="0.8" ry="1.25" fill="#6ea2e2" fill-opacity="0.7"/><ellipse cx="264.64" cy="346.86" rx="0.8" ry="1.25" fill="#6ea2e2" fill-opacity="0.7"/><ellipse cx="271.9" cy="346.68" rx="0.8" ry="1.25" fill="#6ea2e2" fill-opacity="0.7"/><ellipse cx="279.16" cy="346.51" rx="0.8" ry="1.25" fill="#6ea2e2" fill-opacity="0.7"/><ellipse cx="286.41" cy="346.34" rx="0.8" ry="1.25" fill="#6ea2e2" fill-opacity="0.7"/><ellipse cx="293.67" cy="346.16" rx="0.8" ry="1.25" fill="#6ea2e2" fill-opacity="0.7"/><ellipse cx="300.93" cy="345.99" rx="0.8" ry="1.25" fill="#6ea2e2" fill-opacity="0.7"/><ellipse cx="308.18" cy="345.82" rx="0.8" ry="1.25" fill="#6ea2e2" fill-opacity="0.7"/><ellipse cx="315.44" cy="345.64" rx="0.8" ry="1.25" fill="#6ea2e2" fill-opacity="0.7"/><ellipse cx="322.7" cy="345.47" rx="0.8" ry="1.25" fill="#6ea2e2" fill-opacity="0.7"/><ellipse cx="329.95" cy="345.3" rx="0.8" ry="1.25" fill="#6ea2e2" fill-opacity="0.7"/><ellipse cx="337.21" cy="345.12" rx="0.8" ry="1.25" fill="#6ea2e2" fill-opacity="0.7"/><circle cx="344.46" cy="344.95" r="0.72" fill="#5060b0" fill-opacity="0.62"/></g>
<path d="M407,108.4 408.5,109.5 410,112.5 410,114.75 407.75,117.75 405.9,120.75 404.75,126 402.5,132 401.5,138 399.4,147.5 397.5,166 395,180 394.4,186.25 396.5,189 399,193 401.5,198 402.5,203 401.5,208 400.5,212 401,214.5 403,215 405,211 407,208 409.5,208.5 411.2,211 411.2,214 409.5,217 406.5,220 403.5,224 402,226.3 401.5,230.4 402.5,235.5 401,241.6 402.5,246.8 406.6,250.9 411.7,251.4 415.8,248.8 418.9,244.7 420.4,238.6 421.5,236 421.5,356 348.6,356 347.9,335 347.2,325.9 344.4,321 340.9,314 338.1,305.6 334.6,300 332.5,298.75 326.25,294.4 320,293 321.25,286 319.4,278 318.75,270 318.1,267.5 316.9,263.75 318.75,260 325,255 332.5,243.75 335,232 337,226 338.75,223.75 345,213.75 348.75,202.5 353,190 355,185 358.75,168.75 361.25,158.75 366.9,147.5 370,138.75 371.9,135 375,130 379,126 380,124.5 382.25,120.75 386,117 390.5,114 395.75,112.5 401.75,111 404,109.5Z" fill="none" stroke="#737373" stroke-width="1.4" stroke-linejoin="round"/>
<path d="M100.66,19.26 101.24,38.87 101.82,58.47 102.4,78.07 102.98,97.67 103.56,117.27 104.14,136.88 104.71,156.48 105.29,176.08 105.87,195.68 106.45,215.28 107.03,234.89 107.61,254.49 108.19,274.09 108.76,293.69 109.34,313.3 109.92,332.9 110.5,352.5 111.08,372.1 111.66,391.7 M146.56,18.17 147.11,37.77 147.65,57.37 148.2,76.98 148.75,96.58 149.29,116.18 149.84,135.78 150.39,155.39 150.93,174.99 151.48,194.59 152.03,214.2 152.57,233.8 153.12,253.4 153.66,273 154.21,292.61 154.76,312.21 155.3,331.81 155.85,351.42 156.4,371.02 156.94,390.62 M192.46,17.07 192.97,36.67 193.49,56.28 194,75.88 194.51,95.48 195.03,115.09 195.54,134.69 196.06,154.3 196.57,173.9 197.09,193.5 197.6,213.11 198.11,232.71 198.63,252.31 199.14,271.92 199.66,291.52 200.17,311.13 200.69,330.73 201.2,350.33 201.71,369.94 202.23,389.54 M238.35,15.97 238.84,35.58 239.32,55.18 239.8,74.78 240.28,94.39 240.76,113.99 241.25,133.6 241.73,153.2 242.21,172.81 242.69,192.41 243.18,212.02 243.66,231.62 244.14,251.23 244.62,270.83 245.1,290.44 245.59,310.04 246.07,329.65 246.55,349.25 247.03,368.85 247.51,388.46 M284.25,14.87 284.7,34.48 285.15,54.08 285.6,73.69 286.05,93.3 286.5,112.9 286.95,132.51 287.4,152.11 287.85,171.72 288.3,191.32 288.75,210.93 289.2,230.53 289.65,250.14 290.1,269.74 290.55,289.35 291,308.96 291.45,328.56 291.9,348.17 292.35,367.77 292.8,387.38 M330.15,13.78 330.56,33.38 330.98,52.99 331.4,72.59 331.82,92.2 332.24,111.81 332.65,131.41 333.07,151.02 333.49,170.63 333.91,190.23 334.32,209.84 334.74,229.45 335.16,249.05 335.58,268.66 336,288.26 336.41,307.87 336.83,327.48 337.25,347.08 337.67,366.69 338.09,386.3 M376.04,12.68 376.43,32.29 376.81,51.89 377.2,71.5 377.59,91.11 377.97,110.71 378.36,130.32 378.74,149.93 379.13,169.54 379.51,189.14 379.9,208.75 380.29,228.36 380.67,247.96 381.06,267.57 381.44,287.18 381.83,306.79 382.21,326.39 382.6,346 382.99,365.61 383.37,385.21 M421.94,11.58 422.29,31.19 422.65,50.8 423,70.41 423.35,90.01 423.71,109.62 424.06,129.23 424.41,148.84 424.77,168.44 425.12,188.05 425.48,207.66 425.83,227.27 426.18,246.88 426.54,266.48 426.89,286.09 427.24,305.7 427.6,325.31 427.95,344.92 428.3,364.52 428.66,384.13 M65.76,78.95 86.97,78.44 108.19,77.93 129.4,77.42 150.61,76.92 171.82,76.41 193.04,75.9 214.25,75.4 235.46,74.89 256.67,74.38 277.89,73.87 299.1,73.37 320.31,72.86 341.52,72.35 362.74,71.85 383.95,71.34 405.16,70.83 426.37,70.32 447.59,69.82 468.8,69.31 M66.97,118.15 88.15,117.64 109.33,117.14 130.52,116.63 151.7,116.12 172.88,115.62 194.07,115.11 215.25,114.6 236.43,114.1 257.61,113.59 278.8,113.09 299.98,112.58 321.16,112.07 342.35,111.57 363.53,111.06 384.71,110.55 405.89,110.05 427.08,109.54 448.26,109.03 469.44,108.53 M68.18,157.35 89.33,156.85 110.48,156.34 131.64,155.84 152.79,155.33 173.94,154.82 195.1,154.32 216.25,153.81 237.4,153.31 258.55,152.8 279.71,152.3 300.86,151.79 322.01,151.28 343.17,150.78 364.32,150.27 385.47,149.77 406.63,149.26 427.78,148.76 448.93,148.25 470.09,147.75 M69.39,196.55 90.51,196.05 111.63,195.55 132.76,195.04 153.88,194.54 175,194.03 196.13,193.53 217.25,193.02 238.37,192.52 259.5,192.01 280.62,191.51 301.74,191 322.87,190.5 343.99,189.99 365.11,189.49 386.24,188.98 407.36,188.48 428.48,187.97 449.61,187.47 470.73,186.96 M70.59,235.76 91.69,235.25 112.78,234.75 133.87,234.25 154.97,233.74 176.06,233.24 197.16,232.73 218.25,232.23 239.34,231.73 260.44,231.22 281.53,230.72 302.62,230.21 323.72,229.71 344.81,229.2 365.9,228.7 387,228.2 408.09,227.69 429.18,227.19 450.28,226.68 471.37,226.18 M71.8,274.96 92.87,274.46 113.93,273.95 134.99,273.45 156.06,272.95 177.12,272.44 198.19,271.94 219.25,271.44 240.31,270.93 261.38,270.43 282.44,269.93 303.5,269.42 324.57,268.92 345.63,268.42 366.7,267.91 387.76,267.41 408.82,266.91 429.89,266.4 450.95,265.9 472.01,265.4 M73.01,314.16 94.05,313.66 115.08,313.16 136.11,312.66 157.15,312.15 178.18,311.65 199.22,311.15 220.25,310.65 241.28,310.14 262.32,309.64 283.35,309.14 304.39,308.64 325.42,308.13 346.45,307.63 367.49,307.13 388.52,306.63 409.56,306.12 430.59,305.62 451.62,305.12 472.66,304.62 M74.22,353.37 95.22,352.86 116.23,352.36 137.23,351.86 158.24,351.36 179.24,350.86 200.25,350.36 221.25,349.85 242.25,349.35 263.26,348.85 284.26,348.35 305.27,347.85 326.27,347.35 347.27,346.84 368.28,346.34 389.28,345.84 410.29,345.34 431.29,344.84 452.3,344.34 473.3,343.83" fill="none" stroke="#b0b0b0" stroke-opacity="0.9" stroke-width="1.1"/>
</g>
<rect x="100.5" y="49.5" width="321" height="306" fill="none" stroke="#000" stroke-width="1.1"/>
<rect x="441.5" y="125.3" width="8.1" height="154" fill="url(#cb)" stroke="#000" stroke-width="1.1"/>
<path d="M450,279.3 h4.6 M450,248.5 h4.6 M450,217.7 h4.6 M450,186.9 h4.6 M450,156.1 h4.6 M450,125.3 h4.6" stroke="#000" stroke-width="1"/>
<path d="M247.2,2.4 h8.8 M337.2,2.4 h8.8" stroke="#000" stroke-width="1.1"/>
<g font-family="'Liberation Sans', sans-serif" fill="#000" style="filter:grayscale(1)"><text x="163.9" y="20" font-size="18" text-anchor="start" textLength="191.5" lengthAdjust="spacingAndGlyphs">2026-03-19T02:00:00Z</text><text x="73.8" y="39.4" font-size="14.2" text-anchor="start" textLength="54.75" lengthAdjust="spacingAndGlyphs">112.5°E</text><text x="172.95" y="39.4" font-size="14.2" text-anchor="start" textLength="41.25" lengthAdjust="spacingAndGlyphs">113°E</text><text x="257.95" y="39.4" font-size="14.2" text-anchor="start" textLength="54.65" lengthAdjust="spacingAndGlyphs">113.5°E</text><text x="356.05" y="39.4" font-size="14.2" text-anchor="start" textLength="41.15" lengthAdjust="spacingAndGlyphs">114°E</text><text x="83.9" y="373.1" font-size="14.2" text-anchor="start" textLength="54.65" lengthAdjust="spacingAndGlyphs">112.5°E</text><text x="180.9" y="373.1" font-size="14.2" text-anchor="start" textLength="41.3" lengthAdjust="spacingAndGlyphs">113°E</text><text x="265" y="373.1" font-size="14.2" text-anchor="start" textLength="54.3" lengthAdjust="spacingAndGlyphs">113.5°E</text><text x="362.1" y="373.1" font-size="14.2" text-anchor="start" textLength="40.9" lengthAdjust="spacingAndGlyphs">114°E</text><text x="47" y="82" font-size="14.2" text-anchor="start" textLength="46.3" lengthAdjust="spacingAndGlyphs">21.6°S</text><text x="47" y="121" font-size="14.2" text-anchor="start" textLength="46.3" lengthAdjust="spacingAndGlyphs">21.8°S</text><text x="59.9" y="161" font-size="14.2" text-anchor="start" textLength="33.4" lengthAdjust="spacingAndGlyphs">22°S</text><text x="47" y="200" font-size="14.2" text-anchor="start" textLength="46.3" lengthAdjust="spacingAndGlyphs">22.2°S</text><text x="47" y="239" font-size="14.2" text-anchor="start" textLength="46.3" lengthAdjust="spacingAndGlyphs">22.4°S</text><text x="47" y="279" font-size="14.2" text-anchor="start" textLength="46.3" lengthAdjust="spacingAndGlyphs">22.6°S</text><text x="47" y="318" font-size="14.2" text-anchor="start" textLength="46.3" lengthAdjust="spacingAndGlyphs">22.8°S</text><text x="59.9" y="357" font-size="14.2" text-anchor="start" textLength="33.4" lengthAdjust="spacingAndGlyphs">23°S</text><text x="459.2" y="284" font-size="14.2" text-anchor="start" textLength="20.3" lengthAdjust="spacingAndGlyphs">0.0</text><text x="459.2" y="253" font-size="14.2" text-anchor="start" textLength="20.3" lengthAdjust="spacingAndGlyphs">0.2</text><text x="459.2" y="222" font-size="14.2" text-anchor="start" textLength="20.3" lengthAdjust="spacingAndGlyphs">0.4</text><text x="459.2" y="192" font-size="14.2" text-anchor="start" textLength="20.3" lengthAdjust="spacingAndGlyphs">0.6</text><text x="459.2" y="161" font-size="14.2" text-anchor="start" textLength="20.3" lengthAdjust="spacingAndGlyphs">0.8</text><text x="459.2" y="130" font-size="14.2" text-anchor="start" textLength="20.3" lengthAdjust="spacingAndGlyphs">1.0</text><text x="546.3" y="33" font-size="14.2" text-anchor="start" textLength="102.4" lengthAdjust="spacingAndGlyphs">Iterations: 200</text><text x="546.3" y="65" font-size="14.2" text-anchor="start" textLength="185.1" lengthAdjust="spacingAndGlyphs">nll: -5657.9885380528685</text><text x="546.3" y="98" font-size="14.2" text-anchor="start" textLength="91.4" lengthAdjust="spacingAndGlyphs">σ = 4.48e-07</text><text x="546.3" y="130" font-size="14.2" text-anchor="start" textLength="128.3" lengthAdjust="spacingAndGlyphs">,η_uv1 = 9.36e-02</text><text x="546.3" y="163" font-size="14.2" text-anchor="start" textLength="123.7" lengthAdjust="spacingAndGlyphs">η_uv2 = 7.31e-02</text><text x="546.3" y="195" font-size="14.2" text-anchor="start" textLength="125.7" lengthAdjust="spacingAndGlyphs"><tspan font-style="italic">ℓ</tspan>_uv1 = 38039.24</text><text x="546.3" y="228" font-size="14.2" text-anchor="start" textLength="125.7" lengthAdjust="spacingAndGlyphs"><tspan font-style="italic">ℓ</tspan>_uv2 = 10337.18</text><text x="546.3" y="260" font-size="14.2" text-anchor="start" textLength="107.1" lengthAdjust="spacingAndGlyphs">η_q = 4.78e-05</text><text x="546.3" y="293" font-size="14.2" text-anchor="start" textLength="108.7" lengthAdjust="spacingAndGlyphs"><tspan font-style="italic">ℓ</tspan>_q = 40572.80</text></g>
</svg></body></html>
